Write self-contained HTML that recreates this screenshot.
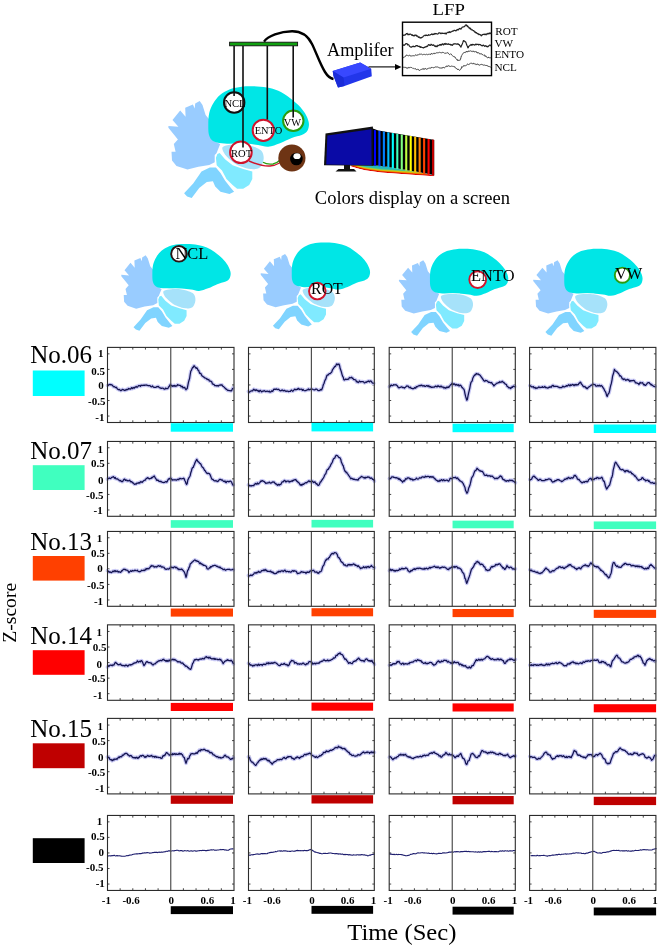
<!DOCTYPE html><html><head><meta charset="utf-8"><title>LFP color responses</title><style>
html,body{margin:0;padding:0;background:#fff;}svg{display:block;}
text{font-family:'Liberation Serif','Times New Roman',serif;fill:#000;}
.tk{font-weight:bold;font-size:11px;}
</style></head><body>
<svg width="660" height="948" viewBox="0 0 660 948">
<rect width="660" height="948" fill="#fff"/>
<defs>
<g id="brain">
<polygon points="199.7,100.9 202.5,105 205.6,115 209.3,119.5 212.9,131.4 216.5,142.3 220.2,144.1 216.5,153.2 214.7,155 214.7,162.3 209.3,165 198.4,166.8 187.5,169.5 176.5,165.9 172,160.5 171.5,151.8 175.6,151.8 173.8,144.1 177.9,139.5 168.4,127.7 168.4,125.9 178.4,126.8 172.5,120 180.2,110.5 185.6,116.8 185.2,107.7 192.9,104.5 194.7,108.6 195.2,103.6" fill="#99CCFF"/>
<path d="M208.3,125C208.33,121.38 208.37,116.92 209.2,113.3C210.03,109.68 211.5,106.35 213.3,103.3C215.1,100.25 217.22,97.35 220,95C222.78,92.65 226.38,90.58 230,89.2C233.62,87.82 237.82,87.18 241.7,86.7C245.58,86.22 249.13,86.17 253.3,86.3C257.47,86.43 262.53,86.75 266.7,87.5C270.87,88.25 274.7,89.27 278.3,90.8C281.9,92.33 284.97,94.33 288.3,96.7C291.63,99.07 295.52,102.23 298.3,105C301.08,107.77 303.28,110.52 305,113.3C306.72,116.08 308,119.33 308.6,121.7C309.2,124.07 308.95,125.78 308.6,127.5C308.25,129.22 307.65,130.75 306.5,132C305.35,133.25 304.17,134 301.7,135C299.23,136 295.32,136.62 291.7,138C288.08,139.38 283.9,141.85 280,143.3C276.1,144.75 271.97,146.42 268.3,146.7C264.63,146.98 261.72,145.52 258,145C254.28,144.48 250.17,143.8 246,143.6C241.83,143.4 237.05,143.85 233,143.8C228.95,143.75 225.03,143.77 221.7,143.3C218.37,142.83 215.12,142.38 213,141C210.88,139.62 209.78,137.67 209,135C208.22,132.33 208.27,128.62 208.3,125Z" fill="#00E6E6"/>
<polygon points="184.1,193.3 193.2,183.5 201.5,171.4 209.8,167.6 215.9,167.6 220.5,172.9 225,180.5 230.3,187.3 234.1,191.8 229.5,194.1 220.5,191.8 215.2,186.5 212.9,181.2 206.8,182 199.2,188 191.7,197.9 187.1,196.4" fill="#80D4FF" stroke="#fff" stroke-width="1.4" paint-order="stroke" stroke-linejoin="round"/>
<polygon points="219.7,152.9 225,159.2 232.6,165.3 243.2,169.1 252.3,171.4 252.3,178.9 249.2,185 243.2,188.8 237.1,188.8 232.6,185 226.5,178.9 222,170.6 216.7,165.3 215.9,157.7 217.4,153.9" fill="#80EAFF" stroke="#fff" stroke-width="1.4" paint-order="stroke" stroke-linejoin="round"/>
<path d="M223.5,146.4C225.15,145.43 228.82,144.67 232.6,144.4C236.38,144.13 242.17,144.22 246.2,144.8C250.23,145.38 254.15,146.75 256.8,147.9C259.45,149.05 260.97,149.82 262.1,151.7C263.23,153.58 263.98,156.55 263.6,159.2C263.22,161.85 261.93,165.95 259.8,167.6C257.67,169.25 253.82,169.23 250.8,169.1C247.78,168.97 244.48,167.82 241.7,166.8C238.92,165.78 236.63,164.77 234.1,163C231.57,161.23 228.4,158.33 226.5,156.2C224.6,154.07 223.2,151.83 222.7,150.2C222.2,148.57 221.85,147.37 223.5,146.4Z" fill="#A6E2FA" stroke="#fff" stroke-width="1.4" paint-order="stroke"/>
</g>
</defs>
<use href="#brain"/>
<path d="M249,161 C256,164 264,166.5 270,166 C274,165.6 277,164.5 279.5,163" fill="none" stroke="#D0142C" stroke-width="1.4"/>
<path d="M263,162.3 C266,164.2 270,164.4 273,164 C276,163.5 278,162 279.5,160.5" fill="none" stroke="#2AA010" stroke-width="1.3"/>
<circle cx="291.9" cy="158" r="13.6" fill="#6E3414"/>
<circle cx="296.4" cy="159" r="6.3" fill="#000"/>
<ellipse cx="297" cy="156.2" rx="3.6" ry="2.9" fill="#fff"/>
<circle cx="234.2" cy="102.5" r="10.2" fill="#fff" stroke="#111" stroke-width="2"/>
<circle cx="263.3" cy="130.3" r="10.6" fill="#fff" stroke="#D0142C" stroke-width="2"/>
<circle cx="293.3" cy="120.8" r="10.2" fill="#fff" stroke="#2A9D10" stroke-width="2"/>
<circle cx="240.9" cy="152.3" r="10.8" fill="#fff" stroke="#D0142C" stroke-width="2"/>
<path d="M234.1,46V96M243,46V147.5M267.3,46V119.5M293.2,46V117.5" stroke="#111" stroke-width="1.6" fill="none"/>
<text x="235" y="107" text-anchor="middle" style="font-size:10.6px">NCL</text>
<text x="268.5" y="134.2" text-anchor="middle" style="font-size:10.4px">ENTO</text>
<text x="292.5" y="125.8" text-anchor="middle" style="font-size:10.4px">VW</text>
<text x="241.6" y="156.5" text-anchor="middle" style="font-size:10.6px">ROT</text>
<rect x="229.6" y="42.2" width="68" height="3.6" fill="#10A010" stroke="#111" stroke-width="0.9"/>
<path d="M264,41.6 C268,36 280,31.5 292,31.3 C302,31.2 308,36 312,44 C316,52 320,64 325,72 C327.5,76 330,78.5 333.5,79" fill="none" stroke="#000" stroke-width="2.4"/>
<polygon points="332.7,71 360.2,62.6 371.2,68.8 371.8,76.3 344.5,86 338,87.5 333.5,76" fill="#2236EA"/>
<polygon points="332.7,71 360.2,62.6 371.2,68.8 343.5,77.6" fill="#3848FF"/>
<polygon points="332.7,71 343.5,77.6 344.5,86 338,87.5 333.5,76" fill="#1A2CD8"/>
<path d="M368.5,66.9 H396" stroke="#000" stroke-width="1.1"/>
<path d="M395,63.9 L401.5,66.9 L395,69.9Z" fill="#000"/>
<rect x="402.5" y="22.2" width="89" height="53.4" fill="#fff" stroke="#000" stroke-width="1.4"/>
<text transform="translate(448.7,15.4) scale(1.09,1)" text-anchor="middle" style="font-size:17.2px">LFP</text>
<text x="327" y="55.5" style="font-size:18.2px">Amplifer</text>
<text x="495.3" y="35" style="font-size:11.2px">ROT</text>
<text x="494.4" y="46.7" style="font-size:11.2px">VW</text>
<text x="494.4" y="58.1" style="font-size:11.2px">ENTO</text>
<text x="494.4" y="70.5" style="font-size:11.2px">NCL</text>
<path d="M402.88,35.04 L403.31,35.1 L403.75,35.37 L404.18,35.26 L404.61,35.13 L405.05,34.62 L405.48,34.78 L405.91,34.39 L406.35,33.62 L406.78,33.71 L407.21,33.37 L407.65,34.38 L408.08,34.76 L408.51,34.21 L408.95,34.08 L409.38,34.64 L409.81,34.2 L410.25,34.1 L410.68,34.14 L411.11,34.4 L411.55,34.87 L411.98,35.47 L412.41,34.82 L412.85,35.57 L413.28,35.38 L413.71,35.79 L414.15,35.88 L414.58,35.19 L415.01,35.62 L415.45,35.19 L415.88,34.98 L416.31,35.44 L416.75,36.11 L417.18,36.25 L417.61,36 L418.05,36.84 L418.48,37.34 L418.91,36.83 L419.35,37.09 L419.78,37.54 L420.21,38.14 L420.65,37.51 L421.08,37.51 L421.51,37.82 L421.95,37.31 L422.38,37.1 L422.81,36.92 L423.25,36.37 L423.68,35.77 L424.11,35.76 L424.55,35.5 L424.98,35.21 L425.41,35.68 L425.84,35.19 L426.28,35.13 L426.71,35.39 L427.14,35.48 L427.58,35.55 L428.01,35.24 L428.44,34.62 L428.88,35.09 L429.31,35.25 L429.74,35.02 L430.18,34.96 L430.61,34.6 L431.04,34.45 L431.48,34.48 L431.91,33.94 L432.34,34.37 L432.78,34.69 L433.21,33.93 L433.64,34.37 L434.08,34.42 L434.51,33.71 L434.94,33.38 L435.38,33.9 L435.81,33.58 L436.24,33.56 L436.68,33.88 L437.11,33.97 L437.54,34.07 L437.98,33.85 L438.41,33.46 L438.84,32.93 L439.28,32.85 L439.71,32.88 L440.14,33.24 L440.58,33.54 L441.01,32.98 L441.44,32.99 L441.88,33.59 L442.31,33.11 L442.74,33.4 L443.18,33.4 L443.61,33.48 L444.04,33.32 L444.48,33.38 L444.91,33.61 L445.34,33.07 L445.78,33.7 L446.21,34 L446.64,32.96 L447.08,32.72 L447.51,32.61 L447.94,32.3 L448.38,32.15 L448.81,32.6 L449.24,32.02 L449.68,31.68 L450.11,32.52 L450.54,32.02 L450.98,31.94 L451.41,31.73 L451.84,31.42 L452.28,31.35 L452.71,30.92 L453.14,31.15 L453.58,30.73 L454.01,30.37 L454.44,30.24 L454.88,30.34 L455.31,30.88 L455.74,30.55 L456.18,30.8 L456.61,30.09 L457.04,29.61 L457.48,29.9 L457.91,29.27 L458.34,29.91 L458.78,29.26 L459.21,28.81 L459.64,28.55 L460.08,28.39 L460.51,28.97 L460.94,29.09 L461.38,28.49 L461.81,27.8 L462.24,27.21 L462.68,26.99 L463.11,26.97 L463.54,27.02 L463.98,26.71 L464.41,26.58 L464.84,26.2 L465.28,25.23 L465.71,25.02 L466.14,24.85 L466.58,25.56 L467.01,25.43 L467.44,26.63 L467.88,26.17 L468.31,27.04 L468.74,27.29 L469.18,28.12 L469.61,27.81 L470.04,28.82 L470.48,28.31 L470.91,29.25 L471.34,29.72 L471.78,29.85 L472.21,29.73 L472.64,30.17 L473.08,30.58 L473.51,30.63 L473.94,30.79 L474.38,31.85 L474.81,32.03 L475.24,31.96 L475.68,32.56 L476.11,32.96 L476.54,32.7 L476.98,33.36 L477.41,33.76 L477.84,33.49 L478.28,33.73 L478.71,34.59 L479.14,34.63 L479.58,34.35 L480.01,34.59 L480.44,34.85 L480.88,35.35 L481.31,35.8 L481.74,35.09 L482.18,34.69 L482.61,34.96 L483.04,34.46 L483.48,34.4 L483.91,34.25 L484.34,34.1 L484.78,34.62 L485.21,34.07 L485.64,34.39 L486.08,34.83 L486.51,33.89 L486.94,34.23 L487.38,34.02 L487.81,33.36 L488.24,33.98 L488.68,33.8 L489.11,33.22 L489.54,33.54 L489.98,32.76 L490.41,33.39 L490.84,33.58 L491.28,32.78" fill="none" stroke="#222" stroke-width="1.2" stroke-linejoin="round"/>
<path d="M402.88,45.4 L403.31,44.8 L403.75,45.41 L404.18,45.42 L404.61,44.76 L405.05,44.67 L405.48,44 L405.91,43.68 L406.35,43.54 L406.78,43.86 L407.21,43.78 L407.65,44.94 L408.08,44.49 L408.51,44.78 L408.95,45.01 L409.38,46.16 L409.81,46.3 L410.25,46.74 L410.68,46.97 L411.11,47.27 L411.55,46.98 L411.98,46.58 L412.41,46.64 L412.85,46.43 L413.28,46.05 L413.71,46.7 L414.15,46.65 L414.58,46.53 L415.01,46.67 L415.45,46.06 L415.88,45.77 L416.31,45.66 L416.75,45.58 L417.18,46.07 L417.61,45.57 L418.05,46.09 L418.48,46.46 L418.91,46.48 L419.35,46.24 L419.78,47.1 L420.21,46.67 L420.65,47.33 L421.08,47.17 L421.51,47.11 L421.95,47.4 L422.38,47.48 L422.81,47.52 L423.25,47.95 L423.68,47.98 L424.11,47.41 L424.55,47.43 L424.98,47.07 L425.41,46.84 L425.84,47.07 L426.28,46.32 L426.71,46.62 L427.14,46.38 L427.58,46.18 L428.01,45.2 L428.44,44.88 L428.88,44.6 L429.31,44.76 L429.74,45.4 L430.18,45.39 L430.61,45.22 L431.04,44.2 L431.48,44.49 L431.91,44.88 L432.34,45.16 L432.78,45.34 L433.21,44.75 L433.64,44.74 L434.08,45.58 L434.51,45.89 L434.94,46.29 L435.38,46 L435.81,46.56 L436.24,45.96 L436.68,46.63 L437.11,46.62 L437.54,45.86 L437.98,45.21 L438.41,45.47 L438.84,45.61 L439.28,45.15 L439.71,44.56 L440.14,44.53 L440.58,45.11 L441.01,44.36 L441.44,45.07 L441.88,44.42 L442.31,44.1 L442.74,43.84 L443.18,44.73 L443.61,44.84 L444.04,44.12 L444.48,43.58 L444.91,44.02 L445.34,44.37 L445.78,43.38 L446.21,43.75 L446.64,44.24 L447.08,43.98 L447.51,44.09 L447.94,44.46 L448.38,43.97 L448.81,43.92 L449.24,44.43 L449.68,44.51 L450.11,44.58 L450.54,44.42 L450.98,45.14 L451.41,44.66 L451.84,45.03 L452.28,45.4 L452.71,44.83 L453.14,44.19 L453.58,44.13 L454.01,43.87 L454.44,43.83 L454.88,43.72 L455.31,43.89 L455.74,43.92 L456.18,43.95 L456.61,44.16 L457.04,44.18 L457.48,44.13 L457.91,43.68 L458.34,44.23 L458.78,44.64 L459.21,44.58 L459.64,45.38 L460.08,45.68 L460.51,46.51 L460.94,47.15 L461.38,45.8 L461.81,44.92 L462.24,44.01 L462.68,42.88 L463.11,41.57 L463.54,40.53 L463.98,40.78 L464.41,41.24 L464.84,41.33 L465.28,41.93 L465.71,41.94 L466.14,43.12 L466.58,44.61 L467.01,45.6 L467.44,46.3 L467.88,47.88 L468.31,47.61 L468.74,46.26 L469.18,46.03 L469.61,45.77 L470.04,45.24 L470.48,45.24 L470.91,44.49 L471.34,45.02 L471.78,45.27 L472.21,44.37 L472.64,44.81 L473.08,44.4 L473.51,44.68 L473.94,44.79 L474.38,45.12 L474.81,44.98 L475.24,44.35 L475.68,44.59 L476.11,44.04 L476.54,44.6 L476.98,44.47 L477.41,44.3 L477.84,44.27 L478.28,44.28 L478.71,45.02 L479.14,44.47 L479.58,44.51 L480.01,44.53 L480.44,44.55 L480.88,45.28 L481.31,45.38 L481.74,45.55 L482.18,45.93 L482.61,45.56 L483.04,45.02 L483.48,45.08 L483.91,45.54 L484.34,45.96 L484.78,46.38 L485.21,46.07 L485.64,45.7 L486.08,46.07 L486.51,46.63 L486.94,46.14 L487.38,46.75 L487.81,46.85 L488.24,46.4 L488.68,46.07 L489.11,45.48 L489.54,45.21 L489.98,44.97 L490.41,45.49 L490.84,45.7 L491.28,46.01" fill="none" stroke="#222" stroke-width="1.2" stroke-linejoin="round"/>
<path d="M402.88,57.69 L403.31,57.79 L403.75,57.07 L404.18,57.27 L404.61,56.97 L405.05,56.39 L405.48,56.27 L405.91,55.94 L406.35,55 L406.78,55.06 L407.21,55.32 L407.65,55.34 L408.08,55.83 L408.51,55.85 L408.95,55.49 L409.38,55.25 L409.81,55.11 L410.25,55.93 L410.68,56.08 L411.11,56.08 L411.55,55.93 L411.98,56.01 L412.41,55.75 L412.85,56.04 L413.28,55.56 L413.71,55.9 L414.15,55.94 L414.58,55.92 L415.01,55.34 L415.45,54.91 L415.88,54.99 L416.31,55.35 L416.75,55.18 L417.18,55.33 L417.61,54.92 L418.05,54.69 L418.48,55.14 L418.91,54.33 L419.35,54.06 L419.78,54.35 L420.21,54.41 L420.65,54.13 L421.08,54.22 L421.51,54.11 L421.95,54.35 L422.38,54.68 L422.81,54.7 L423.25,54.49 L423.68,54.23 L424.11,54.71 L424.55,54.27 L424.98,54.34 L425.41,54.66 L425.84,54.53 L426.28,54.15 L426.71,54.45 L427.14,54.37 L427.58,54.72 L428.01,54.48 L428.44,54.3 L428.88,54.72 L429.31,54.28 L429.74,53.95 L430.18,54.45 L430.61,54.57 L431.04,53.66 L431.48,53.23 L431.91,53.99 L432.34,54.21 L432.78,53.65 L433.21,53.29 L433.64,53.65 L434.08,54.03 L434.51,53.24 L434.94,53.25 L435.38,53.46 L435.81,52.97 L436.24,53.01 L436.68,52.68 L437.11,52.96 L437.54,52.73 L437.98,52.47 L438.41,52.73 L438.84,52.51 L439.28,52.38 L439.71,52.36 L440.14,52.65 L440.58,52.6 L441.01,53.05 L441.44,52.8 L441.88,52.5 L442.31,52.33 L442.74,52.44 L443.18,53.02 L443.61,52.58 L444.04,52.77 L444.48,53.26 L444.91,53.45 L445.34,53.09 L445.78,53.46 L446.21,53.35 L446.64,52.85 L447.08,52.56 L447.51,52.58 L447.94,53.34 L448.38,53.2 L448.81,53.87 L449.24,54.38 L449.68,54.62 L450.11,54.32 L450.54,53.83 L450.98,54.16 L451.41,54.34 L451.84,55.05 L452.28,55.48 L452.71,56.02 L453.14,56.08 L453.58,56.55 L454.01,56.46 L454.44,56.62 L454.88,57.46 L455.31,57.4 L455.74,58.33 L456.18,58.89 L456.61,59.57 L457.04,59.18 L457.48,59.56 L457.91,60.92 L458.34,60.26 L458.78,60.29 L459.21,60.39 L459.64,60.18 L460.08,60.31 L460.51,59.36 L460.94,57.54 L461.38,55.92 L461.81,55.54 L462.24,54.59 L462.68,53.91 L463.11,53.33 L463.54,52.76 L463.98,53.03 L464.41,52.51 L464.84,52.43 L465.28,52.6 L465.71,51.89 L466.14,52.15 L466.58,51.18 L467.01,51.66 L467.44,51.76 L467.88,51.99 L468.31,50.93 L468.74,51.13 L469.18,51.21 L469.61,51.24 L470.04,51.06 L470.48,50.73 L470.91,51.33 L471.34,51.45 L471.78,51.23 L472.21,51.61 L472.64,51.36 L473.08,50.82 L473.51,51.49 L473.94,51.09 L474.38,51.84 L474.81,52.04 L475.24,51.68 L475.68,51.61 L476.11,51.59 L476.54,51.81 L476.98,52.93 L477.41,52.48 L477.84,53.23 L478.28,52.69 L478.71,52.9 L479.14,53.24 L479.58,53.32 L480.01,54.19 L480.44,53.71 L480.88,53.98 L481.31,53.85 L481.74,53.82 L482.18,54.62 L482.61,54.57 L483.04,54.85 L483.48,55.3 L483.91,54.86 L484.34,54.85 L484.78,55.75 L485.21,56.53 L485.64,55.76 L486.08,56.2 L486.51,57.12 L486.94,57.36 L487.38,57.77 L487.81,57.44 L488.24,57.92 L488.68,57.06 L489.11,57.37 L489.54,57.98 L489.98,57.7 L490.41,57.75 L490.84,57.85 L491.28,57.88" fill="none" stroke="#3a3a3a" stroke-width="1" stroke-linejoin="round"/>
<path d="M402.88,67.53 L403.31,67.2 L403.75,67.48 L404.18,67.66 L404.61,67.17 L405.05,66.94 L405.48,67.57 L405.91,67.27 L406.35,67.56 L406.78,68.32 L407.21,68.51 L407.65,67.67 L408.08,67.37 L408.51,67.45 L408.95,68.19 L409.38,67.46 L409.81,67.48 L410.25,67.35 L410.68,67.33 L411.11,67.79 L411.55,67.53 L411.98,67.72 L412.41,68.16 L412.85,68.32 L413.28,68.13 L413.71,68.62 L414.15,68.61 L414.58,69.01 L415.01,68.55 L415.45,68.66 L415.88,69.04 L416.31,69.69 L416.75,69.59 L417.18,69.5 L417.61,69.31 L418.05,69.38 L418.48,69.43 L418.91,70.32 L419.35,70.39 L419.78,70.38 L420.21,69.89 L420.65,69.9 L421.08,69.37 L421.51,69.38 L421.95,68.93 L422.38,69.07 L422.81,68.87 L423.25,68.57 L423.68,69.4 L424.11,68.63 L424.55,69.19 L424.98,69.18 L425.41,68.4 L425.84,68.59 L426.28,69.2 L426.71,69.32 L427.14,68.8 L427.58,68.84 L428.01,68.73 L428.44,68.15 L428.88,68.23 L429.31,68.26 L429.74,67.98 L430.18,68.35 L430.61,67.97 L431.04,68.16 L431.48,67.36 L431.91,67.52 L432.34,67.04 L432.78,67.56 L433.21,67.93 L433.64,67.6 L434.08,67.48 L434.51,67.46 L434.94,66.94 L435.38,66.92 L435.81,67.09 L436.24,67.17 L436.68,66.93 L437.11,67.04 L437.54,66.95 L437.98,67.24 L438.41,67.52 L438.84,67.24 L439.28,67.63 L439.71,67.99 L440.14,67.78 L440.58,68.29 L441.01,67.71 L441.44,68.3 L441.88,67.66 L442.31,67.71 L442.74,68.1 L443.18,67.19 L443.61,67.5 L444.04,67.8 L444.48,67.87 L444.91,67.49 L445.34,66.87 L445.78,66.57 L446.21,66.73 L446.64,66.01 L447.08,65.65 L447.51,66.45 L447.94,66.28 L448.38,65.67 L448.81,65.86 L449.24,65.79 L449.68,66.48 L450.11,66.03 L450.54,66.44 L450.98,66.62 L451.41,66.2 L451.84,66.02 L452.28,66.32 L452.71,66.3 L453.14,66.55 L453.58,66.34 L454.01,66.86 L454.44,66.82 L454.88,66.69 L455.31,67.62 L455.74,68.26 L456.18,68.41 L456.61,68.51 L457.04,69.13 L457.48,69.61 L457.91,68.87 L458.34,69.52 L458.78,69.47 L459.21,70.14 L459.64,70.42 L460.08,69.95 L460.51,69.56 L460.94,69.15 L461.38,67.81 L461.81,66.61 L462.24,67.23 L462.68,67.07 L463.11,66.59 L463.54,65.78 L463.98,65.32 L464.41,66.07 L464.84,65.66 L465.28,65.78 L465.71,65.57 L466.14,65.36 L466.58,65.27 L467.01,64.49 L467.44,64.14 L467.88,64.16 L468.31,64.46 L468.74,64.48 L469.18,64.34 L469.61,63.99 L470.04,63.66 L470.48,63.13 L470.91,63.42 L471.34,63.4 L471.78,63.12 L472.21,63.43 L472.64,63.9 L473.08,64.09 L473.51,63.23 L473.94,63.27 L474.38,63.75 L474.81,64.06 L475.24,63.76 L475.68,64.51 L476.11,64.26 L476.54,64.63 L476.98,63.98 L477.41,64.13 L477.84,63.93 L478.28,64.78 L478.71,64.74 L479.14,65.26 L479.58,65.02 L480.01,64.64 L480.44,64.58 L480.88,64.61 L481.31,64.42 L481.74,64.28 L482.18,64.9 L482.61,64.71 L483.04,64.84 L483.48,65.2 L483.91,64.86 L484.34,65.04 L484.78,65.04 L485.21,65.11 L485.64,65.61 L486.08,65.17 L486.51,65.47 L486.94,65.29 L487.38,65.97 L487.81,65.82 L488.24,66.63 L488.68,66.38 L489.11,66.6 L489.54,66.57 L489.98,66.99 L490.41,67.05 L490.84,67.08 L491.28,66.44" fill="none" stroke="#3a3a3a" stroke-width="1" stroke-linejoin="round"/>
<defs><clipPath id="floorclip"><polygon points="350.5,165.6 373.9,165.5 376.1,165.5 380.57,166.13 385.04,166.79 389.51,167.47 393.98,168.17 398.45,168.9 402.92,169.65 407.39,170.43 411.86,171.23 416.33,172.05 420.8,172.9 425.27,173.77 429.74,174.67 434.21,175.59 433.8,176.3 405,174.2 381,172.6 365,170.3 358,168.6 350.5,166.3"/></clipPath></defs>
<g clip-path="url(#floorclip)">
<polygon points="349,160 350.5,166.3 358,168.6 365,170.3 381,172.6 405,174.2 433.8,176.3 435,160" fill="#E00000"/>
<polygon points="349,160 350.5,165.3 358,167.6 365,169.3 381,171.6 405,173.2 433.8,175.3 435,160" fill="#F06000"/>
<polygon points="349,160 350.5,164.5 358,166.8 365,168.5 381,170.8 405,172.4 433.8,174.5 435,160" fill="#E0C000"/>
<polygon points="349,160 350.5,163.7 358,166 365,167.7 381,170 405,171.6 433.8,173.7 435,160" fill="#90D050"/>
<polygon points="349,160 350.5,162.9 358,165.2 365,166.9 381,169.2 405,170.8 433.8,172.9 435,160" fill="#30C0A8"/>
<polygon points="349,160 350.5,161.9 358,164.2 365,165.9 381,168.2 405,169.8 433.8,171.9 435,160" fill="#20B8C0"/>
</g>
<polygon points="371.5,128 378.37,130.5 382.84,131.24 387.31,131.98 391.78,132.72 396.25,133.46 400.72,134.2 405.19,134.94 409.66,135.68 414.13,136.42 418.6,137.16 423.07,137.9 427.54,138.64 432.01,139.38 434.21,140.12 434.21,175.59 432.01,174.67 427.54,173.77 423.07,172.9 418.6,172.05 414.13,171.23 409.66,170.43 405.19,169.65 400.72,168.9 396.25,168.17 391.78,167.47 387.31,166.79 382.84,166.13 378.37,165.5 371.5,165.6" fill="#000"/>
<polygon points="373.9,130 376,130.2 376,165.5 373.9,165.5" fill="#0000FF"/>
<polygon points="378.37,130.74 380.47,130.94 380.47,166.13 378.37,166.13" fill="#0040FF"/>
<polygon points="382.84,131.48 384.94,131.68 384.94,166.79 382.84,166.79" fill="#0080FF"/>
<polygon points="387.31,132.22 389.41,132.42 389.41,167.47 387.31,167.47" fill="#00BFFF"/>
<polygon points="391.78,132.96 393.88,133.16 393.88,168.17 391.78,168.17" fill="#00FFFF"/>
<polygon points="396.25,133.7 398.35,133.9 398.35,168.9 396.25,168.9" fill="#40FFBF"/>
<polygon points="400.72,134.44 402.82,134.64 402.82,169.65 400.72,169.65" fill="#80FF80"/>
<polygon points="405.19,135.18 407.29,135.38 407.29,170.43 405.19,170.43" fill="#BFFF40"/>
<polygon points="409.66,135.92 411.76,136.12 411.76,171.23 409.66,171.23" fill="#FFFF00"/>
<polygon points="414.13,136.66 416.23,136.86 416.23,172.05 414.13,172.05" fill="#FFBF00"/>
<polygon points="418.6,137.4 420.7,137.6 420.7,172.9 418.6,172.9" fill="#FF8000"/>
<polygon points="423.07,138.14 425.17,138.34 425.17,173.77 423.07,173.77" fill="#FF4000"/>
<polygon points="427.54,138.88 429.64,139.08 429.64,174.67 427.54,174.67" fill="#FF0000"/>
<polygon points="432.01,139.62 434.11,139.82 434.11,175.59 432.01,175.59" fill="#BF0000"/>
<polygon points="325.5,133.6 372.9,126.6 373.4,165.8 324,165.2" fill="#111"/>
<polygon points="327.4,135.6 371.4,129.3 371.6,165.2 326.2,164.6" fill="#0A0AA6"/>
<rect x="344" y="165" width="6" height="4.3" fill="#111"/>
<polygon points="335.5,171.4 338.5,169 354,169 356.5,171.4" fill="#111"/>
<text x="314.8" y="203.9" style="font-size:18.5px">Colors display on a screen</text>
<use href="#brain" transform="translate(-9.7,176.8) scale(0.778)"/>
<circle cx="179" cy="253.8" r="7.8" fill="#fff" stroke="#2a1414" stroke-width="1.9"/>
<text x="175.5" y="258.6" style="font-size:16.4px">NCL</text>
<use href="#brain" transform="translate(129.7,175.4) scale(0.778)"/>
<circle cx="317.3" cy="291.1" r="8.3" fill="#fff" stroke="#D0142C" stroke-width="1.9"/>
<text x="311.1" y="294.3" style="font-size:15.8px">ROT</text>
<use href="#brain" transform="translate(267.9,181.7) scale(0.778)"/>
<circle cx="477.7" cy="279.6" r="8.4" fill="#fff" stroke="#D0142C" stroke-width="1.9"/>
<text x="471.1" y="281.25" style="font-size:16.4px">ENTO</text>
<use href="#brain" transform="translate(402.2,181.7) scale(0.778)"/>
<circle cx="622.4" cy="275.2" r="7.6" fill="#fff" stroke="#2A9D10" stroke-width="1.9"/>
<text x="615" y="279.1" style="font-size:16.4px">VW</text>
<path d="M120.15,347.4v2.2M120.15,422.5v-2.2M132.8,347.4v2.2M132.8,422.5v-2.2M145.45,347.4v2.2M145.45,422.5v-2.2M158.1,347.4v2.2M158.1,422.5v-2.2M183.4,347.4v2.2M183.4,422.5v-2.2M196.05,347.4v2.2M196.05,422.5v-2.2M208.7,347.4v2.2M208.7,422.5v-2.2M221.35,347.4v2.2M221.35,422.5v-2.2M107.5,416.05h2M234,416.05h-2M107.5,400.5h2M234,400.5h-2M107.5,384.95h2M234,384.95h-2M107.5,369.4h2M234,369.4h-2M107.5,353.85h2M234,353.85h-2" stroke="#333" stroke-width="0.9" fill="none"/>
<path d="M107.4,385.52 L108,385.52 L108.6,384.96 L109.2,384.47 L109.8,384.62 L110.4,384.47 L111,384.96 L111.6,384.68 L112.2,385.11 L112.8,385.74 L113.4,386.75 L114,386.76 L114.6,386.6 L115.2,387.35 L115.8,387.55 L116.4,387.27 L117,388.39 L117.6,389.15 L118.2,389.41 L118.8,389.88 L119.4,389.37 L120,390 L120.6,390.61 L121.2,390.52 L121.8,390.09 L122.4,389.34 L123,389.53 L123.6,389.82 L124.2,390.32 L124.8,390.52 L125.4,389.82 L126,390.12 L126.6,389.29 L127.2,389.79 L127.8,389.49 L128.4,388.49 L129,389.09 L129.6,388.7 L130.2,389.09 L130.8,388.87 L131.4,387.7 L132,387.94 L132.6,388.53 L133.2,387.75 L133.8,387.48 L134.4,388.08 L135,387.11 L135.6,387.16 L136.2,386.52 L136.8,387.23 L137.4,387.08 L138,386.38 L138.6,385.5 L139.2,385.5 L139.8,385.72 L140.4,386.34 L141,385.21 L141.6,385.36 L142.2,385.53 L142.8,385.24 L143.4,385.43 L144,385.01 L144.6,385.44 L145.2,385.06 L145.8,385.06 L146.4,384.98 L147,385.33 L147.6,385.31 L148.2,385.76 L148.8,385.65 L149.4,385.6 L150,385.7 L150.6,386.46 L151.2,386.81 L151.8,386.62 L152.4,385.96 L153,386.72 L153.6,387.14 L154.2,387.35 L154.8,387.28 L155.4,387.32 L156,387.37 L156.6,386.8 L157.2,386.4 L157.8,386.84 L158.4,386.46 L159,387.25 L159.6,387.72 L160.2,388.09 L160.8,387.89 L161.4,388.48 L162,388.22 L162.6,388.01 L163.2,388.28 L163.8,388.93 L164.4,389.11 L165,389.06 L165.6,388.05 L166.2,388.55 L166.8,388.58 L167.4,388.54 L168,388.36 L168.6,386.88 L169.2,386.58 L169.8,385.14 L170.4,384.53 L171,385.4 L171.6,385.38 L172.2,386.41 L172.8,385.88 L173.4,385.66 L174,386.29 L174.6,385.43 L175.2,385.81 L175.8,386.33 L176.4,385.83 L177,385.77 L177.6,384.67 L178.2,385.12 L178.8,385.18 L179.4,385.31 L180,385.34 L180.6,385.6 L181.2,386.91 L181.8,386.26 L182.4,386.29 L183,387.94 L183.6,387.52 L184.2,387.37 L184.8,387.63 L185.4,388.86 L186,389.72 L186.6,388.82 L187.2,388.6 L187.8,385.58 L188.4,382.52 L189,380.37 L189.6,378.47 L190.2,374.5 L190.8,371.06 L191.4,370.37 L192,368.78 L192.6,367.42 L193.2,367.51 L193.8,365.89 L194.4,365.86 L195,366.82 L195.6,367.68 L196.2,368.4 L196.8,367.72 L197.4,368.63 L198,370.22 L198.6,370.32 L199.2,372.05 L199.8,373.37 L200.4,373.31 L201,373.78 L201.6,375.18 L202.2,376.05 L202.8,376.33 L203.4,376.9 L204,377.18 L204.6,377.77 L205.2,378.15 L205.8,378.22 L206.4,378.49 L207,379.4 L207.6,379.07 L208.2,379.77 L208.8,379.58 L209.4,380.99 L210,381.2 L210.6,381.06 L211.2,381.52 L211.8,382.05 L212.4,383.84 L213,384.07 L213.6,384.4 L214.2,384.69 L214.8,385.67 L215.4,385.63 L216,385.69 L216.6,385.96 L217.2,385.66 L217.8,385.68 L218.4,386.1 L219,385.32 L219.6,385.15 L220.2,385.13 L220.8,384.81 L221.4,385.16 L222,384.82 L222.6,385.94 L223.2,386.4 L223.8,386.85 L224.4,387.4 L225,388.25 L225.6,388.41 L226.2,389.35 L226.8,389.28 L227.4,390.27 L228,390.54 L228.6,390.27 L229.2,390.66 L229.8,390.66 L230.4,390.72 L231,391 L231.6,390.66 L232.2,389.21 L232.8,387.96" fill="none" stroke="#c8c8f4" stroke-width="3.6" stroke-linejoin="round" stroke-linecap="round"/>
<path d="M107.4,385.52 L108,385.52 L108.6,384.96 L109.2,384.47 L109.8,384.62 L110.4,384.47 L111,384.96 L111.6,384.68 L112.2,385.11 L112.8,385.74 L113.4,386.75 L114,386.76 L114.6,386.6 L115.2,387.35 L115.8,387.55 L116.4,387.27 L117,388.39 L117.6,389.15 L118.2,389.41 L118.8,389.88 L119.4,389.37 L120,390 L120.6,390.61 L121.2,390.52 L121.8,390.09 L122.4,389.34 L123,389.53 L123.6,389.82 L124.2,390.32 L124.8,390.52 L125.4,389.82 L126,390.12 L126.6,389.29 L127.2,389.79 L127.8,389.49 L128.4,388.49 L129,389.09 L129.6,388.7 L130.2,389.09 L130.8,388.87 L131.4,387.7 L132,387.94 L132.6,388.53 L133.2,387.75 L133.8,387.48 L134.4,388.08 L135,387.11 L135.6,387.16 L136.2,386.52 L136.8,387.23 L137.4,387.08 L138,386.38 L138.6,385.5 L139.2,385.5 L139.8,385.72 L140.4,386.34 L141,385.21 L141.6,385.36 L142.2,385.53 L142.8,385.24 L143.4,385.43 L144,385.01 L144.6,385.44 L145.2,385.06 L145.8,385.06 L146.4,384.98 L147,385.33 L147.6,385.31 L148.2,385.76 L148.8,385.65 L149.4,385.6 L150,385.7 L150.6,386.46 L151.2,386.81 L151.8,386.62 L152.4,385.96 L153,386.72 L153.6,387.14 L154.2,387.35 L154.8,387.28 L155.4,387.32 L156,387.37 L156.6,386.8 L157.2,386.4 L157.8,386.84 L158.4,386.46 L159,387.25 L159.6,387.72 L160.2,388.09 L160.8,387.89 L161.4,388.48 L162,388.22 L162.6,388.01 L163.2,388.28 L163.8,388.93 L164.4,389.11 L165,389.06 L165.6,388.05 L166.2,388.55 L166.8,388.58 L167.4,388.54 L168,388.36 L168.6,386.88 L169.2,386.58 L169.8,385.14 L170.4,384.53 L171,385.4 L171.6,385.38 L172.2,386.41 L172.8,385.88 L173.4,385.66 L174,386.29 L174.6,385.43 L175.2,385.81 L175.8,386.33 L176.4,385.83 L177,385.77 L177.6,384.67 L178.2,385.12 L178.8,385.18 L179.4,385.31 L180,385.34 L180.6,385.6 L181.2,386.91 L181.8,386.26 L182.4,386.29 L183,387.94 L183.6,387.52 L184.2,387.37 L184.8,387.63 L185.4,388.86 L186,389.72 L186.6,388.82 L187.2,388.6 L187.8,385.58 L188.4,382.52 L189,380.37 L189.6,378.47 L190.2,374.5 L190.8,371.06 L191.4,370.37 L192,368.78 L192.6,367.42 L193.2,367.51 L193.8,365.89 L194.4,365.86 L195,366.82 L195.6,367.68 L196.2,368.4 L196.8,367.72 L197.4,368.63 L198,370.22 L198.6,370.32 L199.2,372.05 L199.8,373.37 L200.4,373.31 L201,373.78 L201.6,375.18 L202.2,376.05 L202.8,376.33 L203.4,376.9 L204,377.18 L204.6,377.77 L205.2,378.15 L205.8,378.22 L206.4,378.49 L207,379.4 L207.6,379.07 L208.2,379.77 L208.8,379.58 L209.4,380.99 L210,381.2 L210.6,381.06 L211.2,381.52 L211.8,382.05 L212.4,383.84 L213,384.07 L213.6,384.4 L214.2,384.69 L214.8,385.67 L215.4,385.63 L216,385.69 L216.6,385.96 L217.2,385.66 L217.8,385.68 L218.4,386.1 L219,385.32 L219.6,385.15 L220.2,385.13 L220.8,384.81 L221.4,385.16 L222,384.82 L222.6,385.94 L223.2,386.4 L223.8,386.85 L224.4,387.4 L225,388.25 L225.6,388.41 L226.2,389.35 L226.8,389.28 L227.4,390.27 L228,390.54 L228.6,390.27 L229.2,390.66 L229.8,390.66 L230.4,390.72 L231,391 L231.6,390.66 L232.2,389.21 L232.8,387.96" fill="none" stroke="#141450" stroke-width="1.25" stroke-linejoin="round"/>
<line x1="170.75" y1="347.4" x2="170.75" y2="422.5" stroke="#505050" stroke-width="1.2"/>
<rect x="107.5" y="347.4" width="126.5" height="75.1" fill="none" stroke="#2b2b2b" stroke-width="1.1"/>
<rect x="170.75" y="423.2" width="62.25" height="8.5" fill="#00FFFF"/>
<text x="103.5" y="356.75" text-anchor="end" class="tk">1</text>
<text x="105" y="375.05" text-anchor="end" class="tk">0.5</text>
<text x="103.7" y="388.55" text-anchor="end" class="tk">0</text>
<text x="105.5" y="405.45" text-anchor="end" class="tk">-0.5</text>
<text x="104.5" y="421.25" text-anchor="end" class="tk">-1</text>
<path d="M261.08,347.4v2.2M261.08,422.5v-2.2M273.66,347.4v2.2M273.66,422.5v-2.2M286.24,347.4v2.2M286.24,422.5v-2.2M298.82,347.4v2.2M298.82,422.5v-2.2M323.98,347.4v2.2M323.98,422.5v-2.2M336.56,347.4v2.2M336.56,422.5v-2.2M349.14,347.4v2.2M349.14,422.5v-2.2M361.72,347.4v2.2M361.72,422.5v-2.2M248.5,416.05h2M374.3,416.05h-2M248.5,400.5h2M374.3,400.5h-2M248.5,384.95h2M374.3,384.95h-2M248.5,369.4h2M374.3,369.4h-2M248.5,353.85h2M374.3,353.85h-2" stroke="#333" stroke-width="0.9" fill="none"/>
<path d="M248.4,391.45 L249,392.19 L249.6,392.19 L250.2,391.26 L250.8,391.11 L251.4,390.81 L252,390.83 L252.6,390.9 L253.2,389.76 L253.8,389.18 L254.4,390.24 L255,390.08 L255.6,390.59 L256.2,389.7 L256.8,390.14 L257.4,390.79 L258,390.37 L258.6,391.39 L259.2,391.76 L259.8,390.66 L260.4,390.33 L261,391.05 L261.6,391.94 L262.2,391.43 L262.8,391.02 L263.4,391.21 L264,390.72 L264.6,390.87 L265.2,391.29 L265.8,391.56 L266.4,391.29 L267,391.24 L267.6,391.23 L268.2,391.62 L268.8,391.53 L269.4,391.11 L270,392.2 L270.6,391.94 L271.2,391.77 L271.8,390.76 L272.4,391.34 L273,391.05 L273.6,389.56 L274.2,389.1 L274.8,389.31 L275.4,389.2 L276,389.39 L276.6,388.88 L277.2,389.45 L277.8,389.55 L278.4,389.21 L279,389.68 L279.6,390.46 L280.2,390.82 L280.8,390.57 L281.4,390.7 L282,389.98 L282.6,390.03 L283.2,390.92 L283.8,390.69 L284.4,390.3 L285,390.77 L285.6,391.22 L286.2,391.38 L286.8,391.04 L287.4,391.06 L288,391.21 L288.6,391.71 L289.2,391.52 L289.8,391.29 L290.4,391.27 L291,390.45 L291.6,390.05 L292.2,390.75 L292.8,391.24 L293.4,390.66 L294,389.98 L294.6,389.23 L295.2,389.3 L295.8,389.89 L296.4,389.65 L297,389.11 L297.6,389.32 L298.2,388.45 L298.8,388.68 L299.4,389.52 L300,389.36 L300.6,389.24 L301.2,389.04 L301.8,389.49 L302.4,390.37 L303,389.33 L303.6,390.19 L304.2,390.56 L304.8,390.73 L305.4,390.54 L306,390.54 L306.6,390.07 L307.2,389.92 L307.8,389.62 L308.4,388.92 L309,389.86 L309.6,389.7 L310.2,389.07 L310.8,389.29 L311.4,389.35 L312,389.22 L312.6,389.19 L313.2,389.51 L313.8,389.79 L314.4,389.92 L315,389.77 L315.6,389.12 L316.2,389.23 L316.8,389.22 L317.4,389.85 L318,390.5 L318.6,390.56 L319.2,390.51 L319.8,390.45 L320.4,389.5 L321,389.99 L321.6,389.86 L322.2,388.6 L322.8,386.69 L323.4,384.52 L324,383.47 L324.6,381.37 L325.2,379.97 L325.8,379.07 L326.4,377.01 L327,375.26 L327.6,374.93 L328.2,375.01 L328.8,374.11 L329.4,373.58 L330,373.72 L330.6,373.16 L331.2,372.53 L331.8,371.78 L332.4,369.95 L333,369.02 L333.6,368.17 L334.2,367.28 L334.8,366.35 L335.4,366.5 L336,365.3 L336.6,363.96 L337.2,364.08 L337.8,364.86 L338.4,364.2 L339,364.08 L339.6,365.67 L340.2,368.79 L340.8,370.13 L341.4,372.02 L342,374.31 L342.6,376.29 L343.2,377 L343.8,379.63 L344.4,380.05 L345,379.65 L345.6,379.07 L346.2,379.51 L346.8,379.28 L347.4,379.47 L348,379.16 L348.6,379.16 L349.2,377.88 L349.8,377.37 L350.4,377.87 L351,377.75 L351.6,377.27 L352.2,378.27 L352.8,378.15 L353.4,379.33 L354,379.58 L354.6,379.52 L355.2,379.77 L355.8,380.02 L356.4,381.82 L357,381.4 L357.6,382.17 L358.2,382.53 L358.8,381.95 L359.4,381.01 L360,381.62 L360.6,381.92 L361.2,381.66 L361.8,381.52 L362.4,381.52 L363,381.73 L363.6,381.84 L364.2,382.78 L364.8,382.87 L365.4,382.39 L366,381.84 L366.6,382.24 L367.2,381.56 L367.8,381.4 L368.4,380.9 L369,381.45 L369.6,381.91 L370.2,380.92 L370.8,381.02 L371.4,381.38 L372,382.57 L372.6,383.13 L373.2,383.23 L373.8,383.44" fill="none" stroke="#c8c8f4" stroke-width="3.6" stroke-linejoin="round" stroke-linecap="round"/>
<path d="M248.4,391.45 L249,392.19 L249.6,392.19 L250.2,391.26 L250.8,391.11 L251.4,390.81 L252,390.83 L252.6,390.9 L253.2,389.76 L253.8,389.18 L254.4,390.24 L255,390.08 L255.6,390.59 L256.2,389.7 L256.8,390.14 L257.4,390.79 L258,390.37 L258.6,391.39 L259.2,391.76 L259.8,390.66 L260.4,390.33 L261,391.05 L261.6,391.94 L262.2,391.43 L262.8,391.02 L263.4,391.21 L264,390.72 L264.6,390.87 L265.2,391.29 L265.8,391.56 L266.4,391.29 L267,391.24 L267.6,391.23 L268.2,391.62 L268.8,391.53 L269.4,391.11 L270,392.2 L270.6,391.94 L271.2,391.77 L271.8,390.76 L272.4,391.34 L273,391.05 L273.6,389.56 L274.2,389.1 L274.8,389.31 L275.4,389.2 L276,389.39 L276.6,388.88 L277.2,389.45 L277.8,389.55 L278.4,389.21 L279,389.68 L279.6,390.46 L280.2,390.82 L280.8,390.57 L281.4,390.7 L282,389.98 L282.6,390.03 L283.2,390.92 L283.8,390.69 L284.4,390.3 L285,390.77 L285.6,391.22 L286.2,391.38 L286.8,391.04 L287.4,391.06 L288,391.21 L288.6,391.71 L289.2,391.52 L289.8,391.29 L290.4,391.27 L291,390.45 L291.6,390.05 L292.2,390.75 L292.8,391.24 L293.4,390.66 L294,389.98 L294.6,389.23 L295.2,389.3 L295.8,389.89 L296.4,389.65 L297,389.11 L297.6,389.32 L298.2,388.45 L298.8,388.68 L299.4,389.52 L300,389.36 L300.6,389.24 L301.2,389.04 L301.8,389.49 L302.4,390.37 L303,389.33 L303.6,390.19 L304.2,390.56 L304.8,390.73 L305.4,390.54 L306,390.54 L306.6,390.07 L307.2,389.92 L307.8,389.62 L308.4,388.92 L309,389.86 L309.6,389.7 L310.2,389.07 L310.8,389.29 L311.4,389.35 L312,389.22 L312.6,389.19 L313.2,389.51 L313.8,389.79 L314.4,389.92 L315,389.77 L315.6,389.12 L316.2,389.23 L316.8,389.22 L317.4,389.85 L318,390.5 L318.6,390.56 L319.2,390.51 L319.8,390.45 L320.4,389.5 L321,389.99 L321.6,389.86 L322.2,388.6 L322.8,386.69 L323.4,384.52 L324,383.47 L324.6,381.37 L325.2,379.97 L325.8,379.07 L326.4,377.01 L327,375.26 L327.6,374.93 L328.2,375.01 L328.8,374.11 L329.4,373.58 L330,373.72 L330.6,373.16 L331.2,372.53 L331.8,371.78 L332.4,369.95 L333,369.02 L333.6,368.17 L334.2,367.28 L334.8,366.35 L335.4,366.5 L336,365.3 L336.6,363.96 L337.2,364.08 L337.8,364.86 L338.4,364.2 L339,364.08 L339.6,365.67 L340.2,368.79 L340.8,370.13 L341.4,372.02 L342,374.31 L342.6,376.29 L343.2,377 L343.8,379.63 L344.4,380.05 L345,379.65 L345.6,379.07 L346.2,379.51 L346.8,379.28 L347.4,379.47 L348,379.16 L348.6,379.16 L349.2,377.88 L349.8,377.37 L350.4,377.87 L351,377.75 L351.6,377.27 L352.2,378.27 L352.8,378.15 L353.4,379.33 L354,379.58 L354.6,379.52 L355.2,379.77 L355.8,380.02 L356.4,381.82 L357,381.4 L357.6,382.17 L358.2,382.53 L358.8,381.95 L359.4,381.01 L360,381.62 L360.6,381.92 L361.2,381.66 L361.8,381.52 L362.4,381.52 L363,381.73 L363.6,381.84 L364.2,382.78 L364.8,382.87 L365.4,382.39 L366,381.84 L366.6,382.24 L367.2,381.56 L367.8,381.4 L368.4,380.9 L369,381.45 L369.6,381.91 L370.2,380.92 L370.8,381.02 L371.4,381.38 L372,382.57 L372.6,383.13 L373.2,383.23 L373.8,383.44" fill="none" stroke="#141450" stroke-width="1.25" stroke-linejoin="round"/>
<line x1="311.4" y1="347.4" x2="311.4" y2="422.5" stroke="#505050" stroke-width="1.2"/>
<rect x="248.5" y="347.4" width="125.8" height="75.1" fill="none" stroke="#2b2b2b" stroke-width="1.1"/>
<rect x="311.5" y="422.9" width="61.6" height="8.5" fill="#00FFFF"/>
<path d="M401.81,347.4v2.2M401.81,422.5v-2.2M414.42,347.4v2.2M414.42,422.5v-2.2M427.03,347.4v2.2M427.03,422.5v-2.2M439.64,347.4v2.2M439.64,422.5v-2.2M464.86,347.4v2.2M464.86,422.5v-2.2M477.47,347.4v2.2M477.47,422.5v-2.2M490.08,347.4v2.2M490.08,422.5v-2.2M502.69,347.4v2.2M502.69,422.5v-2.2M389.2,416.05h2M515.3,416.05h-2M389.2,400.5h2M515.3,400.5h-2M389.2,384.95h2M515.3,384.95h-2M389.2,369.4h2M515.3,369.4h-2M389.2,353.85h2M515.3,353.85h-2" stroke="#333" stroke-width="0.9" fill="none"/>
<path d="M389.4,386.68 L390,386.82 L390.6,385.43 L391.2,384.87 L391.8,385.67 L392.4,385.67 L393,385.46 L393.6,384.73 L394.2,384.84 L394.8,384.83 L395.4,384.94 L396,384.63 L396.6,385.23 L397.2,385.7 L397.8,386.64 L398.4,387.58 L399,387.96 L399.6,387.51 L400.2,387.31 L400.8,387.11 L401.4,386.82 L402,386.81 L402.6,387.54 L403.2,387.55 L403.8,387.47 L404.4,388.04 L405,387.5 L405.6,387.2 L406.2,386.47 L406.8,385.81 L407.4,386.1 L408,386.02 L408.6,386.66 L409.2,387.73 L409.8,387.73 L410.4,387.12 L411,388.08 L411.6,388.36 L412.2,388.44 L412.8,388.78 L413.4,388.59 L414,388.43 L414.6,387.57 L415.2,388.05 L415.8,388.01 L416.4,386.61 L417,386.82 L417.6,386.65 L418.2,386.03 L418.8,385.75 L419.4,385.46 L420,385.89 L420.6,385.31 L421.2,385.59 L421.8,385.07 L422.4,385.75 L423,386.09 L423.6,385.64 L424.2,385.72 L424.8,386.36 L425.4,386.36 L426,386.07 L426.6,385.61 L427.2,385.63 L427.8,386.25 L428.4,385.74 L429,386.75 L429.6,386.23 L430.2,387.09 L430.8,386.58 L431.4,387.44 L432,387.42 L432.6,387.16 L433.2,387.08 L433.8,387.17 L434.4,387.04 L435,386.5 L435.6,386.08 L436.2,386.3 L436.8,386.93 L437.4,386.61 L438,385.62 L438.6,386.34 L439.2,386.48 L439.8,386.94 L440.4,386.17 L441,386.88 L441.6,386.27 L442.2,387.12 L442.8,387.01 L443.4,387.04 L444,388.15 L444.6,387.46 L445.2,387.85 L445.8,388.34 L446.4,387.48 L447,386.99 L447.6,387.7 L448.2,387.17 L448.8,387.36 L449.4,386.15 L450,385.71 L450.6,384.74 L451.2,384.68 L451.8,383.5 L452.4,384.53 L453,383.65 L453.6,384.52 L454.2,383.9 L454.8,384.15 L455.4,385.16 L456,384.58 L456.6,384.46 L457.2,385.26 L457.8,385.18 L458.4,384.74 L459,386.1 L459.6,385.41 L460.2,385.07 L460.8,385.46 L461.4,386.34 L462,387.53 L462.6,387.72 L463.2,388.73 L463.8,389 L464.4,390.66 L465,393.77 L465.6,396.42 L466.2,398.21 L466.8,400.21 L467.4,399.38 L468,395.97 L468.6,393.16 L469.2,390.66 L469.8,388.12 L470.4,384.75 L471,382.32 L471.6,381.65 L472.2,380.84 L472.8,378.21 L473.4,377.02 L474,375.83 L474.6,375.54 L475.2,374.37 L475.8,374.73 L476.4,373.52 L477,373.86 L477.6,374.06 L478.2,373.84 L478.8,374.75 L479.4,374.72 L480,375.17 L480.6,375.95 L481.2,376.96 L481.8,377.55 L482.4,378.69 L483,379.27 L483.6,380.51 L484.2,380.94 L484.8,381.27 L485.4,380.43 L486,380.61 L486.6,380.51 L487.2,381.05 L487.8,381.48 L488.4,382.14 L489,382.49 L489.6,382.18 L490.2,382.52 L490.8,382.92 L491.4,382.51 L492,382.92 L492.6,384.16 L493.2,384.6 L493.8,385.96 L494.4,385.45 L495,384.68 L495.6,384.15 L496.2,383.65 L496.8,383.1 L497.4,383.11 L498,382.88 L498.6,382.47 L499.2,382.59 L499.8,381.73 L500.4,382.22 L501,382.26 L501.6,381.77 L502.2,381.24 L502.8,381.71 L503.4,382.51 L504,382.5 L504.6,383.39 L505.2,384.03 L505.8,384.14 L506.4,384.58 L507,386.3 L507.6,386.6 L508.2,387.02 L508.8,387.84 L509.4,387.84 L510,387.53 L510.6,388.57 L511.2,387.98 L511.8,387 L512.4,387.41 L513,386.41 L513.6,386.13 L514.2,386.63 L514.8,386.43" fill="none" stroke="#c8c8f4" stroke-width="3.6" stroke-linejoin="round" stroke-linecap="round"/>
<path d="M389.4,386.68 L390,386.82 L390.6,385.43 L391.2,384.87 L391.8,385.67 L392.4,385.67 L393,385.46 L393.6,384.73 L394.2,384.84 L394.8,384.83 L395.4,384.94 L396,384.63 L396.6,385.23 L397.2,385.7 L397.8,386.64 L398.4,387.58 L399,387.96 L399.6,387.51 L400.2,387.31 L400.8,387.11 L401.4,386.82 L402,386.81 L402.6,387.54 L403.2,387.55 L403.8,387.47 L404.4,388.04 L405,387.5 L405.6,387.2 L406.2,386.47 L406.8,385.81 L407.4,386.1 L408,386.02 L408.6,386.66 L409.2,387.73 L409.8,387.73 L410.4,387.12 L411,388.08 L411.6,388.36 L412.2,388.44 L412.8,388.78 L413.4,388.59 L414,388.43 L414.6,387.57 L415.2,388.05 L415.8,388.01 L416.4,386.61 L417,386.82 L417.6,386.65 L418.2,386.03 L418.8,385.75 L419.4,385.46 L420,385.89 L420.6,385.31 L421.2,385.59 L421.8,385.07 L422.4,385.75 L423,386.09 L423.6,385.64 L424.2,385.72 L424.8,386.36 L425.4,386.36 L426,386.07 L426.6,385.61 L427.2,385.63 L427.8,386.25 L428.4,385.74 L429,386.75 L429.6,386.23 L430.2,387.09 L430.8,386.58 L431.4,387.44 L432,387.42 L432.6,387.16 L433.2,387.08 L433.8,387.17 L434.4,387.04 L435,386.5 L435.6,386.08 L436.2,386.3 L436.8,386.93 L437.4,386.61 L438,385.62 L438.6,386.34 L439.2,386.48 L439.8,386.94 L440.4,386.17 L441,386.88 L441.6,386.27 L442.2,387.12 L442.8,387.01 L443.4,387.04 L444,388.15 L444.6,387.46 L445.2,387.85 L445.8,388.34 L446.4,387.48 L447,386.99 L447.6,387.7 L448.2,387.17 L448.8,387.36 L449.4,386.15 L450,385.71 L450.6,384.74 L451.2,384.68 L451.8,383.5 L452.4,384.53 L453,383.65 L453.6,384.52 L454.2,383.9 L454.8,384.15 L455.4,385.16 L456,384.58 L456.6,384.46 L457.2,385.26 L457.8,385.18 L458.4,384.74 L459,386.1 L459.6,385.41 L460.2,385.07 L460.8,385.46 L461.4,386.34 L462,387.53 L462.6,387.72 L463.2,388.73 L463.8,389 L464.4,390.66 L465,393.77 L465.6,396.42 L466.2,398.21 L466.8,400.21 L467.4,399.38 L468,395.97 L468.6,393.16 L469.2,390.66 L469.8,388.12 L470.4,384.75 L471,382.32 L471.6,381.65 L472.2,380.84 L472.8,378.21 L473.4,377.02 L474,375.83 L474.6,375.54 L475.2,374.37 L475.8,374.73 L476.4,373.52 L477,373.86 L477.6,374.06 L478.2,373.84 L478.8,374.75 L479.4,374.72 L480,375.17 L480.6,375.95 L481.2,376.96 L481.8,377.55 L482.4,378.69 L483,379.27 L483.6,380.51 L484.2,380.94 L484.8,381.27 L485.4,380.43 L486,380.61 L486.6,380.51 L487.2,381.05 L487.8,381.48 L488.4,382.14 L489,382.49 L489.6,382.18 L490.2,382.52 L490.8,382.92 L491.4,382.51 L492,382.92 L492.6,384.16 L493.2,384.6 L493.8,385.96 L494.4,385.45 L495,384.68 L495.6,384.15 L496.2,383.65 L496.8,383.1 L497.4,383.11 L498,382.88 L498.6,382.47 L499.2,382.59 L499.8,381.73 L500.4,382.22 L501,382.26 L501.6,381.77 L502.2,381.24 L502.8,381.71 L503.4,382.51 L504,382.5 L504.6,383.39 L505.2,384.03 L505.8,384.14 L506.4,384.58 L507,386.3 L507.6,386.6 L508.2,387.02 L508.8,387.84 L509.4,387.84 L510,387.53 L510.6,388.57 L511.2,387.98 L511.8,387 L512.4,387.41 L513,386.41 L513.6,386.13 L514.2,386.63 L514.8,386.43" fill="none" stroke="#141450" stroke-width="1.25" stroke-linejoin="round"/>
<line x1="452.25" y1="347.4" x2="452.25" y2="422.5" stroke="#505050" stroke-width="1.2"/>
<rect x="389.2" y="347.4" width="126.1" height="75.1" fill="none" stroke="#2b2b2b" stroke-width="1.1"/>
<rect x="452.55" y="423.7" width="61.15" height="8.5" fill="#00FFFF"/>
<path d="M542.23,347.4v2.2M542.23,422.5v-2.2M554.86,347.4v2.2M554.86,422.5v-2.2M567.49,347.4v2.2M567.49,422.5v-2.2M580.12,347.4v2.2M580.12,422.5v-2.2M605.38,347.4v2.2M605.38,422.5v-2.2M618.01,347.4v2.2M618.01,422.5v-2.2M630.64,347.4v2.2M630.64,422.5v-2.2M643.27,347.4v2.2M643.27,422.5v-2.2M529.6,416.05h2M655.9,416.05h-2M529.6,400.5h2M655.9,400.5h-2M529.6,384.95h2M655.9,384.95h-2M529.6,369.4h2M655.9,369.4h-2M529.6,353.85h2M655.9,353.85h-2" stroke="#333" stroke-width="0.9" fill="none"/>
<path d="M529.8,385.61 L530.4,386.08 L531,386.14 L531.6,386.69 L532.2,387.12 L532.8,386.62 L533.4,386.54 L534,387.9 L534.6,387.61 L535.2,387.48 L535.8,388.48 L536.4,387.97 L537,388.27 L537.6,387.75 L538.2,387.72 L538.8,386.9 L539.4,387.27 L540,387.69 L540.6,387.27 L541.2,387.45 L541.8,387.45 L542.4,386.56 L543,387.33 L543.6,387.38 L544.2,386.99 L544.8,386.49 L545.4,387.59 L546,387.41 L546.6,387.73 L547.2,388.06 L547.8,387.84 L548.4,387.98 L549,387.12 L549.6,387.32 L550.2,386.73 L550.8,387.15 L551.4,387.11 L552,385.84 L552.6,385.4 L553.2,385.36 L553.8,386.56 L554.4,386.25 L555,386.51 L555.6,386.19 L556.2,386.48 L556.8,386.47 L557.4,386.49 L558,386.91 L558.6,387.1 L559.2,387.64 L559.8,387.41 L560.4,387.64 L561,387.53 L561.6,387.61 L562.2,387.07 L562.8,386.04 L563.4,386.66 L564,386.97 L564.6,386.94 L565.2,386.4 L565.8,386.38 L566.4,385.55 L567,386.11 L567.6,385.84 L568.2,385.22 L568.8,384.59 L569.4,385.49 L570,385.95 L570.6,384.71 L571.2,385.34 L571.8,384.98 L572.4,384.47 L573,384.51 L573.6,385.23 L574.2,385.64 L574.8,384.54 L575.4,385.01 L576,384.32 L576.6,385.09 L577.2,384.66 L577.8,384.85 L578.4,384.52 L579,383.2 L579.6,383.12 L580.2,382.19 L580.8,382.36 L581.4,384.03 L582,384.53 L582.6,385.49 L583.2,386.25 L583.8,386.84 L584.4,386.53 L585,386.44 L585.6,387.81 L586.2,387.6 L586.8,388.58 L587.4,388.66 L588,387.63 L588.6,387.11 L589.2,386.7 L589.8,386.39 L590.4,385.88 L591,385.33 L591.6,384.96 L592.2,385.1 L592.8,384.34 L593.4,384.12 L594,384.72 L594.6,384.47 L595.2,384.73 L595.8,386.07 L596.4,386.03 L597,386.15 L597.6,385.32 L598.2,385.64 L598.8,385.99 L599.4,385.28 L600,385.92 L600.6,386.17 L601.2,385.4 L601.8,385.98 L602.4,386.39 L603,387.75 L603.6,388.42 L604.2,389.54 L604.8,390.96 L605.4,391.64 L606,393.1 L606.6,395.35 L607.2,396.5 L607.8,394.75 L608.4,393.65 L609,393.1 L609.6,390.74 L610.2,387.7 L610.8,385.12 L611.4,383.19 L612,380.03 L612.6,376.19 L613.2,374.23 L613.8,372.35 L614.4,369.4 L615,370.25 L615.6,371.22 L616.2,371.3 L616.8,371.43 L617.4,372.64 L618,372.88 L618.6,373.6 L619.2,374.84 L619.8,376.04 L620.4,375.74 L621,376.42 L621.6,377.22 L622.2,378.71 L622.8,378.92 L623.4,379.61 L624,378.89 L624.6,379.02 L625.2,379.67 L625.8,380.36 L626.4,380.04 L627,379.64 L627.6,379.41 L628.2,380.05 L628.8,379.9 L629.4,380.9 L630,381.41 L630.6,380.67 L631.2,380.51 L631.8,380.94 L632.4,380.58 L633,380.57 L633.6,380.41 L634.2,380.55 L634.8,381.37 L635.4,382.82 L636,382.75 L636.6,382.83 L637.2,383.14 L637.8,383.42 L638.4,383.65 L639,384.56 L639.6,383.38 L640.2,382.4 L640.8,383.11 L641.4,382.99 L642,382.97 L642.6,382.69 L643.2,383.88 L643.8,384.79 L644.4,384.46 L645,385.33 L645.6,385.33 L646.2,384.72 L646.8,383.94 L647.4,383.05 L648,382.67 L648.6,382.68 L649.2,382.68 L649.8,383.71 L650.4,383.88 L651,384.94 L651.6,384.31 L652.2,385.44 L652.8,385.6 L653.4,386.15 L654,386.44 L654.6,386.68 L655.2,386.36" fill="none" stroke="#c8c8f4" stroke-width="3.6" stroke-linejoin="round" stroke-linecap="round"/>
<path d="M529.8,385.61 L530.4,386.08 L531,386.14 L531.6,386.69 L532.2,387.12 L532.8,386.62 L533.4,386.54 L534,387.9 L534.6,387.61 L535.2,387.48 L535.8,388.48 L536.4,387.97 L537,388.27 L537.6,387.75 L538.2,387.72 L538.8,386.9 L539.4,387.27 L540,387.69 L540.6,387.27 L541.2,387.45 L541.8,387.45 L542.4,386.56 L543,387.33 L543.6,387.38 L544.2,386.99 L544.8,386.49 L545.4,387.59 L546,387.41 L546.6,387.73 L547.2,388.06 L547.8,387.84 L548.4,387.98 L549,387.12 L549.6,387.32 L550.2,386.73 L550.8,387.15 L551.4,387.11 L552,385.84 L552.6,385.4 L553.2,385.36 L553.8,386.56 L554.4,386.25 L555,386.51 L555.6,386.19 L556.2,386.48 L556.8,386.47 L557.4,386.49 L558,386.91 L558.6,387.1 L559.2,387.64 L559.8,387.41 L560.4,387.64 L561,387.53 L561.6,387.61 L562.2,387.07 L562.8,386.04 L563.4,386.66 L564,386.97 L564.6,386.94 L565.2,386.4 L565.8,386.38 L566.4,385.55 L567,386.11 L567.6,385.84 L568.2,385.22 L568.8,384.59 L569.4,385.49 L570,385.95 L570.6,384.71 L571.2,385.34 L571.8,384.98 L572.4,384.47 L573,384.51 L573.6,385.23 L574.2,385.64 L574.8,384.54 L575.4,385.01 L576,384.32 L576.6,385.09 L577.2,384.66 L577.8,384.85 L578.4,384.52 L579,383.2 L579.6,383.12 L580.2,382.19 L580.8,382.36 L581.4,384.03 L582,384.53 L582.6,385.49 L583.2,386.25 L583.8,386.84 L584.4,386.53 L585,386.44 L585.6,387.81 L586.2,387.6 L586.8,388.58 L587.4,388.66 L588,387.63 L588.6,387.11 L589.2,386.7 L589.8,386.39 L590.4,385.88 L591,385.33 L591.6,384.96 L592.2,385.1 L592.8,384.34 L593.4,384.12 L594,384.72 L594.6,384.47 L595.2,384.73 L595.8,386.07 L596.4,386.03 L597,386.15 L597.6,385.32 L598.2,385.64 L598.8,385.99 L599.4,385.28 L600,385.92 L600.6,386.17 L601.2,385.4 L601.8,385.98 L602.4,386.39 L603,387.75 L603.6,388.42 L604.2,389.54 L604.8,390.96 L605.4,391.64 L606,393.1 L606.6,395.35 L607.2,396.5 L607.8,394.75 L608.4,393.65 L609,393.1 L609.6,390.74 L610.2,387.7 L610.8,385.12 L611.4,383.19 L612,380.03 L612.6,376.19 L613.2,374.23 L613.8,372.35 L614.4,369.4 L615,370.25 L615.6,371.22 L616.2,371.3 L616.8,371.43 L617.4,372.64 L618,372.88 L618.6,373.6 L619.2,374.84 L619.8,376.04 L620.4,375.74 L621,376.42 L621.6,377.22 L622.2,378.71 L622.8,378.92 L623.4,379.61 L624,378.89 L624.6,379.02 L625.2,379.67 L625.8,380.36 L626.4,380.04 L627,379.64 L627.6,379.41 L628.2,380.05 L628.8,379.9 L629.4,380.9 L630,381.41 L630.6,380.67 L631.2,380.51 L631.8,380.94 L632.4,380.58 L633,380.57 L633.6,380.41 L634.2,380.55 L634.8,381.37 L635.4,382.82 L636,382.75 L636.6,382.83 L637.2,383.14 L637.8,383.42 L638.4,383.65 L639,384.56 L639.6,383.38 L640.2,382.4 L640.8,383.11 L641.4,382.99 L642,382.97 L642.6,382.69 L643.2,383.88 L643.8,384.79 L644.4,384.46 L645,385.33 L645.6,385.33 L646.2,384.72 L646.8,383.94 L647.4,383.05 L648,382.67 L648.6,382.68 L649.2,382.68 L649.8,383.71 L650.4,383.88 L651,384.94 L651.6,384.31 L652.2,385.44 L652.8,385.6 L653.4,386.15 L654,386.44 L654.6,386.68 L655.2,386.36" fill="none" stroke="#141450" stroke-width="1.25" stroke-linejoin="round"/>
<line x1="592.75" y1="347.4" x2="592.75" y2="422.5" stroke="#505050" stroke-width="1.2"/>
<rect x="529.6" y="347.4" width="126.3" height="75.1" fill="none" stroke="#2b2b2b" stroke-width="1.1"/>
<rect x="593.75" y="424.5" width="62.35" height="8.5" fill="#00FFFF"/>
<rect x="32.8" y="370.5" width="51.8" height="25.5" fill="#00FFFF"/>
<text x="30.2" y="362.8" style="font-size:25px">No.06</text>
<path d="M120.15,441.45v2.2M120.15,516.3v-2.2M132.8,441.45v2.2M132.8,516.3v-2.2M145.45,441.45v2.2M145.45,516.3v-2.2M158.1,441.45v2.2M158.1,516.3v-2.2M183.4,441.45v2.2M183.4,516.3v-2.2M196.05,441.45v2.2M196.05,516.3v-2.2M208.7,441.45v2.2M208.7,516.3v-2.2M221.35,441.45v2.2M221.35,516.3v-2.2M107.5,509.98h2M234,509.98h-2M107.5,494.43h2M234,494.43h-2M107.5,478.88h2M234,478.88h-2M107.5,463.32h2M234,463.32h-2M107.5,447.77h2M234,447.77h-2" stroke="#333" stroke-width="0.9" fill="none"/>
<path d="M107.4,479.11 L108,478.75 L108.6,478.64 L109.2,477.85 L109.8,478.37 L110.4,478.54 L111,478.24 L111.6,477.27 L112.2,477.34 L112.8,476.96 L113.4,476.63 L114,477.51 L114.6,478.22 L115.2,477.39 L115.8,478.67 L116.4,479 L117,478.93 L117.6,478.85 L118.2,479.65 L118.8,479.86 L119.4,480.53 L120,480.94 L120.6,480.44 L121.2,481.22 L121.8,481.66 L122.4,481.68 L123,481.02 L123.6,479.81 L124.2,479.23 L124.8,479.16 L125.4,480.4 L126,479.98 L126.6,480.02 L127.2,480.93 L127.8,480.48 L128.4,480.76 L129,480.77 L129.6,480.27 L130.2,480.97 L130.8,481.92 L131.4,481.59 L132,481.96 L132.6,482.75 L133.2,482.75 L133.8,483.63 L134.4,484.33 L135,484.22 L135.6,483.9 L136.2,484.17 L136.8,483.11 L137.4,483.27 L138,482.96 L138.6,483.13 L139.2,482.41 L139.8,483 L140.4,482.01 L141,481.57 L141.6,482.17 L142.2,482.4 L142.8,481.54 L143.4,481.08 L144,480.59 L144.6,480.21 L145.2,480.25 L145.8,479.21 L146.4,478.38 L147,478.27 L147.6,477.57 L148.2,478.03 L148.8,478.61 L149.4,478.86 L150,478.6 L150.6,478.38 L151.2,478.37 L151.8,477.37 L152.4,477.73 L153,476.94 L153.6,476.42 L154.2,475.98 L154.8,476.99 L155.4,478.16 L156,478.85 L156.6,480.2 L157.2,480.48 L157.8,479.99 L158.4,480.43 L159,481.36 L159.6,481.32 L160.2,481.65 L160.8,481.16 L161.4,481.82 L162,482.16 L162.6,482.3 L163.2,482.39 L163.8,482.53 L164.4,482.41 L165,482.19 L165.6,481.56 L166.2,481.65 L166.8,482.17 L167.4,481.15 L168,479.83 L168.6,478.96 L169.2,479.15 L169.8,478.31 L170.4,478.18 L171,478.3 L171.6,478.99 L172.2,480.17 L172.8,479.94 L173.4,479.9 L174,479.91 L174.6,479.89 L175.2,479.72 L175.8,479.98 L176.4,480.23 L177,479.92 L177.6,479.31 L178.2,479.36 L178.8,479.72 L179.4,478.68 L180,478.36 L180.6,478.73 L181.2,478.86 L181.8,478.74 L182.4,478.52 L183,478.73 L183.6,478.22 L184.2,478.8 L184.8,480.45 L185.4,481.51 L186,483.54 L186.6,484.54 L187.2,483.38 L187.8,480.09 L188.4,478.86 L189,477.57 L189.6,476.87 L190.2,475.5 L190.8,472.68 L191.4,471 L192,468.54 L192.6,467.61 L193.2,467.43 L193.8,465.72 L194.4,464.51 L195,462.76 L195.6,461.46 L196.2,460.34 L196.8,459.35 L197.4,460.72 L198,461.61 L198.6,461.83 L199.2,462.79 L199.8,463.33 L200.4,463.63 L201,464.41 L201.6,465.94 L202.2,467.08 L202.8,467.51 L203.4,468.05 L204,469.25 L204.6,470.39 L205.2,470.78 L205.8,471.88 L206.4,472.75 L207,473.34 L207.6,473.58 L208.2,473.1 L208.8,473.64 L209.4,473.73 L210,474.54 L210.6,476.03 L211.2,477.61 L211.8,479.09 L212.4,479.47 L213,479.36 L213.6,480.3 L214.2,480.65 L214.8,480.96 L215.4,480.7 L216,480.91 L216.6,480.91 L217.2,481.54 L217.8,481.44 L218.4,480.98 L219,480.14 L219.6,479.3 L220.2,479.31 L220.8,479.64 L221.4,480.06 L222,479.78 L222.6,480.38 L223.2,480.94 L223.8,481.47 L224.4,481.61 L225,481.01 L225.6,482.2 L226.2,482.62 L226.8,481.41 L227.4,481.38 L228,481.28 L228.6,481.8 L229.2,481.73 L229.8,481.17 L230.4,481.1 L231,481.53 L231.6,482.09 L232.2,483.85 L232.8,485.09 L233.4,484.71" fill="none" stroke="#c8c8f4" stroke-width="3.6" stroke-linejoin="round" stroke-linecap="round"/>
<path d="M107.4,479.11 L108,478.75 L108.6,478.64 L109.2,477.85 L109.8,478.37 L110.4,478.54 L111,478.24 L111.6,477.27 L112.2,477.34 L112.8,476.96 L113.4,476.63 L114,477.51 L114.6,478.22 L115.2,477.39 L115.8,478.67 L116.4,479 L117,478.93 L117.6,478.85 L118.2,479.65 L118.8,479.86 L119.4,480.53 L120,480.94 L120.6,480.44 L121.2,481.22 L121.8,481.66 L122.4,481.68 L123,481.02 L123.6,479.81 L124.2,479.23 L124.8,479.16 L125.4,480.4 L126,479.98 L126.6,480.02 L127.2,480.93 L127.8,480.48 L128.4,480.76 L129,480.77 L129.6,480.27 L130.2,480.97 L130.8,481.92 L131.4,481.59 L132,481.96 L132.6,482.75 L133.2,482.75 L133.8,483.63 L134.4,484.33 L135,484.22 L135.6,483.9 L136.2,484.17 L136.8,483.11 L137.4,483.27 L138,482.96 L138.6,483.13 L139.2,482.41 L139.8,483 L140.4,482.01 L141,481.57 L141.6,482.17 L142.2,482.4 L142.8,481.54 L143.4,481.08 L144,480.59 L144.6,480.21 L145.2,480.25 L145.8,479.21 L146.4,478.38 L147,478.27 L147.6,477.57 L148.2,478.03 L148.8,478.61 L149.4,478.86 L150,478.6 L150.6,478.38 L151.2,478.37 L151.8,477.37 L152.4,477.73 L153,476.94 L153.6,476.42 L154.2,475.98 L154.8,476.99 L155.4,478.16 L156,478.85 L156.6,480.2 L157.2,480.48 L157.8,479.99 L158.4,480.43 L159,481.36 L159.6,481.32 L160.2,481.65 L160.8,481.16 L161.4,481.82 L162,482.16 L162.6,482.3 L163.2,482.39 L163.8,482.53 L164.4,482.41 L165,482.19 L165.6,481.56 L166.2,481.65 L166.8,482.17 L167.4,481.15 L168,479.83 L168.6,478.96 L169.2,479.15 L169.8,478.31 L170.4,478.18 L171,478.3 L171.6,478.99 L172.2,480.17 L172.8,479.94 L173.4,479.9 L174,479.91 L174.6,479.89 L175.2,479.72 L175.8,479.98 L176.4,480.23 L177,479.92 L177.6,479.31 L178.2,479.36 L178.8,479.72 L179.4,478.68 L180,478.36 L180.6,478.73 L181.2,478.86 L181.8,478.74 L182.4,478.52 L183,478.73 L183.6,478.22 L184.2,478.8 L184.8,480.45 L185.4,481.51 L186,483.54 L186.6,484.54 L187.2,483.38 L187.8,480.09 L188.4,478.86 L189,477.57 L189.6,476.87 L190.2,475.5 L190.8,472.68 L191.4,471 L192,468.54 L192.6,467.61 L193.2,467.43 L193.8,465.72 L194.4,464.51 L195,462.76 L195.6,461.46 L196.2,460.34 L196.8,459.35 L197.4,460.72 L198,461.61 L198.6,461.83 L199.2,462.79 L199.8,463.33 L200.4,463.63 L201,464.41 L201.6,465.94 L202.2,467.08 L202.8,467.51 L203.4,468.05 L204,469.25 L204.6,470.39 L205.2,470.78 L205.8,471.88 L206.4,472.75 L207,473.34 L207.6,473.58 L208.2,473.1 L208.8,473.64 L209.4,473.73 L210,474.54 L210.6,476.03 L211.2,477.61 L211.8,479.09 L212.4,479.47 L213,479.36 L213.6,480.3 L214.2,480.65 L214.8,480.96 L215.4,480.7 L216,480.91 L216.6,480.91 L217.2,481.54 L217.8,481.44 L218.4,480.98 L219,480.14 L219.6,479.3 L220.2,479.31 L220.8,479.64 L221.4,480.06 L222,479.78 L222.6,480.38 L223.2,480.94 L223.8,481.47 L224.4,481.61 L225,481.01 L225.6,482.2 L226.2,482.62 L226.8,481.41 L227.4,481.38 L228,481.28 L228.6,481.8 L229.2,481.73 L229.8,481.17 L230.4,481.1 L231,481.53 L231.6,482.09 L232.2,483.85 L232.8,485.09 L233.4,484.71" fill="none" stroke="#141450" stroke-width="1.25" stroke-linejoin="round"/>
<line x1="170.75" y1="441.45" x2="170.75" y2="516.3" stroke="#505050" stroke-width="1.2"/>
<rect x="107.5" y="441.45" width="126.5" height="74.85" fill="none" stroke="#2b2b2b" stroke-width="1.1"/>
<rect x="170.75" y="520.15" width="62.25" height="7.65" fill="#40FFBF"/>
<text x="103.1" y="452.95" text-anchor="end" class="tk">1</text>
<text x="104.8" y="466.55" text-anchor="end" class="tk">0.5</text>
<text x="103.5" y="483.85" text-anchor="end" class="tk">0</text>
<text x="103.5" y="498.75" text-anchor="end" class="tk">-0.5</text>
<text x="102.7" y="514.35" text-anchor="end" class="tk">-1</text>
<path d="M261.08,441.45v2.2M261.08,516.3v-2.2M273.66,441.45v2.2M273.66,516.3v-2.2M286.24,441.45v2.2M286.24,516.3v-2.2M298.82,441.45v2.2M298.82,516.3v-2.2M323.98,441.45v2.2M323.98,516.3v-2.2M336.56,441.45v2.2M336.56,516.3v-2.2M349.14,441.45v2.2M349.14,516.3v-2.2M361.72,441.45v2.2M361.72,516.3v-2.2M248.5,509.98h2M374.3,509.98h-2M248.5,494.43h2M374.3,494.43h-2M248.5,478.88h2M374.3,478.88h-2M248.5,463.32h2M374.3,463.32h-2M248.5,447.77h2M374.3,447.77h-2" stroke="#333" stroke-width="0.9" fill="none"/>
<path d="M248.4,484.93 L249,485.18 L249.6,485.95 L250.2,485.68 L250.8,485.78 L251.4,486.04 L252,485.58 L252.6,485.67 L253.2,485.64 L253.8,485.62 L254.4,484.31 L255,483.95 L255.6,483.35 L256.2,484.15 L256.8,484.13 L257.4,482.97 L258,483.77 L258.6,483.8 L259.2,483.13 L259.8,482.62 L260.4,481.57 L261,480.84 L261.6,481.24 L262.2,480.69 L262.8,480.91 L263.4,481.26 L264,481.27 L264.6,482.12 L265.2,482.54 L265.8,483.39 L266.4,483.14 L267,483.16 L267.6,482.88 L268.2,482.95 L268.8,482.58 L269.4,482.09 L270,482.93 L270.6,483.15 L271.2,482.94 L271.8,482.63 L272.4,482.03 L273,481.86 L273.6,482.06 L274.2,482 L274.8,483.23 L275.4,483.34 L276,484.26 L276.6,484.09 L277.2,485.07 L277.8,485.4 L278.4,484.36 L279,484.4 L279.6,485.09 L280.2,484.35 L280.8,484.46 L281.4,483.21 L282,481.89 L282.6,481.91 L283.2,481.86 L283.8,480.89 L284.4,480.36 L285,480.66 L285.6,481.8 L286.2,481.99 L286.8,481.2 L287.4,481.21 L288,481.07 L288.6,481.02 L289.2,482.09 L289.8,481.41 L290.4,481.64 L291,481.42 L291.6,480.83 L292.2,481.28 L292.8,480.4 L293.4,480.72 L294,479.91 L294.6,479.98 L295.2,479.61 L295.8,479.5 L296.4,480.76 L297,481.38 L297.6,481.31 L298.2,482.67 L298.8,482.64 L299.4,483.38 L300,484.71 L300.6,485.13 L301.2,484.49 L301.8,485.39 L302.4,484.4 L303,483.96 L303.6,484.41 L304.2,483.75 L304.8,483.34 L305.4,482.76 L306,482.52 L306.6,482.86 L307.2,482.06 L307.8,481.89 L308.4,481.16 L309,480.86 L309.6,481.72 L310.2,481.39 L310.8,481.51 L311.4,482.09 L312,481.37 L312.6,481.16 L313.2,482.29 L313.8,482.59 L314.4,481.98 L315,481.92 L315.6,483 L316.2,483.99 L316.8,483.53 L317.4,484.78 L318,485.34 L318.6,485.29 L319.2,484.84 L319.8,483.34 L320.4,481.82 L321,481.84 L321.6,480.18 L322.2,480.02 L322.8,478.63 L323.4,478.1 L324,476.74 L324.6,475.23 L325.2,474.21 L325.8,473.84 L326.4,471.66 L327,470.13 L327.6,469.4 L328.2,469.33 L328.8,468.48 L329.4,466.96 L330,466.72 L330.6,465.1 L331.2,463.95 L331.8,463.07 L332.4,461.95 L333,459.98 L333.6,458.78 L334.2,458.37 L334.8,458 L335.4,456.42 L336,455.48 L336.6,455.43 L337.2,455.63 L337.8,456.03 L338.4,456.94 L339,457.69 L339.6,457.56 L340.2,458.14 L340.8,459.48 L341.4,462.27 L342,463.39 L342.6,465.01 L343.2,465.55 L343.8,468.07 L344.4,469.81 L345,471.34 L345.6,471.29 L346.2,472.81 L346.8,472.49 L347.4,473.49 L348,474.33 L348.6,475.31 L349.2,476.1 L349.8,477.03 L350.4,478.03 L351,478.84 L351.6,478.17 L352.2,478.56 L352.8,479.14 L353.4,479.43 L354,478.96 L354.6,479.43 L355.2,479.76 L355.8,479.58 L356.4,479.77 L357,479.64 L357.6,480.01 L358.2,480.04 L358.8,478.58 L359.4,478.18 L360,477.91 L360.6,477.18 L361.2,476.69 L361.8,476.35 L362.4,476.99 L363,477.25 L363.6,477.38 L364.2,478.21 L364.8,477.5 L365.4,478.16 L366,477.17 L366.6,477.56 L367.2,477.38 L367.8,476.83 L368.4,477.25 L369,477.05 L369.6,477.48 L370.2,478.44 L370.8,478.13 L371.4,477.93 L372,478.43 L372.6,479.42 L373.2,479.48 L373.8,479.83 L374.4,481.29" fill="none" stroke="#c8c8f4" stroke-width="3.6" stroke-linejoin="round" stroke-linecap="round"/>
<path d="M248.4,484.93 L249,485.18 L249.6,485.95 L250.2,485.68 L250.8,485.78 L251.4,486.04 L252,485.58 L252.6,485.67 L253.2,485.64 L253.8,485.62 L254.4,484.31 L255,483.95 L255.6,483.35 L256.2,484.15 L256.8,484.13 L257.4,482.97 L258,483.77 L258.6,483.8 L259.2,483.13 L259.8,482.62 L260.4,481.57 L261,480.84 L261.6,481.24 L262.2,480.69 L262.8,480.91 L263.4,481.26 L264,481.27 L264.6,482.12 L265.2,482.54 L265.8,483.39 L266.4,483.14 L267,483.16 L267.6,482.88 L268.2,482.95 L268.8,482.58 L269.4,482.09 L270,482.93 L270.6,483.15 L271.2,482.94 L271.8,482.63 L272.4,482.03 L273,481.86 L273.6,482.06 L274.2,482 L274.8,483.23 L275.4,483.34 L276,484.26 L276.6,484.09 L277.2,485.07 L277.8,485.4 L278.4,484.36 L279,484.4 L279.6,485.09 L280.2,484.35 L280.8,484.46 L281.4,483.21 L282,481.89 L282.6,481.91 L283.2,481.86 L283.8,480.89 L284.4,480.36 L285,480.66 L285.6,481.8 L286.2,481.99 L286.8,481.2 L287.4,481.21 L288,481.07 L288.6,481.02 L289.2,482.09 L289.8,481.41 L290.4,481.64 L291,481.42 L291.6,480.83 L292.2,481.28 L292.8,480.4 L293.4,480.72 L294,479.91 L294.6,479.98 L295.2,479.61 L295.8,479.5 L296.4,480.76 L297,481.38 L297.6,481.31 L298.2,482.67 L298.8,482.64 L299.4,483.38 L300,484.71 L300.6,485.13 L301.2,484.49 L301.8,485.39 L302.4,484.4 L303,483.96 L303.6,484.41 L304.2,483.75 L304.8,483.34 L305.4,482.76 L306,482.52 L306.6,482.86 L307.2,482.06 L307.8,481.89 L308.4,481.16 L309,480.86 L309.6,481.72 L310.2,481.39 L310.8,481.51 L311.4,482.09 L312,481.37 L312.6,481.16 L313.2,482.29 L313.8,482.59 L314.4,481.98 L315,481.92 L315.6,483 L316.2,483.99 L316.8,483.53 L317.4,484.78 L318,485.34 L318.6,485.29 L319.2,484.84 L319.8,483.34 L320.4,481.82 L321,481.84 L321.6,480.18 L322.2,480.02 L322.8,478.63 L323.4,478.1 L324,476.74 L324.6,475.23 L325.2,474.21 L325.8,473.84 L326.4,471.66 L327,470.13 L327.6,469.4 L328.2,469.33 L328.8,468.48 L329.4,466.96 L330,466.72 L330.6,465.1 L331.2,463.95 L331.8,463.07 L332.4,461.95 L333,459.98 L333.6,458.78 L334.2,458.37 L334.8,458 L335.4,456.42 L336,455.48 L336.6,455.43 L337.2,455.63 L337.8,456.03 L338.4,456.94 L339,457.69 L339.6,457.56 L340.2,458.14 L340.8,459.48 L341.4,462.27 L342,463.39 L342.6,465.01 L343.2,465.55 L343.8,468.07 L344.4,469.81 L345,471.34 L345.6,471.29 L346.2,472.81 L346.8,472.49 L347.4,473.49 L348,474.33 L348.6,475.31 L349.2,476.1 L349.8,477.03 L350.4,478.03 L351,478.84 L351.6,478.17 L352.2,478.56 L352.8,479.14 L353.4,479.43 L354,478.96 L354.6,479.43 L355.2,479.76 L355.8,479.58 L356.4,479.77 L357,479.64 L357.6,480.01 L358.2,480.04 L358.8,478.58 L359.4,478.18 L360,477.91 L360.6,477.18 L361.2,476.69 L361.8,476.35 L362.4,476.99 L363,477.25 L363.6,477.38 L364.2,478.21 L364.8,477.5 L365.4,478.16 L366,477.17 L366.6,477.56 L367.2,477.38 L367.8,476.83 L368.4,477.25 L369,477.05 L369.6,477.48 L370.2,478.44 L370.8,478.13 L371.4,477.93 L372,478.43 L372.6,479.42 L373.2,479.48 L373.8,479.83 L374.4,481.29" fill="none" stroke="#141450" stroke-width="1.25" stroke-linejoin="round"/>
<line x1="311.4" y1="441.45" x2="311.4" y2="516.3" stroke="#505050" stroke-width="1.2"/>
<rect x="248.5" y="441.45" width="125.8" height="74.85" fill="none" stroke="#2b2b2b" stroke-width="1.1"/>
<rect x="311.5" y="519.85" width="61.6" height="7.65" fill="#40FFBF"/>
<path d="M401.81,441.45v2.2M401.81,516.3v-2.2M414.42,441.45v2.2M414.42,516.3v-2.2M427.03,441.45v2.2M427.03,516.3v-2.2M439.64,441.45v2.2M439.64,516.3v-2.2M464.86,441.45v2.2M464.86,516.3v-2.2M477.47,441.45v2.2M477.47,516.3v-2.2M490.08,441.45v2.2M490.08,516.3v-2.2M502.69,441.45v2.2M502.69,516.3v-2.2M389.2,509.98h2M515.3,509.98h-2M389.2,494.43h2M515.3,494.43h-2M389.2,478.88h2M515.3,478.88h-2M389.2,463.32h2M515.3,463.32h-2M389.2,447.77h2M515.3,447.77h-2" stroke="#333" stroke-width="0.9" fill="none"/>
<path d="M389.4,478.56 L390,478.69 L390.6,478.59 L391.2,477.6 L391.8,476.87 L392.4,477 L393,476.75 L393.6,477.37 L394.2,477.43 L394.8,477.51 L395.4,477.65 L396,478.05 L396.6,477.63 L397.2,478.11 L397.8,478.03 L398.4,479.25 L399,478.48 L399.6,479.6 L400.2,479.22 L400.8,480.4 L401.4,480.67 L402,481.19 L402.6,482.25 L403.2,481.32 L403.8,480.55 L404.4,481.08 L405,480.13 L405.6,478.68 L406.2,479.12 L406.8,478.97 L407.4,477.8 L408,478.02 L408.6,477.81 L409.2,478.16 L409.8,478.92 L410.4,478.67 L411,479.54 L411.6,479.01 L412.2,479.11 L412.8,480.19 L413.4,479.85 L414,479.62 L414.6,479.66 L415.2,479.33 L415.8,478.91 L416.4,478.06 L417,478.66 L417.6,479.09 L418.2,479.15 L418.8,478.62 L419.4,477.95 L420,477.68 L420.6,478.01 L421.2,478.02 L421.8,477.1 L422.4,476.87 L423,476.9 L423.6,477.04 L424.2,477.46 L424.8,477.06 L425.4,476.15 L426,476.97 L426.6,476.62 L427.2,476.64 L427.8,476.26 L428.4,476.49 L429,476.58 L429.6,477.25 L430.2,476.55 L430.8,477.04 L431.4,476.71 L432,477.42 L432.6,476.71 L433.2,476.94 L433.8,477.5 L434.4,478.58 L435,478.55 L435.6,479.59 L436.2,479.93 L436.8,480.38 L437.4,480.74 L438,481.46 L438.6,480.91 L439.2,481.33 L439.8,480.19 L440.4,480.83 L441,480.14 L441.6,479.58 L442.2,480.23 L442.8,480.8 L443.4,479.73 L444,479.85 L444.6,480.75 L445.2,480.52 L445.8,480.37 L446.4,480.03 L447,480 L447.6,480.6 L448.2,481.1 L448.8,481.01 L449.4,479.93 L450,478.53 L450.6,478.22 L451.2,478.6 L451.8,478.66 L452.4,478.38 L453,477.62 L453.6,477.73 L454.2,477.61 L454.8,477.72 L455.4,477.17 L456,477.97 L456.6,478.47 L457.2,477.85 L457.8,478.17 L458.4,479.53 L459,479.47 L459.6,480.77 L460.2,480.83 L460.8,481.3 L461.4,481.79 L462,481.89 L462.6,482.75 L463.2,483.62 L463.8,484.94 L464.4,486.21 L465,487.56 L465.6,490.54 L466.2,491.47 L466.8,493.18 L467.4,492.74 L468,491.14 L468.6,488.35 L469.2,486.91 L469.8,485.57 L470.4,483.38 L471,480.64 L471.6,478.01 L472.2,476.95 L472.8,476.37 L473.4,474.92 L474,473.1 L474.6,471.42 L475.2,470.65 L475.8,470.57 L476.4,469.73 L477,468.22 L477.6,468.75 L478.2,469.57 L478.8,469.99 L479.4,470.57 L480,471.05 L480.6,470.83 L481.2,471.29 L481.8,471.27 L482.4,471.37 L483,472.37 L483.6,473.2 L484.2,474.85 L484.8,475.34 L485.4,475.29 L486,475.46 L486.6,474.9 L487.2,475.45 L487.8,476.01 L488.4,475.83 L489,475.6 L489.6,475.82 L490.2,475.89 L490.8,476.59 L491.4,476.14 L492,476.02 L492.6,476.38 L493.2,477.16 L493.8,477.72 L494.4,478.01 L495,478.79 L495.6,478.45 L496.2,478.03 L496.8,478.69 L497.4,478.64 L498,477.86 L498.6,477.94 L499.2,477.09 L499.8,476.29 L500.4,475.88 L501,476.52 L501.6,476.46 L502.2,478.1 L502.8,479.28 L503.4,479.45 L504,479.88 L504.6,479.84 L505.2,481.01 L505.8,480.9 L506.4,481.25 L507,480.62 L507.6,480.71 L508.2,480.84 L508.8,481.11 L509.4,480.19 L510,480.07 L510.6,480.55 L511.2,480.72 L511.8,480.07 L512.4,480.51 L513,481.22 L513.6,481.15 L514.2,481.74 L514.8,482.09 L515.4,482.78" fill="none" stroke="#c8c8f4" stroke-width="3.6" stroke-linejoin="round" stroke-linecap="round"/>
<path d="M389.4,478.56 L390,478.69 L390.6,478.59 L391.2,477.6 L391.8,476.87 L392.4,477 L393,476.75 L393.6,477.37 L394.2,477.43 L394.8,477.51 L395.4,477.65 L396,478.05 L396.6,477.63 L397.2,478.11 L397.8,478.03 L398.4,479.25 L399,478.48 L399.6,479.6 L400.2,479.22 L400.8,480.4 L401.4,480.67 L402,481.19 L402.6,482.25 L403.2,481.32 L403.8,480.55 L404.4,481.08 L405,480.13 L405.6,478.68 L406.2,479.12 L406.8,478.97 L407.4,477.8 L408,478.02 L408.6,477.81 L409.2,478.16 L409.8,478.92 L410.4,478.67 L411,479.54 L411.6,479.01 L412.2,479.11 L412.8,480.19 L413.4,479.85 L414,479.62 L414.6,479.66 L415.2,479.33 L415.8,478.91 L416.4,478.06 L417,478.66 L417.6,479.09 L418.2,479.15 L418.8,478.62 L419.4,477.95 L420,477.68 L420.6,478.01 L421.2,478.02 L421.8,477.1 L422.4,476.87 L423,476.9 L423.6,477.04 L424.2,477.46 L424.8,477.06 L425.4,476.15 L426,476.97 L426.6,476.62 L427.2,476.64 L427.8,476.26 L428.4,476.49 L429,476.58 L429.6,477.25 L430.2,476.55 L430.8,477.04 L431.4,476.71 L432,477.42 L432.6,476.71 L433.2,476.94 L433.8,477.5 L434.4,478.58 L435,478.55 L435.6,479.59 L436.2,479.93 L436.8,480.38 L437.4,480.74 L438,481.46 L438.6,480.91 L439.2,481.33 L439.8,480.19 L440.4,480.83 L441,480.14 L441.6,479.58 L442.2,480.23 L442.8,480.8 L443.4,479.73 L444,479.85 L444.6,480.75 L445.2,480.52 L445.8,480.37 L446.4,480.03 L447,480 L447.6,480.6 L448.2,481.1 L448.8,481.01 L449.4,479.93 L450,478.53 L450.6,478.22 L451.2,478.6 L451.8,478.66 L452.4,478.38 L453,477.62 L453.6,477.73 L454.2,477.61 L454.8,477.72 L455.4,477.17 L456,477.97 L456.6,478.47 L457.2,477.85 L457.8,478.17 L458.4,479.53 L459,479.47 L459.6,480.77 L460.2,480.83 L460.8,481.3 L461.4,481.79 L462,481.89 L462.6,482.75 L463.2,483.62 L463.8,484.94 L464.4,486.21 L465,487.56 L465.6,490.54 L466.2,491.47 L466.8,493.18 L467.4,492.74 L468,491.14 L468.6,488.35 L469.2,486.91 L469.8,485.57 L470.4,483.38 L471,480.64 L471.6,478.01 L472.2,476.95 L472.8,476.37 L473.4,474.92 L474,473.1 L474.6,471.42 L475.2,470.65 L475.8,470.57 L476.4,469.73 L477,468.22 L477.6,468.75 L478.2,469.57 L478.8,469.99 L479.4,470.57 L480,471.05 L480.6,470.83 L481.2,471.29 L481.8,471.27 L482.4,471.37 L483,472.37 L483.6,473.2 L484.2,474.85 L484.8,475.34 L485.4,475.29 L486,475.46 L486.6,474.9 L487.2,475.45 L487.8,476.01 L488.4,475.83 L489,475.6 L489.6,475.82 L490.2,475.89 L490.8,476.59 L491.4,476.14 L492,476.02 L492.6,476.38 L493.2,477.16 L493.8,477.72 L494.4,478.01 L495,478.79 L495.6,478.45 L496.2,478.03 L496.8,478.69 L497.4,478.64 L498,477.86 L498.6,477.94 L499.2,477.09 L499.8,476.29 L500.4,475.88 L501,476.52 L501.6,476.46 L502.2,478.1 L502.8,479.28 L503.4,479.45 L504,479.88 L504.6,479.84 L505.2,481.01 L505.8,480.9 L506.4,481.25 L507,480.62 L507.6,480.71 L508.2,480.84 L508.8,481.11 L509.4,480.19 L510,480.07 L510.6,480.55 L511.2,480.72 L511.8,480.07 L512.4,480.51 L513,481.22 L513.6,481.15 L514.2,481.74 L514.8,482.09 L515.4,482.78" fill="none" stroke="#141450" stroke-width="1.25" stroke-linejoin="round"/>
<line x1="452.25" y1="441.45" x2="452.25" y2="516.3" stroke="#505050" stroke-width="1.2"/>
<rect x="389.2" y="441.45" width="126.1" height="74.85" fill="none" stroke="#2b2b2b" stroke-width="1.1"/>
<rect x="452.55" y="520.65" width="61.15" height="7.65" fill="#40FFBF"/>
<path d="M542.23,441.45v2.2M542.23,516.3v-2.2M554.86,441.45v2.2M554.86,516.3v-2.2M567.49,441.45v2.2M567.49,516.3v-2.2M580.12,441.45v2.2M580.12,516.3v-2.2M605.38,441.45v2.2M605.38,516.3v-2.2M618.01,441.45v2.2M618.01,516.3v-2.2M630.64,441.45v2.2M630.64,516.3v-2.2M643.27,441.45v2.2M643.27,516.3v-2.2M529.6,509.98h2M655.9,509.98h-2M529.6,494.43h2M655.9,494.43h-2M529.6,478.88h2M655.9,478.88h-2M529.6,463.32h2M655.9,463.32h-2M529.6,447.77h2M655.9,447.77h-2" stroke="#333" stroke-width="0.9" fill="none"/>
<path d="M529.8,479.64 L530.4,479.82 L531,479.52 L531.6,479.25 L532.2,477.74 L532.8,476.91 L533.4,476.23 L534,475.94 L534.6,477.07 L535.2,476.95 L535.8,477.95 L536.4,478.26 L537,478.85 L537.6,479.52 L538.2,480.41 L538.8,480.31 L539.4,479.38 L540,479.45 L540.6,479.28 L541.2,480.3 L541.8,480.57 L542.4,480.66 L543,480.72 L543.6,480.56 L544.2,480.74 L544.8,480.5 L545.4,479.53 L546,479.99 L546.6,479.52 L547.2,479.69 L547.8,479.4 L548.4,479.04 L549,478.79 L549.6,479.07 L550.2,479.27 L550.8,479.35 L551.4,480.74 L552,481.45 L552.6,482.16 L553.2,481.98 L553.8,481.57 L554.4,481.62 L555,480.61 L555.6,480.95 L556.2,480.6 L556.8,479.97 L557.4,479.68 L558,479.98 L558.6,479.62 L559.2,479.86 L559.8,480.52 L560.4,480.79 L561,480.82 L561.6,481.6 L562.2,481.44 L562.8,480.99 L563.4,480.42 L564,480.08 L564.6,479.11 L565.2,479.24 L565.8,479.41 L566.4,478.38 L567,478.35 L567.6,478.77 L568.2,477.59 L568.8,477.32 L569.4,478.22 L570,478.58 L570.6,478.41 L571.2,477.63 L571.8,477.74 L572.4,478.2 L573,477.87 L573.6,477.09 L574.2,475.45 L574.8,475.58 L575.4,475.33 L576,476.48 L576.6,476.74 L577.2,478.69 L577.8,479.19 L578.4,479.68 L579,479.44 L579.6,480.42 L580.2,481.18 L580.8,481.88 L581.4,482.09 L582,482.89 L582.6,482.42 L583.2,482.13 L583.8,481.78 L584.4,482.37 L585,481.66 L585.6,481.53 L586.2,481.21 L586.8,481.93 L587.4,481.79 L588,481.21 L588.6,479.71 L589.2,479.33 L589.8,478.77 L590.4,478.36 L591,478.29 L591.6,479.94 L592.2,479.35 L592.8,479.51 L593.4,479.37 L594,479.57 L594.6,478.61 L595.2,478.6 L595.8,478.21 L596.4,478.6 L597,477.4 L597.6,477.54 L598.2,477.83 L598.8,478.65 L599.4,478.25 L600,478.05 L600.6,478.27 L601.2,477.79 L601.8,477.22 L602.4,478.17 L603,480.02 L603.6,481.1 L604.2,481.19 L604.8,483.31 L605.4,485.99 L606,487.42 L606.6,489.08 L607.2,488.33 L607.8,487.32 L608.4,486.48 L609,485.68 L609.6,485.15 L610.2,482.8 L610.8,480.61 L611.4,477.83 L612,477.12 L612.6,474.66 L613.2,470.05 L613.8,467.8 L614.4,465.41 L615,463.01 L615.6,462.21 L616.2,462.8 L616.8,463.8 L617.4,465.05 L618,465.37 L618.6,466.92 L619.2,467.02 L619.8,468.83 L620.4,469.1 L621,469.6 L621.6,469.79 L622.2,469.45 L622.8,469.6 L623.4,470.12 L624,470.54 L624.6,471.41 L625.2,471.9 L625.8,470.63 L626.4,470.92 L627,470.42 L627.6,471.25 L628.2,470.9 L628.8,471.96 L629.4,472.17 L630,471.94 L630.6,471.92 L631.2,472.39 L631.8,473.75 L632.4,473.52 L633,474.32 L633.6,474.81 L634.2,475.24 L634.8,476.26 L635.4,475.94 L636,477.01 L636.6,477.82 L637.2,479.02 L637.8,479.29 L638.4,480.33 L639,480.17 L639.6,479.87 L640.2,479.49 L640.8,479.34 L641.4,479.1 L642,477.7 L642.6,477.58 L643.2,478.39 L643.8,479.38 L644.4,479.62 L645,479.65 L645.6,480.92 L646.2,480.58 L646.8,480.28 L647.4,480.16 L648,480.18 L648.6,481.36 L649.2,480.97 L649.8,481.86 L650.4,482.49 L651,482.96 L651.6,482.92 L652.2,482.46 L652.8,482.75 L653.4,483.32 L654,483.5 L654.6,483.04 L655.2,483.67" fill="none" stroke="#c8c8f4" stroke-width="3.6" stroke-linejoin="round" stroke-linecap="round"/>
<path d="M529.8,479.64 L530.4,479.82 L531,479.52 L531.6,479.25 L532.2,477.74 L532.8,476.91 L533.4,476.23 L534,475.94 L534.6,477.07 L535.2,476.95 L535.8,477.95 L536.4,478.26 L537,478.85 L537.6,479.52 L538.2,480.41 L538.8,480.31 L539.4,479.38 L540,479.45 L540.6,479.28 L541.2,480.3 L541.8,480.57 L542.4,480.66 L543,480.72 L543.6,480.56 L544.2,480.74 L544.8,480.5 L545.4,479.53 L546,479.99 L546.6,479.52 L547.2,479.69 L547.8,479.4 L548.4,479.04 L549,478.79 L549.6,479.07 L550.2,479.27 L550.8,479.35 L551.4,480.74 L552,481.45 L552.6,482.16 L553.2,481.98 L553.8,481.57 L554.4,481.62 L555,480.61 L555.6,480.95 L556.2,480.6 L556.8,479.97 L557.4,479.68 L558,479.98 L558.6,479.62 L559.2,479.86 L559.8,480.52 L560.4,480.79 L561,480.82 L561.6,481.6 L562.2,481.44 L562.8,480.99 L563.4,480.42 L564,480.08 L564.6,479.11 L565.2,479.24 L565.8,479.41 L566.4,478.38 L567,478.35 L567.6,478.77 L568.2,477.59 L568.8,477.32 L569.4,478.22 L570,478.58 L570.6,478.41 L571.2,477.63 L571.8,477.74 L572.4,478.2 L573,477.87 L573.6,477.09 L574.2,475.45 L574.8,475.58 L575.4,475.33 L576,476.48 L576.6,476.74 L577.2,478.69 L577.8,479.19 L578.4,479.68 L579,479.44 L579.6,480.42 L580.2,481.18 L580.8,481.88 L581.4,482.09 L582,482.89 L582.6,482.42 L583.2,482.13 L583.8,481.78 L584.4,482.37 L585,481.66 L585.6,481.53 L586.2,481.21 L586.8,481.93 L587.4,481.79 L588,481.21 L588.6,479.71 L589.2,479.33 L589.8,478.77 L590.4,478.36 L591,478.29 L591.6,479.94 L592.2,479.35 L592.8,479.51 L593.4,479.37 L594,479.57 L594.6,478.61 L595.2,478.6 L595.8,478.21 L596.4,478.6 L597,477.4 L597.6,477.54 L598.2,477.83 L598.8,478.65 L599.4,478.25 L600,478.05 L600.6,478.27 L601.2,477.79 L601.8,477.22 L602.4,478.17 L603,480.02 L603.6,481.1 L604.2,481.19 L604.8,483.31 L605.4,485.99 L606,487.42 L606.6,489.08 L607.2,488.33 L607.8,487.32 L608.4,486.48 L609,485.68 L609.6,485.15 L610.2,482.8 L610.8,480.61 L611.4,477.83 L612,477.12 L612.6,474.66 L613.2,470.05 L613.8,467.8 L614.4,465.41 L615,463.01 L615.6,462.21 L616.2,462.8 L616.8,463.8 L617.4,465.05 L618,465.37 L618.6,466.92 L619.2,467.02 L619.8,468.83 L620.4,469.1 L621,469.6 L621.6,469.79 L622.2,469.45 L622.8,469.6 L623.4,470.12 L624,470.54 L624.6,471.41 L625.2,471.9 L625.8,470.63 L626.4,470.92 L627,470.42 L627.6,471.25 L628.2,470.9 L628.8,471.96 L629.4,472.17 L630,471.94 L630.6,471.92 L631.2,472.39 L631.8,473.75 L632.4,473.52 L633,474.32 L633.6,474.81 L634.2,475.24 L634.8,476.26 L635.4,475.94 L636,477.01 L636.6,477.82 L637.2,479.02 L637.8,479.29 L638.4,480.33 L639,480.17 L639.6,479.87 L640.2,479.49 L640.8,479.34 L641.4,479.1 L642,477.7 L642.6,477.58 L643.2,478.39 L643.8,479.38 L644.4,479.62 L645,479.65 L645.6,480.92 L646.2,480.58 L646.8,480.28 L647.4,480.16 L648,480.18 L648.6,481.36 L649.2,480.97 L649.8,481.86 L650.4,482.49 L651,482.96 L651.6,482.92 L652.2,482.46 L652.8,482.75 L653.4,483.32 L654,483.5 L654.6,483.04 L655.2,483.67" fill="none" stroke="#141450" stroke-width="1.25" stroke-linejoin="round"/>
<line x1="592.75" y1="441.45" x2="592.75" y2="516.3" stroke="#505050" stroke-width="1.2"/>
<rect x="529.6" y="441.45" width="126.3" height="74.85" fill="none" stroke="#2b2b2b" stroke-width="1.1"/>
<rect x="593.75" y="521.45" width="62.35" height="7.65" fill="#40FFBF"/>
<rect x="32.8" y="465.2" width="51.8" height="24.8" fill="#40FFBF"/>
<text x="30.2" y="458.7" style="font-size:25px">No.07</text>
<path d="M120.15,531.45v2.2M120.15,606.3v-2.2M132.8,531.45v2.2M132.8,606.3v-2.2M145.45,531.45v2.2M145.45,606.3v-2.2M158.1,531.45v2.2M158.1,606.3v-2.2M183.4,531.45v2.2M183.4,606.3v-2.2M196.05,531.45v2.2M196.05,606.3v-2.2M208.7,531.45v2.2M208.7,606.3v-2.2M221.35,531.45v2.2M221.35,606.3v-2.2M107.5,599.98h2M234,599.98h-2M107.5,584.42h2M234,584.42h-2M107.5,568.88h2M234,568.88h-2M107.5,553.33h2M234,553.33h-2M107.5,537.77h2M234,537.77h-2" stroke="#333" stroke-width="0.9" fill="none"/>
<path d="M107.4,570.61 L108,570.85 L108.6,571.47 L109.2,572.28 L109.8,571.83 L110.4,572.13 L111,572.52 L111.6,572.52 L112.2,571.96 L112.8,571.06 L113.4,571.02 L114,571.8 L114.6,570.68 L115.2,570.62 L115.8,571.65 L116.4,571.34 L117,570.97 L117.6,571.11 L118.2,572.14 L118.8,571.73 L119.4,571.78 L120,572.14 L120.6,572.32 L121.2,571.72 L121.8,570.65 L122.4,570.77 L123,569.77 L123.6,569.29 L124.2,569.1 L124.8,569.67 L125.4,569.43 L126,570.25 L126.6,570.05 L127.2,570.23 L127.8,570.42 L128.4,571.72 L129,572.53 L129.6,571.68 L130.2,571.32 L130.8,570.75 L131.4,571.38 L132,570.97 L132.6,570.46 L133.2,570.94 L133.8,570.95 L134.4,570.66 L135,570.07 L135.6,570.65 L136.2,570.75 L136.8,570.63 L137.4,570.22 L138,571.26 L138.6,571.56 L139.2,571.43 L139.8,571.87 L140.4,571.42 L141,570.92 L141.6,570.27 L142.2,570.66 L142.8,570.51 L143.4,570.16 L144,570.71 L144.6,570.5 L145.2,569.19 L145.8,569.76 L146.4,568.54 L147,569.02 L147.6,568.5 L148.2,568.69 L148.8,568.8 L149.4,567.89 L150,567.62 L150.6,566.2 L151.2,566.41 L151.8,565.52 L152.4,565.87 L153,566.07 L153.6,566 L154.2,567.2 L154.8,566.77 L155.4,566.79 L156,566.42 L156.6,567.06 L157.2,566.64 L157.8,566.01 L158.4,565.69 L159,565.83 L159.6,566.42 L160.2,565.98 L160.8,565.95 L161.4,567 L162,567.25 L162.6,566.8 L163.2,567.03 L163.8,567.24 L164.4,568 L165,568.87 L165.6,569.22 L166.2,569.3 L166.8,569.07 L167.4,568.86 L168,568.9 L168.6,569.17 L169.2,568.71 L169.8,568.12 L170.4,567.22 L171,567.08 L171.6,567.58 L172.2,567.28 L172.8,567.72 L173.4,567.88 L174,566.97 L174.6,566.94 L175.2,567 L175.8,567.78 L176.4,567.39 L177,567.72 L177.6,568.92 L178.2,568.72 L178.8,569.64 L179.4,569.15 L180,569.73 L180.6,569.5 L181.2,569.01 L181.8,569.67 L182.4,569.44 L183,570.47 L183.6,571.15 L184.2,571.81 L184.8,573.15 L185.4,575.04 L186,577.41 L186.6,575.54 L187.2,572.19 L187.8,570.01 L188.4,569.76 L189,567.49 L189.6,566.76 L190.2,564.02 L190.8,563.47 L191.4,563.04 L192,562.25 L192.6,561.83 L193.2,561.29 L193.8,560.54 L194.4,560.22 L195,559.79 L195.6,560.55 L196.2,561.15 L196.8,560.61 L197.4,561.35 L198,561.33 L198.6,561.55 L199.2,562.81 L199.8,563.66 L200.4,562.79 L201,563.9 L201.6,563.75 L202.2,564.62 L202.8,564.36 L203.4,565.48 L204,565.29 L204.6,565.46 L205.2,565.65 L205.8,566.07 L206.4,566.54 L207,568.66 L207.6,568.89 L208.2,569.08 L208.8,568.68 L209.4,567.86 L210,568.02 L210.6,566.57 L211.2,566.99 L211.8,566.58 L212.4,565.96 L213,565.68 L213.6,565.86 L214.2,565.37 L214.8,565.32 L215.4,565.41 L216,565.83 L216.6,566.41 L217.2,566.18 L217.8,566.73 L218.4,567.21 L219,566.82 L219.6,567.63 L220.2,567.24 L220.8,568.07 L221.4,568.42 L222,568.34 L222.6,569.07 L223.2,569.68 L223.8,569.41 L224.4,569.18 L225,569.95 L225.6,570.29 L226.2,569.82 L226.8,569.5 L227.4,569.45 L228,569.49 L228.6,569.44 L229.2,569.23 L229.8,569.57 L230.4,569.79 L231,569.82 L231.6,569.77 L232.2,569.61 L232.8,569.4 L233.4,569.82" fill="none" stroke="#c8c8f4" stroke-width="3.6" stroke-linejoin="round" stroke-linecap="round"/>
<path d="M107.4,570.61 L108,570.85 L108.6,571.47 L109.2,572.28 L109.8,571.83 L110.4,572.13 L111,572.52 L111.6,572.52 L112.2,571.96 L112.8,571.06 L113.4,571.02 L114,571.8 L114.6,570.68 L115.2,570.62 L115.8,571.65 L116.4,571.34 L117,570.97 L117.6,571.11 L118.2,572.14 L118.8,571.73 L119.4,571.78 L120,572.14 L120.6,572.32 L121.2,571.72 L121.8,570.65 L122.4,570.77 L123,569.77 L123.6,569.29 L124.2,569.1 L124.8,569.67 L125.4,569.43 L126,570.25 L126.6,570.05 L127.2,570.23 L127.8,570.42 L128.4,571.72 L129,572.53 L129.6,571.68 L130.2,571.32 L130.8,570.75 L131.4,571.38 L132,570.97 L132.6,570.46 L133.2,570.94 L133.8,570.95 L134.4,570.66 L135,570.07 L135.6,570.65 L136.2,570.75 L136.8,570.63 L137.4,570.22 L138,571.26 L138.6,571.56 L139.2,571.43 L139.8,571.87 L140.4,571.42 L141,570.92 L141.6,570.27 L142.2,570.66 L142.8,570.51 L143.4,570.16 L144,570.71 L144.6,570.5 L145.2,569.19 L145.8,569.76 L146.4,568.54 L147,569.02 L147.6,568.5 L148.2,568.69 L148.8,568.8 L149.4,567.89 L150,567.62 L150.6,566.2 L151.2,566.41 L151.8,565.52 L152.4,565.87 L153,566.07 L153.6,566 L154.2,567.2 L154.8,566.77 L155.4,566.79 L156,566.42 L156.6,567.06 L157.2,566.64 L157.8,566.01 L158.4,565.69 L159,565.83 L159.6,566.42 L160.2,565.98 L160.8,565.95 L161.4,567 L162,567.25 L162.6,566.8 L163.2,567.03 L163.8,567.24 L164.4,568 L165,568.87 L165.6,569.22 L166.2,569.3 L166.8,569.07 L167.4,568.86 L168,568.9 L168.6,569.17 L169.2,568.71 L169.8,568.12 L170.4,567.22 L171,567.08 L171.6,567.58 L172.2,567.28 L172.8,567.72 L173.4,567.88 L174,566.97 L174.6,566.94 L175.2,567 L175.8,567.78 L176.4,567.39 L177,567.72 L177.6,568.92 L178.2,568.72 L178.8,569.64 L179.4,569.15 L180,569.73 L180.6,569.5 L181.2,569.01 L181.8,569.67 L182.4,569.44 L183,570.47 L183.6,571.15 L184.2,571.81 L184.8,573.15 L185.4,575.04 L186,577.41 L186.6,575.54 L187.2,572.19 L187.8,570.01 L188.4,569.76 L189,567.49 L189.6,566.76 L190.2,564.02 L190.8,563.47 L191.4,563.04 L192,562.25 L192.6,561.83 L193.2,561.29 L193.8,560.54 L194.4,560.22 L195,559.79 L195.6,560.55 L196.2,561.15 L196.8,560.61 L197.4,561.35 L198,561.33 L198.6,561.55 L199.2,562.81 L199.8,563.66 L200.4,562.79 L201,563.9 L201.6,563.75 L202.2,564.62 L202.8,564.36 L203.4,565.48 L204,565.29 L204.6,565.46 L205.2,565.65 L205.8,566.07 L206.4,566.54 L207,568.66 L207.6,568.89 L208.2,569.08 L208.8,568.68 L209.4,567.86 L210,568.02 L210.6,566.57 L211.2,566.99 L211.8,566.58 L212.4,565.96 L213,565.68 L213.6,565.86 L214.2,565.37 L214.8,565.32 L215.4,565.41 L216,565.83 L216.6,566.41 L217.2,566.18 L217.8,566.73 L218.4,567.21 L219,566.82 L219.6,567.63 L220.2,567.24 L220.8,568.07 L221.4,568.42 L222,568.34 L222.6,569.07 L223.2,569.68 L223.8,569.41 L224.4,569.18 L225,569.95 L225.6,570.29 L226.2,569.82 L226.8,569.5 L227.4,569.45 L228,569.49 L228.6,569.44 L229.2,569.23 L229.8,569.57 L230.4,569.79 L231,569.82 L231.6,569.77 L232.2,569.61 L232.8,569.4 L233.4,569.82" fill="none" stroke="#141450" stroke-width="1.25" stroke-linejoin="round"/>
<line x1="170.75" y1="531.45" x2="170.75" y2="606.3" stroke="#505050" stroke-width="1.2"/>
<rect x="107.5" y="531.45" width="126.5" height="74.85" fill="none" stroke="#2b2b2b" stroke-width="1.1"/>
<rect x="170.75" y="608.5" width="62.25" height="8.1" fill="#FF4000"/>
<text x="102.2" y="542.25" text-anchor="end" class="tk">1</text>
<text x="104.8" y="556.95" text-anchor="end" class="tk">0.5</text>
<text x="102.7" y="571.95" text-anchor="end" class="tk">0</text>
<text x="104.4" y="588.55" text-anchor="end" class="tk">-0.5</text>
<text x="103.1" y="604.55" text-anchor="end" class="tk">-1</text>
<path d="M261.08,531.45v2.2M261.08,606.3v-2.2M273.66,531.45v2.2M273.66,606.3v-2.2M286.24,531.45v2.2M286.24,606.3v-2.2M298.82,531.45v2.2M298.82,606.3v-2.2M323.98,531.45v2.2M323.98,606.3v-2.2M336.56,531.45v2.2M336.56,606.3v-2.2M349.14,531.45v2.2M349.14,606.3v-2.2M361.72,531.45v2.2M361.72,606.3v-2.2M248.5,599.98h2M374.3,599.98h-2M248.5,584.42h2M374.3,584.42h-2M248.5,568.88h2M374.3,568.88h-2M248.5,553.33h2M374.3,553.33h-2M248.5,537.77h2M374.3,537.77h-2" stroke="#333" stroke-width="0.9" fill="none"/>
<path d="M248.4,575.5 L249,575.99 L249.6,575.95 L250.2,575.55 L250.8,574.88 L251.4,575.41 L252,575.57 L252.6,575.01 L253.2,574.58 L253.8,573.76 L254.4,572.87 L255,572.9 L255.6,573.08 L256.2,572.3 L256.8,573.03 L257.4,572.31 L258,571.9 L258.6,571.3 L259.2,572.36 L259.8,572.18 L260.4,572.17 L261,571.67 L261.6,570.53 L262.2,570.51 L262.8,570.62 L263.4,569.91 L264,570.75 L264.6,570.05 L265.2,569.51 L265.8,570.53 L266.4,570.04 L267,571.28 L267.6,571.2 L268.2,571.48 L268.8,571.36 L269.4,571.55 L270,571.23 L270.6,570.98 L271.2,572.22 L271.8,571.81 L272.4,572.59 L273,572.1 L273.6,573.16 L274.2,573.51 L274.8,573.49 L275.4,573.55 L276,573.34 L276.6,573.26 L277.2,572.09 L277.8,571.95 L278.4,572.17 L279,571.1 L279.6,571.65 L280.2,571.77 L280.8,571.13 L281.4,570.84 L282,570.87 L282.6,570.78 L283.2,571.67 L283.8,571.06 L284.4,570.31 L285,570.15 L285.6,571.03 L286.2,571.77 L286.8,571.37 L287.4,571.31 L288,571.48 L288.6,571.93 L289.2,571.4 L289.8,571.88 L290.4,572.03 L291,572.22 L291.6,571.39 L292.2,570.84 L292.8,570.67 L293.4,571.29 L294,570.54 L294.6,571.01 L295.2,571.06 L295.8,571.14 L296.4,571.47 L297,573 L297.6,573.7 L298.2,573.31 L298.8,573.31 L299.4,573.01 L300,572.92 L300.6,572.69 L301.2,571.54 L301.8,571.87 L302.4,572.1 L303,571.87 L303.6,572.49 L304.2,572.37 L304.8,572.39 L305.4,572.38 L306,573.42 L306.6,572.48 L307.2,571.82 L307.8,572.49 L308.4,572.47 L309,571.86 L309.6,572.05 L310.2,570.91 L310.8,570.81 L311.4,570.77 L312,570.9 L312.6,570.53 L313.2,570.2 L313.8,570.47 L314.4,571.5 L315,572.16 L315.6,572.22 L316.2,572.05 L316.8,571.85 L317.4,573.03 L318,572.95 L318.6,573.33 L319.2,572.32 L319.8,571.63 L320.4,571.79 L321,571.54 L321.6,570.5 L322.2,568.28 L322.8,566.35 L323.4,565.6 L324,564.82 L324.6,562.66 L325.2,561.32 L325.8,559.9 L326.4,560.11 L327,558.78 L327.6,558.97 L328.2,559.13 L328.8,557.61 L329.4,557.39 L330,556.21 L330.6,555.19 L331.2,554.3 L331.8,553.54 L332.4,553.31 L333,553.9 L333.6,553.91 L334.2,552.79 L334.8,552.59 L335.4,552.75 L336,552.87 L336.6,553.75 L337.2,554.36 L337.8,556.51 L338.4,557.63 L339,557.56 L339.6,558.64 L340.2,559.57 L340.8,561.02 L341.4,561.8 L342,562.34 L342.6,562.65 L343.2,563.46 L343.8,564.67 L344.4,565.18 L345,564.77 L345.6,565.46 L346.2,565.92 L346.8,565.89 L347.4,565.86 L348,564.64 L348.6,564.86 L349.2,564.31 L349.8,565.15 L350.4,564.54 L351,565.08 L351.6,564.54 L352.2,564.96 L352.8,564.49 L353.4,563.88 L354,564.17 L354.6,564.31 L355.2,565.4 L355.8,565.06 L356.4,565.43 L357,565.78 L357.6,566.61 L358.2,565.72 L358.8,566.46 L359.4,566.94 L360,567.78 L360.6,568.65 L361.2,567.98 L361.8,568.15 L362.4,567.83 L363,567.64 L363.6,566.71 L364.2,567.41 L364.8,567.83 L365.4,567.09 L366,566.83 L366.6,567.8 L367.2,566.87 L367.8,566.54 L368.4,566.45 L369,567.55 L369.6,567.49 L370.2,566.6 L370.8,566.3 L371.4,565.49 L372,566.45 L372.6,566.77 L373.2,567.28 L373.8,567.49 L374.4,567.73" fill="none" stroke="#c8c8f4" stroke-width="3.6" stroke-linejoin="round" stroke-linecap="round"/>
<path d="M248.4,575.5 L249,575.99 L249.6,575.95 L250.2,575.55 L250.8,574.88 L251.4,575.41 L252,575.57 L252.6,575.01 L253.2,574.58 L253.8,573.76 L254.4,572.87 L255,572.9 L255.6,573.08 L256.2,572.3 L256.8,573.03 L257.4,572.31 L258,571.9 L258.6,571.3 L259.2,572.36 L259.8,572.18 L260.4,572.17 L261,571.67 L261.6,570.53 L262.2,570.51 L262.8,570.62 L263.4,569.91 L264,570.75 L264.6,570.05 L265.2,569.51 L265.8,570.53 L266.4,570.04 L267,571.28 L267.6,571.2 L268.2,571.48 L268.8,571.36 L269.4,571.55 L270,571.23 L270.6,570.98 L271.2,572.22 L271.8,571.81 L272.4,572.59 L273,572.1 L273.6,573.16 L274.2,573.51 L274.8,573.49 L275.4,573.55 L276,573.34 L276.6,573.26 L277.2,572.09 L277.8,571.95 L278.4,572.17 L279,571.1 L279.6,571.65 L280.2,571.77 L280.8,571.13 L281.4,570.84 L282,570.87 L282.6,570.78 L283.2,571.67 L283.8,571.06 L284.4,570.31 L285,570.15 L285.6,571.03 L286.2,571.77 L286.8,571.37 L287.4,571.31 L288,571.48 L288.6,571.93 L289.2,571.4 L289.8,571.88 L290.4,572.03 L291,572.22 L291.6,571.39 L292.2,570.84 L292.8,570.67 L293.4,571.29 L294,570.54 L294.6,571.01 L295.2,571.06 L295.8,571.14 L296.4,571.47 L297,573 L297.6,573.7 L298.2,573.31 L298.8,573.31 L299.4,573.01 L300,572.92 L300.6,572.69 L301.2,571.54 L301.8,571.87 L302.4,572.1 L303,571.87 L303.6,572.49 L304.2,572.37 L304.8,572.39 L305.4,572.38 L306,573.42 L306.6,572.48 L307.2,571.82 L307.8,572.49 L308.4,572.47 L309,571.86 L309.6,572.05 L310.2,570.91 L310.8,570.81 L311.4,570.77 L312,570.9 L312.6,570.53 L313.2,570.2 L313.8,570.47 L314.4,571.5 L315,572.16 L315.6,572.22 L316.2,572.05 L316.8,571.85 L317.4,573.03 L318,572.95 L318.6,573.33 L319.2,572.32 L319.8,571.63 L320.4,571.79 L321,571.54 L321.6,570.5 L322.2,568.28 L322.8,566.35 L323.4,565.6 L324,564.82 L324.6,562.66 L325.2,561.32 L325.8,559.9 L326.4,560.11 L327,558.78 L327.6,558.97 L328.2,559.13 L328.8,557.61 L329.4,557.39 L330,556.21 L330.6,555.19 L331.2,554.3 L331.8,553.54 L332.4,553.31 L333,553.9 L333.6,553.91 L334.2,552.79 L334.8,552.59 L335.4,552.75 L336,552.87 L336.6,553.75 L337.2,554.36 L337.8,556.51 L338.4,557.63 L339,557.56 L339.6,558.64 L340.2,559.57 L340.8,561.02 L341.4,561.8 L342,562.34 L342.6,562.65 L343.2,563.46 L343.8,564.67 L344.4,565.18 L345,564.77 L345.6,565.46 L346.2,565.92 L346.8,565.89 L347.4,565.86 L348,564.64 L348.6,564.86 L349.2,564.31 L349.8,565.15 L350.4,564.54 L351,565.08 L351.6,564.54 L352.2,564.96 L352.8,564.49 L353.4,563.88 L354,564.17 L354.6,564.31 L355.2,565.4 L355.8,565.06 L356.4,565.43 L357,565.78 L357.6,566.61 L358.2,565.72 L358.8,566.46 L359.4,566.94 L360,567.78 L360.6,568.65 L361.2,567.98 L361.8,568.15 L362.4,567.83 L363,567.64 L363.6,566.71 L364.2,567.41 L364.8,567.83 L365.4,567.09 L366,566.83 L366.6,567.8 L367.2,566.87 L367.8,566.54 L368.4,566.45 L369,567.55 L369.6,567.49 L370.2,566.6 L370.8,566.3 L371.4,565.49 L372,566.45 L372.6,566.77 L373.2,567.28 L373.8,567.49 L374.4,567.73" fill="none" stroke="#141450" stroke-width="1.25" stroke-linejoin="round"/>
<line x1="311.4" y1="531.45" x2="311.4" y2="606.3" stroke="#505050" stroke-width="1.2"/>
<rect x="248.5" y="531.45" width="125.8" height="74.85" fill="none" stroke="#2b2b2b" stroke-width="1.1"/>
<rect x="311.5" y="608.2" width="61.6" height="8.1" fill="#FF4000"/>
<path d="M401.81,531.45v2.2M401.81,606.3v-2.2M414.42,531.45v2.2M414.42,606.3v-2.2M427.03,531.45v2.2M427.03,606.3v-2.2M439.64,531.45v2.2M439.64,606.3v-2.2M464.86,531.45v2.2M464.86,606.3v-2.2M477.47,531.45v2.2M477.47,606.3v-2.2M490.08,531.45v2.2M490.08,606.3v-2.2M502.69,531.45v2.2M502.69,606.3v-2.2M389.2,599.98h2M515.3,599.98h-2M389.2,584.42h2M515.3,584.42h-2M389.2,568.88h2M515.3,568.88h-2M389.2,553.33h2M515.3,553.33h-2M389.2,537.77h2M515.3,537.77h-2" stroke="#333" stroke-width="0.9" fill="none"/>
<path d="M389.4,570.69 L390,569.74 L390.6,569.28 L391.2,570.63 L391.8,569.93 L392.4,569.65 L393,570.4 L393.6,570.25 L394.2,571.04 L394.8,570.36 L395.4,571.15 L396,570.36 L396.6,570.39 L397.2,570.76 L397.8,570.39 L398.4,570.48 L399,570.07 L399.6,568.82 L400.2,569.55 L400.8,569.31 L401.4,568.74 L402,568.23 L402.6,568.9 L403.2,568.57 L403.8,568.82 L404.4,568.51 L405,568.56 L405.6,567.9 L406.2,568 L406.8,568.59 L407.4,568.98 L408,570.83 L408.6,570.97 L409.2,571.76 L409.8,572.01 L410.4,571.48 L411,570.34 L411.6,570.8 L412.2,570.59 L412.8,569.7 L413.4,569.11 L414,569.47 L414.6,568.67 L415.2,569.52 L415.8,568.98 L416.4,568.63 L417,568.19 L417.6,568.3 L418.2,568.72 L418.8,568.07 L419.4,568.03 L420,568.42 L420.6,568.24 L421.2,568.72 L421.8,568.89 L422.4,568.85 L423,569.23 L423.6,569.06 L424.2,568.28 L424.8,569.29 L425.4,568.6 L426,568.39 L426.6,568.19 L427.2,568.83 L427.8,569.03 L428.4,568.39 L429,567.97 L429.6,567.32 L430.2,568.23 L430.8,567.39 L431.4,567.57 L432,567.25 L432.6,567.03 L433.2,566.92 L433.8,566.57 L434.4,566.16 L435,566.74 L435.6,567.41 L436.2,567.5 L436.8,566.93 L437.4,567.55 L438,566.87 L438.6,567.22 L439.2,567.95 L439.8,568.25 L440.4,567.58 L441,567.82 L441.6,567.28 L442.2,567.03 L442.8,566.95 L443.4,567.47 L444,567.24 L444.6,567.03 L445.2,567.61 L445.8,568 L446.4,568.01 L447,568.92 L447.6,569.47 L448.2,569.33 L448.8,569.56 L449.4,568.06 L450,568.04 L450.6,568.05 L451.2,567.45 L451.8,566.89 L452.4,567.47 L453,567.25 L453.6,566.88 L454.2,566.36 L454.8,567.52 L455.4,566.96 L456,566.4 L456.6,566.57 L457.2,566.92 L457.8,568.21 L458.4,567.9 L459,568.14 L459.6,568.11 L460.2,568.8 L460.8,569.1 L461.4,569.95 L462,571.33 L462.6,572.44 L463.2,573.1 L463.8,573.61 L464.4,575.91 L465,578.59 L465.6,579.03 L466.2,581.9 L466.8,583.41 L467.4,581.7 L468,580.04 L468.6,578.24 L469.2,576.79 L469.8,574.93 L470.4,572.82 L471,570.8 L471.6,568.87 L472.2,568.76 L472.8,567.39 L473.4,567.11 L474,565.82 L474.6,563.9 L475.2,563.68 L475.8,563.34 L476.4,561.85 L477,561.75 L477.6,561.41 L478.2,562.63 L478.8,562.17 L479.4,563.21 L480,564.32 L480.6,564.64 L481.2,563.95 L481.8,564.44 L482.4,564.38 L483,564.99 L483.6,566.22 L484.2,566.86 L484.8,566.97 L485.4,568.63 L486,570.08 L486.6,569.54 L487.2,570.29 L487.8,570.69 L488.4,570.32 L489,569.9 L489.6,570.05 L490.2,569.07 L490.8,567.72 L491.4,566.97 L492,566.32 L492.6,567.03 L493.2,566.5 L493.8,566.29 L494.4,566.09 L495,565.99 L495.6,564.61 L496.2,564.39 L496.8,564.96 L497.4,564.89 L498,564.2 L498.6,564.3 L499.2,563.74 L499.8,564.01 L500.4,564.47 L501,565.63 L501.6,566.17 L502.2,566.9 L502.8,568.08 L503.4,567.62 L504,568.4 L504.6,569.36 L505.2,569.15 L505.8,568.04 L506.4,567.22 L507,565.44 L507.6,566.68 L508.2,566.95 L508.8,567.49 L509.4,567.96 L510,567.25 L510.6,567.1 L511.2,567.27 L511.8,567.87 L512.4,568.83 L513,569.23 L513.6,568.74 L514.2,568.98 L514.8,569.32 L515.4,568.88" fill="none" stroke="#c8c8f4" stroke-width="3.6" stroke-linejoin="round" stroke-linecap="round"/>
<path d="M389.4,570.69 L390,569.74 L390.6,569.28 L391.2,570.63 L391.8,569.93 L392.4,569.65 L393,570.4 L393.6,570.25 L394.2,571.04 L394.8,570.36 L395.4,571.15 L396,570.36 L396.6,570.39 L397.2,570.76 L397.8,570.39 L398.4,570.48 L399,570.07 L399.6,568.82 L400.2,569.55 L400.8,569.31 L401.4,568.74 L402,568.23 L402.6,568.9 L403.2,568.57 L403.8,568.82 L404.4,568.51 L405,568.56 L405.6,567.9 L406.2,568 L406.8,568.59 L407.4,568.98 L408,570.83 L408.6,570.97 L409.2,571.76 L409.8,572.01 L410.4,571.48 L411,570.34 L411.6,570.8 L412.2,570.59 L412.8,569.7 L413.4,569.11 L414,569.47 L414.6,568.67 L415.2,569.52 L415.8,568.98 L416.4,568.63 L417,568.19 L417.6,568.3 L418.2,568.72 L418.8,568.07 L419.4,568.03 L420,568.42 L420.6,568.24 L421.2,568.72 L421.8,568.89 L422.4,568.85 L423,569.23 L423.6,569.06 L424.2,568.28 L424.8,569.29 L425.4,568.6 L426,568.39 L426.6,568.19 L427.2,568.83 L427.8,569.03 L428.4,568.39 L429,567.97 L429.6,567.32 L430.2,568.23 L430.8,567.39 L431.4,567.57 L432,567.25 L432.6,567.03 L433.2,566.92 L433.8,566.57 L434.4,566.16 L435,566.74 L435.6,567.41 L436.2,567.5 L436.8,566.93 L437.4,567.55 L438,566.87 L438.6,567.22 L439.2,567.95 L439.8,568.25 L440.4,567.58 L441,567.82 L441.6,567.28 L442.2,567.03 L442.8,566.95 L443.4,567.47 L444,567.24 L444.6,567.03 L445.2,567.61 L445.8,568 L446.4,568.01 L447,568.92 L447.6,569.47 L448.2,569.33 L448.8,569.56 L449.4,568.06 L450,568.04 L450.6,568.05 L451.2,567.45 L451.8,566.89 L452.4,567.47 L453,567.25 L453.6,566.88 L454.2,566.36 L454.8,567.52 L455.4,566.96 L456,566.4 L456.6,566.57 L457.2,566.92 L457.8,568.21 L458.4,567.9 L459,568.14 L459.6,568.11 L460.2,568.8 L460.8,569.1 L461.4,569.95 L462,571.33 L462.6,572.44 L463.2,573.1 L463.8,573.61 L464.4,575.91 L465,578.59 L465.6,579.03 L466.2,581.9 L466.8,583.41 L467.4,581.7 L468,580.04 L468.6,578.24 L469.2,576.79 L469.8,574.93 L470.4,572.82 L471,570.8 L471.6,568.87 L472.2,568.76 L472.8,567.39 L473.4,567.11 L474,565.82 L474.6,563.9 L475.2,563.68 L475.8,563.34 L476.4,561.85 L477,561.75 L477.6,561.41 L478.2,562.63 L478.8,562.17 L479.4,563.21 L480,564.32 L480.6,564.64 L481.2,563.95 L481.8,564.44 L482.4,564.38 L483,564.99 L483.6,566.22 L484.2,566.86 L484.8,566.97 L485.4,568.63 L486,570.08 L486.6,569.54 L487.2,570.29 L487.8,570.69 L488.4,570.32 L489,569.9 L489.6,570.05 L490.2,569.07 L490.8,567.72 L491.4,566.97 L492,566.32 L492.6,567.03 L493.2,566.5 L493.8,566.29 L494.4,566.09 L495,565.99 L495.6,564.61 L496.2,564.39 L496.8,564.96 L497.4,564.89 L498,564.2 L498.6,564.3 L499.2,563.74 L499.8,564.01 L500.4,564.47 L501,565.63 L501.6,566.17 L502.2,566.9 L502.8,568.08 L503.4,567.62 L504,568.4 L504.6,569.36 L505.2,569.15 L505.8,568.04 L506.4,567.22 L507,565.44 L507.6,566.68 L508.2,566.95 L508.8,567.49 L509.4,567.96 L510,567.25 L510.6,567.1 L511.2,567.27 L511.8,567.87 L512.4,568.83 L513,569.23 L513.6,568.74 L514.2,568.98 L514.8,569.32 L515.4,568.88" fill="none" stroke="#141450" stroke-width="1.25" stroke-linejoin="round"/>
<line x1="452.25" y1="531.45" x2="452.25" y2="606.3" stroke="#505050" stroke-width="1.2"/>
<rect x="389.2" y="531.45" width="126.1" height="74.85" fill="none" stroke="#2b2b2b" stroke-width="1.1"/>
<rect x="452.55" y="609" width="61.15" height="8.1" fill="#FF4000"/>
<path d="M542.23,531.45v2.2M542.23,606.3v-2.2M554.86,531.45v2.2M554.86,606.3v-2.2M567.49,531.45v2.2M567.49,606.3v-2.2M580.12,531.45v2.2M580.12,606.3v-2.2M605.38,531.45v2.2M605.38,606.3v-2.2M618.01,531.45v2.2M618.01,606.3v-2.2M630.64,531.45v2.2M630.64,606.3v-2.2M643.27,531.45v2.2M643.27,606.3v-2.2M529.6,599.98h2M655.9,599.98h-2M529.6,584.42h2M655.9,584.42h-2M529.6,568.88h2M655.9,568.88h-2M529.6,553.33h2M655.9,553.33h-2M529.6,537.77h2M655.9,537.77h-2" stroke="#333" stroke-width="0.9" fill="none"/>
<path d="M529.8,569.64 L530.4,570.22 L531,570.72 L531.6,570.08 L532.2,570.95 L532.8,571.21 L533.4,571.51 L534,571.17 L534.6,571.34 L535.2,571.99 L535.8,572.07 L536.4,572.58 L537,572.2 L537.6,572.14 L538.2,573.1 L538.8,573.06 L539.4,573.23 L540,573.66 L540.6,573.28 L541.2,572.59 L541.8,572.98 L542.4,572.35 L543,571.69 L543.6,570.85 L544.2,570.55 L544.8,569.09 L545.4,568.84 L546,567.95 L546.6,568.5 L547.2,569.28 L547.8,569.56 L548.4,569.82 L549,570.93 L549.6,571.98 L550.2,572.19 L550.8,571.84 L551.4,571.89 L552,571.08 L552.6,570.64 L553.2,570.57 L553.8,571.17 L554.4,570.36 L555,569.9 L555.6,569.38 L556.2,568.7 L556.8,568.35 L557.4,568.21 L558,568.15 L558.6,567.12 L559.2,566.79 L559.8,566.71 L560.4,566.8 L561,567.64 L561.6,567.69 L562.2,567.37 L562.8,567.12 L563.4,568.1 L564,568.37 L564.6,568.39 L565.2,567.26 L565.8,567.04 L566.4,567.21 L567,566.48 L567.6,566.49 L568.2,565.11 L568.8,565.7 L569.4,564.62 L570,564.92 L570.6,564.56 L571.2,565.74 L571.8,566.09 L572.4,566.73 L573,566.75 L573.6,567.24 L574.2,567.14 L574.8,568.17 L575.4,568.56 L576,568.41 L576.6,569.53 L577.2,569.04 L577.8,568.42 L578.4,567.9 L579,568.17 L579.6,567.74 L580.2,568.6 L580.8,568.86 L581.4,567.68 L582,566.76 L582.6,566.7 L583.2,565.75 L583.8,565.63 L584.4,565.73 L585,564.78 L585.6,564.95 L586.2,565.91 L586.8,565.73 L587.4,565.65 L588,566.52 L588.6,566.15 L589.2,565.55 L589.8,564.44 L590.4,563.17 L591,562.91 L591.6,563.71 L592.2,564.29 L592.8,564.49 L593.4,565.1 L594,565.73 L594.6,566.41 L595.2,566.45 L595.8,566.58 L596.4,567.17 L597,566.4 L597.6,567 L598.2,566.88 L598.8,567.6 L599.4,568.75 L600,568.8 L600.6,570.36 L601.2,569.99 L601.8,570.83 L602.4,571.29 L603,571.41 L603.6,572.45 L604.2,573.2 L604.8,573.89 L605.4,574.88 L606,574.36 L606.6,575.03 L607.2,576.4 L607.8,576.44 L608.4,577.95 L609,577.69 L609.6,577.15 L610.2,575.06 L610.8,574.02 L611.4,572.18 L612,567.8 L612.6,564.68 L613.2,562.84 L613.8,562.43 L614.4,562.75 L615,564.14 L615.6,565.5 L616.2,565.75 L616.8,566.61 L617.4,565.79 L618,566.78 L618.6,567.21 L619.2,566.91 L619.8,567.31 L620.4,567.36 L621,567.31 L621.6,566.43 L622.2,565.75 L622.8,565.09 L623.4,564.32 L624,564.66 L624.6,563.58 L625.2,563.26 L625.8,563.45 L626.4,564.31 L627,564.31 L627.6,564.62 L628.2,564.44 L628.8,564.51 L629.4,564.29 L630,564.5 L630.6,564.78 L631.2,565.88 L631.8,565.86 L632.4,565.35 L633,565.75 L633.6,565.35 L634.2,565.87 L634.8,565.87 L635.4,566.49 L636,565.81 L636.6,566.46 L637.2,565.81 L637.8,566.8 L638.4,566.74 L639,565.96 L639.6,566.96 L640.2,566.61 L640.8,566.68 L641.4,566.49 L642,567.68 L642.6,567.23 L643.2,568.31 L643.8,568.4 L644.4,569.03 L645,568.77 L645.6,568.14 L646.2,569 L646.8,568.74 L647.4,567.78 L648,568.59 L648.6,568.38 L649.2,566.69 L649.8,565.33 L650.4,565.33 L651,564.42 L651.6,565.4 L652.2,565.63 L652.8,566.4 L653.4,566.8 L654,567.55 L654.6,568.16 L655.2,568.22" fill="none" stroke="#c8c8f4" stroke-width="3.6" stroke-linejoin="round" stroke-linecap="round"/>
<path d="M529.8,569.64 L530.4,570.22 L531,570.72 L531.6,570.08 L532.2,570.95 L532.8,571.21 L533.4,571.51 L534,571.17 L534.6,571.34 L535.2,571.99 L535.8,572.07 L536.4,572.58 L537,572.2 L537.6,572.14 L538.2,573.1 L538.8,573.06 L539.4,573.23 L540,573.66 L540.6,573.28 L541.2,572.59 L541.8,572.98 L542.4,572.35 L543,571.69 L543.6,570.85 L544.2,570.55 L544.8,569.09 L545.4,568.84 L546,567.95 L546.6,568.5 L547.2,569.28 L547.8,569.56 L548.4,569.82 L549,570.93 L549.6,571.98 L550.2,572.19 L550.8,571.84 L551.4,571.89 L552,571.08 L552.6,570.64 L553.2,570.57 L553.8,571.17 L554.4,570.36 L555,569.9 L555.6,569.38 L556.2,568.7 L556.8,568.35 L557.4,568.21 L558,568.15 L558.6,567.12 L559.2,566.79 L559.8,566.71 L560.4,566.8 L561,567.64 L561.6,567.69 L562.2,567.37 L562.8,567.12 L563.4,568.1 L564,568.37 L564.6,568.39 L565.2,567.26 L565.8,567.04 L566.4,567.21 L567,566.48 L567.6,566.49 L568.2,565.11 L568.8,565.7 L569.4,564.62 L570,564.92 L570.6,564.56 L571.2,565.74 L571.8,566.09 L572.4,566.73 L573,566.75 L573.6,567.24 L574.2,567.14 L574.8,568.17 L575.4,568.56 L576,568.41 L576.6,569.53 L577.2,569.04 L577.8,568.42 L578.4,567.9 L579,568.17 L579.6,567.74 L580.2,568.6 L580.8,568.86 L581.4,567.68 L582,566.76 L582.6,566.7 L583.2,565.75 L583.8,565.63 L584.4,565.73 L585,564.78 L585.6,564.95 L586.2,565.91 L586.8,565.73 L587.4,565.65 L588,566.52 L588.6,566.15 L589.2,565.55 L589.8,564.44 L590.4,563.17 L591,562.91 L591.6,563.71 L592.2,564.29 L592.8,564.49 L593.4,565.1 L594,565.73 L594.6,566.41 L595.2,566.45 L595.8,566.58 L596.4,567.17 L597,566.4 L597.6,567 L598.2,566.88 L598.8,567.6 L599.4,568.75 L600,568.8 L600.6,570.36 L601.2,569.99 L601.8,570.83 L602.4,571.29 L603,571.41 L603.6,572.45 L604.2,573.2 L604.8,573.89 L605.4,574.88 L606,574.36 L606.6,575.03 L607.2,576.4 L607.8,576.44 L608.4,577.95 L609,577.69 L609.6,577.15 L610.2,575.06 L610.8,574.02 L611.4,572.18 L612,567.8 L612.6,564.68 L613.2,562.84 L613.8,562.43 L614.4,562.75 L615,564.14 L615.6,565.5 L616.2,565.75 L616.8,566.61 L617.4,565.79 L618,566.78 L618.6,567.21 L619.2,566.91 L619.8,567.31 L620.4,567.36 L621,567.31 L621.6,566.43 L622.2,565.75 L622.8,565.09 L623.4,564.32 L624,564.66 L624.6,563.58 L625.2,563.26 L625.8,563.45 L626.4,564.31 L627,564.31 L627.6,564.62 L628.2,564.44 L628.8,564.51 L629.4,564.29 L630,564.5 L630.6,564.78 L631.2,565.88 L631.8,565.86 L632.4,565.35 L633,565.75 L633.6,565.35 L634.2,565.87 L634.8,565.87 L635.4,566.49 L636,565.81 L636.6,566.46 L637.2,565.81 L637.8,566.8 L638.4,566.74 L639,565.96 L639.6,566.96 L640.2,566.61 L640.8,566.68 L641.4,566.49 L642,567.68 L642.6,567.23 L643.2,568.31 L643.8,568.4 L644.4,569.03 L645,568.77 L645.6,568.14 L646.2,569 L646.8,568.74 L647.4,567.78 L648,568.59 L648.6,568.38 L649.2,566.69 L649.8,565.33 L650.4,565.33 L651,564.42 L651.6,565.4 L652.2,565.63 L652.8,566.4 L653.4,566.8 L654,567.55 L654.6,568.16 L655.2,568.22" fill="none" stroke="#141450" stroke-width="1.25" stroke-linejoin="round"/>
<line x1="592.75" y1="531.45" x2="592.75" y2="606.3" stroke="#505050" stroke-width="1.2"/>
<rect x="529.6" y="531.45" width="126.3" height="74.85" fill="none" stroke="#2b2b2b" stroke-width="1.1"/>
<rect x="593.75" y="609.8" width="62.35" height="8.1" fill="#FF4000"/>
<rect x="32.8" y="556" width="51.8" height="24.6" fill="#FF4000"/>
<text x="30.2" y="549.7" style="font-size:25px">No.13</text>
<path d="M120.15,624.85v2.2M120.15,700.3v-2.2M132.8,624.85v2.2M132.8,700.3v-2.2M145.45,624.85v2.2M145.45,700.3v-2.2M158.1,624.85v2.2M158.1,700.3v-2.2M183.4,624.85v2.2M183.4,700.3v-2.2M196.05,624.85v2.2M196.05,700.3v-2.2M208.7,624.85v2.2M208.7,700.3v-2.2M221.35,624.85v2.2M221.35,700.3v-2.2M107.5,693.68h2M234,693.68h-2M107.5,678.12h2M234,678.12h-2M107.5,662.58h2M234,662.58h-2M107.5,647.03h2M234,647.03h-2M107.5,631.48h2M234,631.48h-2" stroke="#333" stroke-width="0.9" fill="none"/>
<path d="M107.4,667.06 L108,666.52 L108.6,665.72 L109.2,666.15 L109.8,665.41 L110.4,665.06 L111,665.06 L111.6,665.31 L112.2,665.72 L112.8,664.83 L113.4,665.08 L114,664.92 L114.6,663.53 L115.2,662.62 L115.8,662.31 L116.4,663.35 L117,663.53 L117.6,664.26 L118.2,664.8 L118.8,664.72 L119.4,664.7 L120,664.14 L120.6,663.99 L121.2,665.15 L121.8,665.37 L122.4,665.63 L123,665.47 L123.6,665.63 L124.2,665.67 L124.8,666.1 L125.4,665.08 L126,665.31 L126.6,665.14 L127.2,665.89 L127.8,666.25 L128.4,665.45 L129,664.93 L129.6,664.82 L130.2,664.7 L130.8,665.13 L131.4,664.54 L132,664.67 L132.6,663.93 L133.2,663.9 L133.8,663.14 L134.4,663.24 L135,662.74 L135.6,662.77 L136.2,662.65 L136.8,661.81 L137.4,660.85 L138,661.81 L138.6,662.12 L139.2,661.48 L139.8,661.24 L140.4,661.78 L141,660.92 L141.6,660.61 L142.2,661.4 L142.8,662.81 L143.4,664.38 L144,665.63 L144.6,664.8 L145.2,663.85 L145.8,662.69 L146.4,661.86 L147,661.6 L147.6,661.86 L148.2,662.53 L148.8,662.71 L149.4,662.74 L150,662.66 L150.6,663.08 L151.2,662.97 L151.8,664 L152.4,664.55 L153,665.02 L153.6,664.29 L154.2,663.95 L154.8,663.8 L155.4,663.77 L156,662.84 L156.6,662.01 L157.2,662.19 L157.8,661.33 L158.4,661.22 L159,660.57 L159.6,660.95 L160.2,660.47 L160.8,660.35 L161.4,660.75 L162,660.55 L162.6,659.49 L163.2,659.73 L163.8,659.27 L164.4,660.42 L165,660.43 L165.6,661.07 L166.2,660.51 L166.8,661.24 L167.4,660.53 L168,661.41 L168.6,660.83 L169.2,659.98 L169.8,660.77 L170.4,660.79 L171,659.77 L171.6,659.97 L172.2,659.82 L172.8,659.19 L173.4,659.32 L174,660.12 L174.6,659.47 L175.2,659.87 L175.8,660.31 L176.4,660.8 L177,661.07 L177.6,661.92 L178.2,661.64 L178.8,661.9 L179.4,662 L180,661.66 L180.6,662.31 L181.2,663.09 L181.8,663.18 L182.4,662.86 L183,663.35 L183.6,664.42 L184.2,664.69 L184.8,665.2 L185.4,666.28 L186,665.97 L186.6,666.2 L187.2,666.69 L187.8,667.7 L188.4,667.53 L189,668.6 L189.6,668.84 L190.2,669.34 L190.8,669.26 L191.4,667.78 L192,665.57 L192.6,663.48 L193.2,662.86 L193.8,661.23 L194.4,659.88 L195,659.7 L195.6,659.82 L196.2,659.22 L196.8,659.52 L197.4,659.91 L198,659.53 L198.6,660.06 L199.2,659.46 L199.8,659.11 L200.4,659.2 L201,658.85 L201.6,659.21 L202.2,658.74 L202.8,658.3 L203.4,658.85 L204,658.88 L204.6,658.58 L205.2,657.31 L205.8,656.98 L206.4,656.67 L207,657.62 L207.6,657.6 L208.2,657.12 L208.8,658.29 L209.4,657.46 L210,657.15 L210.6,658.4 L211.2,658.29 L211.8,658.98 L212.4,658.95 L213,658.37 L213.6,658.76 L214.2,659.34 L214.8,658.45 L215.4,659.33 L216,659.05 L216.6,659.24 L217.2,659.06 L217.8,659.72 L218.4,659.55 L219,659.53 L219.6,659.06 L220.2,659.98 L220.8,659.52 L221.4,660.59 L222,661.26 L222.6,662.56 L223.2,663.71 L223.8,662.52 L224.4,661.78 L225,661.29 L225.6,660.78 L226.2,660.76 L226.8,660.4 L227.4,659.63 L228,660.46 L228.6,660.2 L229.2,660.64 L229.8,660.64 L230.4,660.8 L231,660.24 L231.6,660.93 L232.2,661.23 L232.8,662.63 L233.4,663.96" fill="none" stroke="#c8c8f4" stroke-width="3.6" stroke-linejoin="round" stroke-linecap="round"/>
<path d="M107.4,667.06 L108,666.52 L108.6,665.72 L109.2,666.15 L109.8,665.41 L110.4,665.06 L111,665.06 L111.6,665.31 L112.2,665.72 L112.8,664.83 L113.4,665.08 L114,664.92 L114.6,663.53 L115.2,662.62 L115.8,662.31 L116.4,663.35 L117,663.53 L117.6,664.26 L118.2,664.8 L118.8,664.72 L119.4,664.7 L120,664.14 L120.6,663.99 L121.2,665.15 L121.8,665.37 L122.4,665.63 L123,665.47 L123.6,665.63 L124.2,665.67 L124.8,666.1 L125.4,665.08 L126,665.31 L126.6,665.14 L127.2,665.89 L127.8,666.25 L128.4,665.45 L129,664.93 L129.6,664.82 L130.2,664.7 L130.8,665.13 L131.4,664.54 L132,664.67 L132.6,663.93 L133.2,663.9 L133.8,663.14 L134.4,663.24 L135,662.74 L135.6,662.77 L136.2,662.65 L136.8,661.81 L137.4,660.85 L138,661.81 L138.6,662.12 L139.2,661.48 L139.8,661.24 L140.4,661.78 L141,660.92 L141.6,660.61 L142.2,661.4 L142.8,662.81 L143.4,664.38 L144,665.63 L144.6,664.8 L145.2,663.85 L145.8,662.69 L146.4,661.86 L147,661.6 L147.6,661.86 L148.2,662.53 L148.8,662.71 L149.4,662.74 L150,662.66 L150.6,663.08 L151.2,662.97 L151.8,664 L152.4,664.55 L153,665.02 L153.6,664.29 L154.2,663.95 L154.8,663.8 L155.4,663.77 L156,662.84 L156.6,662.01 L157.2,662.19 L157.8,661.33 L158.4,661.22 L159,660.57 L159.6,660.95 L160.2,660.47 L160.8,660.35 L161.4,660.75 L162,660.55 L162.6,659.49 L163.2,659.73 L163.8,659.27 L164.4,660.42 L165,660.43 L165.6,661.07 L166.2,660.51 L166.8,661.24 L167.4,660.53 L168,661.41 L168.6,660.83 L169.2,659.98 L169.8,660.77 L170.4,660.79 L171,659.77 L171.6,659.97 L172.2,659.82 L172.8,659.19 L173.4,659.32 L174,660.12 L174.6,659.47 L175.2,659.87 L175.8,660.31 L176.4,660.8 L177,661.07 L177.6,661.92 L178.2,661.64 L178.8,661.9 L179.4,662 L180,661.66 L180.6,662.31 L181.2,663.09 L181.8,663.18 L182.4,662.86 L183,663.35 L183.6,664.42 L184.2,664.69 L184.8,665.2 L185.4,666.28 L186,665.97 L186.6,666.2 L187.2,666.69 L187.8,667.7 L188.4,667.53 L189,668.6 L189.6,668.84 L190.2,669.34 L190.8,669.26 L191.4,667.78 L192,665.57 L192.6,663.48 L193.2,662.86 L193.8,661.23 L194.4,659.88 L195,659.7 L195.6,659.82 L196.2,659.22 L196.8,659.52 L197.4,659.91 L198,659.53 L198.6,660.06 L199.2,659.46 L199.8,659.11 L200.4,659.2 L201,658.85 L201.6,659.21 L202.2,658.74 L202.8,658.3 L203.4,658.85 L204,658.88 L204.6,658.58 L205.2,657.31 L205.8,656.98 L206.4,656.67 L207,657.62 L207.6,657.6 L208.2,657.12 L208.8,658.29 L209.4,657.46 L210,657.15 L210.6,658.4 L211.2,658.29 L211.8,658.98 L212.4,658.95 L213,658.37 L213.6,658.76 L214.2,659.34 L214.8,658.45 L215.4,659.33 L216,659.05 L216.6,659.24 L217.2,659.06 L217.8,659.72 L218.4,659.55 L219,659.53 L219.6,659.06 L220.2,659.98 L220.8,659.52 L221.4,660.59 L222,661.26 L222.6,662.56 L223.2,663.71 L223.8,662.52 L224.4,661.78 L225,661.29 L225.6,660.78 L226.2,660.76 L226.8,660.4 L227.4,659.63 L228,660.46 L228.6,660.2 L229.2,660.64 L229.8,660.64 L230.4,660.8 L231,660.24 L231.6,660.93 L232.2,661.23 L232.8,662.63 L233.4,663.96" fill="none" stroke="#141450" stroke-width="1.25" stroke-linejoin="round"/>
<line x1="170.75" y1="624.85" x2="170.75" y2="700.3" stroke="#505050" stroke-width="1.2"/>
<rect x="107.5" y="624.85" width="126.5" height="75.45" fill="none" stroke="#2b2b2b" stroke-width="1.1"/>
<rect x="170.75" y="702.9" width="62.25" height="8.1" fill="#FF0000"/>
<text x="102" y="635.85" text-anchor="end" class="tk">1</text>
<text x="106.5" y="651.05" text-anchor="end" class="tk">0.5</text>
<text x="102" y="667.65" text-anchor="end" class="tk">0</text>
<text x="105.5" y="682.45" text-anchor="end" class="tk">-0.5</text>
<text x="102.5" y="698.85" text-anchor="end" class="tk">-1</text>
<path d="M261.08,624.85v2.2M261.08,700.3v-2.2M273.66,624.85v2.2M273.66,700.3v-2.2M286.24,624.85v2.2M286.24,700.3v-2.2M298.82,624.85v2.2M298.82,700.3v-2.2M323.98,624.85v2.2M323.98,700.3v-2.2M336.56,624.85v2.2M336.56,700.3v-2.2M349.14,624.85v2.2M349.14,700.3v-2.2M361.72,624.85v2.2M361.72,700.3v-2.2M248.5,693.68h2M374.3,693.68h-2M248.5,678.12h2M374.3,678.12h-2M248.5,662.58h2M374.3,662.58h-2M248.5,647.03h2M374.3,647.03h-2M248.5,631.48h2M374.3,631.48h-2" stroke="#333" stroke-width="0.9" fill="none"/>
<path d="M248.4,663.27 L249,663.4 L249.6,664.13 L250.2,665.12 L250.8,664.92 L251.4,665.01 L252,665.33 L252.6,666.05 L253.2,665.27 L253.8,665.76 L254.4,665.68 L255,664.76 L255.6,664.96 L256.2,664.89 L256.8,664.83 L257.4,665.68 L258,664.63 L258.6,664.15 L259.2,665.36 L259.8,664.98 L260.4,664.54 L261,664.58 L261.6,664.65 L262.2,665.52 L262.8,664.59 L263.4,664.13 L264,664.37 L264.6,664.22 L265.2,664.61 L265.8,664.42 L266.4,663.48 L267,662.81 L267.6,663.43 L268.2,663.86 L268.8,662.6 L269.4,663.21 L270,663.63 L270.6,663.45 L271.2,662.73 L271.8,663.35 L272.4,663.47 L273,662.7 L273.6,663.11 L274.2,662.65 L274.8,662.32 L275.4,662.76 L276,663.03 L276.6,663.36 L277.2,663.98 L277.8,664.61 L278.4,665.14 L279,665.44 L279.6,665.64 L280.2,665.41 L280.8,664.53 L281.4,663.97 L282,664.39 L282.6,664.36 L283.2,664.48 L283.8,663.6 L284.4,663.41 L285,664.41 L285.6,664.5 L286.2,664.92 L286.8,664.41 L287.4,664.88 L288,665.9 L288.6,665.25 L289.2,664.91 L289.8,662.9 L290.4,661.89 L291,661.48 L291.6,660.4 L292.2,660.57 L292.8,660.9 L293.4,660.89 L294,661.35 L294.6,663.19 L295.2,662.61 L295.8,662.51 L296.4,662.77 L297,663.53 L297.6,664.11 L298.2,663.85 L298.8,663.87 L299.4,664.37 L300,663.83 L300.6,663.75 L301.2,664.08 L301.8,664.23 L302.4,663.39 L303,663.2 L303.6,663.18 L304.2,664.05 L304.8,664.31 L305.4,664.82 L306,664.69 L306.6,663.67 L307.2,663.85 L307.8,663.98 L308.4,662.82 L309,661.69 L309.6,661.69 L310.2,661.6 L310.8,661.78 L311.4,662 L312,662.54 L312.6,664.06 L313.2,663.4 L313.8,663.9 L314.4,663.42 L315,663.18 L315.6,663.99 L316.2,663.45 L316.8,663.06 L317.4,663.22 L318,663.42 L318.6,662.99 L319.2,663.08 L319.8,662.15 L320.4,661.77 L321,661.73 L321.6,661.19 L322.2,661.32 L322.8,660.92 L323.4,660.16 L324,659.75 L324.6,660.47 L325.2,660.57 L325.8,660.84 L326.4,660.63 L327,660.52 L327.6,659.98 L328.2,660.96 L328.8,660.31 L329.4,660.63 L330,660.37 L330.6,660.29 L331.2,659.81 L331.8,659.43 L332.4,659.34 L333,658.74 L333.6,657.85 L334.2,658.18 L334.8,657.81 L335.4,657.28 L336,655.4 L336.6,655.27 L337.2,655.52 L337.8,654.41 L338.4,653.59 L339,653.88 L339.6,653.08 L340.2,652.94 L340.8,654.16 L341.4,654.46 L342,654.54 L342.6,655 L343.2,656.05 L343.8,657.65 L344.4,658.26 L345,659.35 L345.6,658.88 L346.2,659.45 L346.8,660.73 L347.4,661.48 L348,662.2 L348.6,663.4 L349.2,662.93 L349.8,662.7 L350.4,662.58 L351,663.37 L351.6,663.49 L352.2,663.7 L352.8,662.54 L353.4,661.6 L354,661.33 L354.6,661.46 L355.2,660.69 L355.8,661.09 L356.4,660.37 L357,659.46 L357.6,659.34 L358.2,658.18 L358.8,658.15 L359.4,658.99 L360,659.75 L360.6,660.37 L361.2,660.33 L361.8,660.88 L362.4,660.49 L363,660.63 L363.6,660.93 L364.2,661.49 L364.8,660.59 L365.4,659.41 L366,659.21 L366.6,658.88 L367.2,659.3 L367.8,660.3 L368.4,660.8 L369,660.64 L369.6,660.74 L370.2,661.39 L370.8,660.75 L371.4,661.22 L372,660.4 L372.6,662.01 L373.2,662.79 L373.8,663.1 L374.4,664.55" fill="none" stroke="#c8c8f4" stroke-width="3.6" stroke-linejoin="round" stroke-linecap="round"/>
<path d="M248.4,663.27 L249,663.4 L249.6,664.13 L250.2,665.12 L250.8,664.92 L251.4,665.01 L252,665.33 L252.6,666.05 L253.2,665.27 L253.8,665.76 L254.4,665.68 L255,664.76 L255.6,664.96 L256.2,664.89 L256.8,664.83 L257.4,665.68 L258,664.63 L258.6,664.15 L259.2,665.36 L259.8,664.98 L260.4,664.54 L261,664.58 L261.6,664.65 L262.2,665.52 L262.8,664.59 L263.4,664.13 L264,664.37 L264.6,664.22 L265.2,664.61 L265.8,664.42 L266.4,663.48 L267,662.81 L267.6,663.43 L268.2,663.86 L268.8,662.6 L269.4,663.21 L270,663.63 L270.6,663.45 L271.2,662.73 L271.8,663.35 L272.4,663.47 L273,662.7 L273.6,663.11 L274.2,662.65 L274.8,662.32 L275.4,662.76 L276,663.03 L276.6,663.36 L277.2,663.98 L277.8,664.61 L278.4,665.14 L279,665.44 L279.6,665.64 L280.2,665.41 L280.8,664.53 L281.4,663.97 L282,664.39 L282.6,664.36 L283.2,664.48 L283.8,663.6 L284.4,663.41 L285,664.41 L285.6,664.5 L286.2,664.92 L286.8,664.41 L287.4,664.88 L288,665.9 L288.6,665.25 L289.2,664.91 L289.8,662.9 L290.4,661.89 L291,661.48 L291.6,660.4 L292.2,660.57 L292.8,660.9 L293.4,660.89 L294,661.35 L294.6,663.19 L295.2,662.61 L295.8,662.51 L296.4,662.77 L297,663.53 L297.6,664.11 L298.2,663.85 L298.8,663.87 L299.4,664.37 L300,663.83 L300.6,663.75 L301.2,664.08 L301.8,664.23 L302.4,663.39 L303,663.2 L303.6,663.18 L304.2,664.05 L304.8,664.31 L305.4,664.82 L306,664.69 L306.6,663.67 L307.2,663.85 L307.8,663.98 L308.4,662.82 L309,661.69 L309.6,661.69 L310.2,661.6 L310.8,661.78 L311.4,662 L312,662.54 L312.6,664.06 L313.2,663.4 L313.8,663.9 L314.4,663.42 L315,663.18 L315.6,663.99 L316.2,663.45 L316.8,663.06 L317.4,663.22 L318,663.42 L318.6,662.99 L319.2,663.08 L319.8,662.15 L320.4,661.77 L321,661.73 L321.6,661.19 L322.2,661.32 L322.8,660.92 L323.4,660.16 L324,659.75 L324.6,660.47 L325.2,660.57 L325.8,660.84 L326.4,660.63 L327,660.52 L327.6,659.98 L328.2,660.96 L328.8,660.31 L329.4,660.63 L330,660.37 L330.6,660.29 L331.2,659.81 L331.8,659.43 L332.4,659.34 L333,658.74 L333.6,657.85 L334.2,658.18 L334.8,657.81 L335.4,657.28 L336,655.4 L336.6,655.27 L337.2,655.52 L337.8,654.41 L338.4,653.59 L339,653.88 L339.6,653.08 L340.2,652.94 L340.8,654.16 L341.4,654.46 L342,654.54 L342.6,655 L343.2,656.05 L343.8,657.65 L344.4,658.26 L345,659.35 L345.6,658.88 L346.2,659.45 L346.8,660.73 L347.4,661.48 L348,662.2 L348.6,663.4 L349.2,662.93 L349.8,662.7 L350.4,662.58 L351,663.37 L351.6,663.49 L352.2,663.7 L352.8,662.54 L353.4,661.6 L354,661.33 L354.6,661.46 L355.2,660.69 L355.8,661.09 L356.4,660.37 L357,659.46 L357.6,659.34 L358.2,658.18 L358.8,658.15 L359.4,658.99 L360,659.75 L360.6,660.37 L361.2,660.33 L361.8,660.88 L362.4,660.49 L363,660.63 L363.6,660.93 L364.2,661.49 L364.8,660.59 L365.4,659.41 L366,659.21 L366.6,658.88 L367.2,659.3 L367.8,660.3 L368.4,660.8 L369,660.64 L369.6,660.74 L370.2,661.39 L370.8,660.75 L371.4,661.22 L372,660.4 L372.6,662.01 L373.2,662.79 L373.8,663.1 L374.4,664.55" fill="none" stroke="#141450" stroke-width="1.25" stroke-linejoin="round"/>
<line x1="311.4" y1="624.85" x2="311.4" y2="700.3" stroke="#505050" stroke-width="1.2"/>
<rect x="248.5" y="624.85" width="125.8" height="75.45" fill="none" stroke="#2b2b2b" stroke-width="1.1"/>
<rect x="311.5" y="702.6" width="61.6" height="8.1" fill="#FF0000"/>
<path d="M401.81,624.85v2.2M401.81,700.3v-2.2M414.42,624.85v2.2M414.42,700.3v-2.2M427.03,624.85v2.2M427.03,700.3v-2.2M439.64,624.85v2.2M439.64,700.3v-2.2M464.86,624.85v2.2M464.86,700.3v-2.2M477.47,624.85v2.2M477.47,700.3v-2.2M490.08,624.85v2.2M490.08,700.3v-2.2M502.69,624.85v2.2M502.69,700.3v-2.2M389.2,693.68h2M515.3,693.68h-2M389.2,678.12h2M515.3,678.12h-2M389.2,662.58h2M515.3,662.58h-2M389.2,647.03h2M515.3,647.03h-2M389.2,631.48h2M515.3,631.48h-2" stroke="#333" stroke-width="0.9" fill="none"/>
<path d="M389.4,665.37 L390,665.11 L390.6,664.89 L391.2,665.42 L391.8,664.72 L392.4,664.61 L393,663.53 L393.6,663.69 L394.2,664.09 L394.8,663.55 L395.4,663.79 L396,663.58 L396.6,662.56 L397.2,661.51 L397.8,662.18 L398.4,661.58 L399,661.38 L399.6,662.58 L400.2,663.37 L400.8,663.84 L401.4,664.37 L402,663.58 L402.6,663.23 L403.2,663.22 L403.8,664.58 L404.4,663.88 L405,663.84 L405.6,663.74 L406.2,663.84 L406.8,663.93 L407.4,664.23 L408,663.69 L408.6,663.35 L409.2,663.76 L409.8,662.42 L410.4,662.66 L411,662.48 L411.6,662.18 L412.2,662 L412.8,662.13 L413.4,661.79 L414,661.01 L414.6,660.77 L415.2,660.43 L415.8,660.42 L416.4,661.18 L417,660.5 L417.6,659.64 L418.2,659.88 L418.8,660.41 L419.4,660.24 L420,660.91 L420.6,660.6 L421.2,660.86 L421.8,662.26 L422.4,662.2 L423,662.87 L423.6,663.45 L424.2,663.37 L424.8,662.88 L425.4,662.49 L426,663.6 L426.6,663.48 L427.2,663.78 L427.8,663.06 L428.4,663.32 L429,663.11 L429.6,662.55 L430.2,662.28 L430.8,662.53 L431.4,662.55 L432,663.18 L432.6,664.29 L433.2,664.18 L433.8,665.31 L434.4,664.97 L435,664.61 L435.6,664.44 L436.2,663.72 L436.8,662.36 L437.4,661.79 L438,661.07 L438.6,660.86 L439.2,662.05 L439.8,661.8 L440.4,662.13 L441,661.82 L441.6,660.89 L442.2,661.44 L442.8,661.51 L443.4,660.88 L444,660.18 L444.6,660.36 L445.2,660.28 L445.8,660.63 L446.4,660.4 L447,661.33 L447.6,662.1 L448.2,661.27 L448.8,661.99 L449.4,662.15 L450,662.26 L450.6,663.13 L451.2,662.8 L451.8,663.45 L452.4,662.41 L453,663.32 L453.6,662.33 L454.2,661.59 L454.8,662.53 L455.4,662.53 L456,662.41 L456.6,662.75 L457.2,662.51 L457.8,662.3 L458.4,662.78 L459,664.12 L459.6,664.78 L460.2,663.97 L460.8,664.18 L461.4,664.51 L462,665.57 L462.6,664.83 L463.2,666.01 L463.8,665.68 L464.4,666.07 L465,665.73 L465.6,665.72 L466.2,667.07 L466.8,667.07 L467.4,667.77 L468,667.89 L468.6,667.81 L469.2,666.82 L469.8,667.29 L470.4,668.09 L471,667.66 L471.6,666.34 L472.2,665.46 L472.8,665.77 L473.4,665.39 L474,663.93 L474.6,662.69 L475.2,661.71 L475.8,660.34 L476.4,659.56 L477,660.57 L477.6,660.38 L478.2,659.93 L478.8,659.26 L479.4,659.76 L480,660.29 L480.6,659.62 L481.2,659.21 L481.8,659.87 L482.4,660.22 L483,659.35 L483.6,659.01 L484.2,659 L484.8,658.74 L485.4,657.84 L486,657.28 L486.6,656.61 L487.2,656.37 L487.8,656.38 L488.4,657.04 L489,657.22 L489.6,658.42 L490.2,658.21 L490.8,659.2 L491.4,659.38 L492,658.77 L492.6,658.57 L493.2,659.3 L493.8,659.58 L494.4,659.89 L495,659.44 L495.6,659.7 L496.2,659.96 L496.8,659.41 L497.4,658.79 L498,659.51 L498.6,658.97 L499.2,659.95 L499.8,659.96 L500.4,659.07 L501,659.53 L501.6,659.32 L502.2,660.33 L502.8,660.6 L503.4,660.73 L504,662.58 L504.6,663.34 L505.2,663.26 L505.8,662.58 L506.4,661.07 L507,661.4 L507.6,660.15 L508.2,659.97 L508.8,659.84 L509.4,659.64 L510,658.76 L510.6,659.64 L511.2,659.25 L511.8,658.9 L512.4,659.57 L513,659.94 L513.6,660.01 L514.2,660.45 L514.8,659.89 L515.4,659.4" fill="none" stroke="#c8c8f4" stroke-width="3.6" stroke-linejoin="round" stroke-linecap="round"/>
<path d="M389.4,665.37 L390,665.11 L390.6,664.89 L391.2,665.42 L391.8,664.72 L392.4,664.61 L393,663.53 L393.6,663.69 L394.2,664.09 L394.8,663.55 L395.4,663.79 L396,663.58 L396.6,662.56 L397.2,661.51 L397.8,662.18 L398.4,661.58 L399,661.38 L399.6,662.58 L400.2,663.37 L400.8,663.84 L401.4,664.37 L402,663.58 L402.6,663.23 L403.2,663.22 L403.8,664.58 L404.4,663.88 L405,663.84 L405.6,663.74 L406.2,663.84 L406.8,663.93 L407.4,664.23 L408,663.69 L408.6,663.35 L409.2,663.76 L409.8,662.42 L410.4,662.66 L411,662.48 L411.6,662.18 L412.2,662 L412.8,662.13 L413.4,661.79 L414,661.01 L414.6,660.77 L415.2,660.43 L415.8,660.42 L416.4,661.18 L417,660.5 L417.6,659.64 L418.2,659.88 L418.8,660.41 L419.4,660.24 L420,660.91 L420.6,660.6 L421.2,660.86 L421.8,662.26 L422.4,662.2 L423,662.87 L423.6,663.45 L424.2,663.37 L424.8,662.88 L425.4,662.49 L426,663.6 L426.6,663.48 L427.2,663.78 L427.8,663.06 L428.4,663.32 L429,663.11 L429.6,662.55 L430.2,662.28 L430.8,662.53 L431.4,662.55 L432,663.18 L432.6,664.29 L433.2,664.18 L433.8,665.31 L434.4,664.97 L435,664.61 L435.6,664.44 L436.2,663.72 L436.8,662.36 L437.4,661.79 L438,661.07 L438.6,660.86 L439.2,662.05 L439.8,661.8 L440.4,662.13 L441,661.82 L441.6,660.89 L442.2,661.44 L442.8,661.51 L443.4,660.88 L444,660.18 L444.6,660.36 L445.2,660.28 L445.8,660.63 L446.4,660.4 L447,661.33 L447.6,662.1 L448.2,661.27 L448.8,661.99 L449.4,662.15 L450,662.26 L450.6,663.13 L451.2,662.8 L451.8,663.45 L452.4,662.41 L453,663.32 L453.6,662.33 L454.2,661.59 L454.8,662.53 L455.4,662.53 L456,662.41 L456.6,662.75 L457.2,662.51 L457.8,662.3 L458.4,662.78 L459,664.12 L459.6,664.78 L460.2,663.97 L460.8,664.18 L461.4,664.51 L462,665.57 L462.6,664.83 L463.2,666.01 L463.8,665.68 L464.4,666.07 L465,665.73 L465.6,665.72 L466.2,667.07 L466.8,667.07 L467.4,667.77 L468,667.89 L468.6,667.81 L469.2,666.82 L469.8,667.29 L470.4,668.09 L471,667.66 L471.6,666.34 L472.2,665.46 L472.8,665.77 L473.4,665.39 L474,663.93 L474.6,662.69 L475.2,661.71 L475.8,660.34 L476.4,659.56 L477,660.57 L477.6,660.38 L478.2,659.93 L478.8,659.26 L479.4,659.76 L480,660.29 L480.6,659.62 L481.2,659.21 L481.8,659.87 L482.4,660.22 L483,659.35 L483.6,659.01 L484.2,659 L484.8,658.74 L485.4,657.84 L486,657.28 L486.6,656.61 L487.2,656.37 L487.8,656.38 L488.4,657.04 L489,657.22 L489.6,658.42 L490.2,658.21 L490.8,659.2 L491.4,659.38 L492,658.77 L492.6,658.57 L493.2,659.3 L493.8,659.58 L494.4,659.89 L495,659.44 L495.6,659.7 L496.2,659.96 L496.8,659.41 L497.4,658.79 L498,659.51 L498.6,658.97 L499.2,659.95 L499.8,659.96 L500.4,659.07 L501,659.53 L501.6,659.32 L502.2,660.33 L502.8,660.6 L503.4,660.73 L504,662.58 L504.6,663.34 L505.2,663.26 L505.8,662.58 L506.4,661.07 L507,661.4 L507.6,660.15 L508.2,659.97 L508.8,659.84 L509.4,659.64 L510,658.76 L510.6,659.64 L511.2,659.25 L511.8,658.9 L512.4,659.57 L513,659.94 L513.6,660.01 L514.2,660.45 L514.8,659.89 L515.4,659.4" fill="none" stroke="#141450" stroke-width="1.25" stroke-linejoin="round"/>
<line x1="452.25" y1="624.85" x2="452.25" y2="700.3" stroke="#505050" stroke-width="1.2"/>
<rect x="389.2" y="624.85" width="126.1" height="75.45" fill="none" stroke="#2b2b2b" stroke-width="1.1"/>
<rect x="452.55" y="703.4" width="61.15" height="8.1" fill="#FF0000"/>
<path d="M542.23,624.85v2.2M542.23,700.3v-2.2M554.86,624.85v2.2M554.86,700.3v-2.2M567.49,624.85v2.2M567.49,700.3v-2.2M580.12,624.85v2.2M580.12,700.3v-2.2M605.38,624.85v2.2M605.38,700.3v-2.2M618.01,624.85v2.2M618.01,700.3v-2.2M630.64,624.85v2.2M630.64,700.3v-2.2M643.27,624.85v2.2M643.27,700.3v-2.2M529.6,693.68h2M655.9,693.68h-2M529.6,678.12h2M655.9,678.12h-2M529.6,662.58h2M655.9,662.58h-2M529.6,647.03h2M655.9,647.03h-2M529.6,631.48h2M655.9,631.48h-2" stroke="#333" stroke-width="0.9" fill="none"/>
<path d="M529.8,665.11 L530.4,665.21 L531,665.49 L531.6,664.74 L532.2,665 L532.8,665.41 L533.4,665.55 L534,664.48 L534.6,664.78 L535.2,664.84 L535.8,664.72 L536.4,665.4 L537,665.01 L537.6,664.79 L538.2,665.49 L538.8,665.31 L539.4,664.77 L540,664.62 L540.6,664.86 L541.2,664.28 L541.8,664.88 L542.4,665.25 L543,664.89 L543.6,665.35 L544.2,665.61 L544.8,665.1 L545.4,665.09 L546,664.21 L546.6,663.8 L547.2,665.02 L547.8,664.38 L548.4,664 L549,664.85 L549.6,664.87 L550.2,663.89 L550.8,663.8 L551.4,663.6 L552,663.54 L552.6,663.1 L553.2,663.7 L553.8,663.52 L554.4,663.52 L555,663.13 L555.6,662.8 L556.2,662.48 L556.8,663.55 L557.4,663.66 L558,663.36 L558.6,662.56 L559.2,662.36 L559.8,662.45 L560.4,662.98 L561,663.02 L561.6,663.61 L562.2,663.96 L562.8,664.31 L563.4,665.34 L564,665.58 L564.6,665.82 L565.2,665.71 L565.8,665.68 L566.4,665.8 L567,664.86 L567.6,663.93 L568.2,664.02 L568.8,663.78 L569.4,664.2 L570,663.13 L570.6,663.65 L571.2,662.28 L571.8,662.36 L572.4,662.07 L573,661.68 L573.6,662.67 L574.2,662.97 L574.8,662.53 L575.4,663.13 L576,663.73 L576.6,663.22 L577.2,663.12 L577.8,663.71 L578.4,663.98 L579,663.55 L579.6,663.21 L580.2,663.12 L580.8,662.66 L581.4,663.37 L582,663.65 L582.6,662.9 L583.2,661.81 L583.8,661.88 L584.4,662.43 L585,661.85 L585.6,661.21 L586.2,660.95 L586.8,661.46 L587.4,661.33 L588,660.63 L588.6,660.79 L589.2,661 L589.8,661.3 L590.4,661.08 L591,660.28 L591.6,660.44 L592.2,660.57 L592.8,660.47 L593.4,660.3 L594,660.04 L594.6,659.89 L595.2,660.4 L595.8,660.29 L596.4,660.43 L597,659.76 L597.6,659.75 L598.2,660.53 L598.8,661.8 L599.4,662.64 L600,662.58 L600.6,662.09 L601.2,662.71 L601.8,661.26 L602.4,661.77 L603,661.57 L603.6,661.62 L604.2,662.61 L604.8,662.88 L605.4,662.34 L606,663.87 L606.6,663.85 L607.2,664.72 L607.8,665.13 L608.4,664.63 L609,664.69 L609.6,665.01 L610.2,666.49 L610.8,666.73 L611.4,664.43 L612,661.93 L612.6,660.34 L613.2,660.1 L613.8,659.38 L614.4,658.43 L615,657.41 L615.6,656.16 L616.2,655.87 L616.8,655.19 L617.4,655.47 L618,657.35 L618.6,657.99 L619.2,657.99 L619.8,658.25 L620.4,659.36 L621,660.43 L621.6,661.5 L622.2,661.95 L622.8,661.94 L623.4,662.12 L624,662.69 L624.6,663.01 L625.2,663.04 L625.8,663.13 L626.4,662.38 L627,662.79 L627.6,662.31 L628.2,661.91 L628.8,661.77 L629.4,660.76 L630,659.75 L630.6,659.25 L631.2,659.35 L631.8,659.15 L632.4,658.55 L633,658.03 L633.6,658.27 L634.2,656.82 L634.8,656.79 L635.4,656.63 L636,656.28 L636.6,656.65 L637.2,655.87 L637.8,655.23 L638.4,655.29 L639,656.73 L639.6,656.47 L640.2,656.18 L640.8,657.46 L641.4,658.01 L642,659.86 L642.6,660.83 L643.2,662.96 L643.8,663.21 L644.4,663.8 L645,665.24 L645.6,663.84 L646.2,662.34 L646.8,660.31 L647.4,660.47 L648,659.27 L648.6,659.49 L649.2,658.76 L649.8,658.43 L650.4,659.45 L651,659.31 L651.6,660.02 L652.2,659.63 L652.8,660.25 L653.4,660.82 L654,660.79 L654.6,660.4 L655.2,661.06" fill="none" stroke="#c8c8f4" stroke-width="3.6" stroke-linejoin="round" stroke-linecap="round"/>
<path d="M529.8,665.11 L530.4,665.21 L531,665.49 L531.6,664.74 L532.2,665 L532.8,665.41 L533.4,665.55 L534,664.48 L534.6,664.78 L535.2,664.84 L535.8,664.72 L536.4,665.4 L537,665.01 L537.6,664.79 L538.2,665.49 L538.8,665.31 L539.4,664.77 L540,664.62 L540.6,664.86 L541.2,664.28 L541.8,664.88 L542.4,665.25 L543,664.89 L543.6,665.35 L544.2,665.61 L544.8,665.1 L545.4,665.09 L546,664.21 L546.6,663.8 L547.2,665.02 L547.8,664.38 L548.4,664 L549,664.85 L549.6,664.87 L550.2,663.89 L550.8,663.8 L551.4,663.6 L552,663.54 L552.6,663.1 L553.2,663.7 L553.8,663.52 L554.4,663.52 L555,663.13 L555.6,662.8 L556.2,662.48 L556.8,663.55 L557.4,663.66 L558,663.36 L558.6,662.56 L559.2,662.36 L559.8,662.45 L560.4,662.98 L561,663.02 L561.6,663.61 L562.2,663.96 L562.8,664.31 L563.4,665.34 L564,665.58 L564.6,665.82 L565.2,665.71 L565.8,665.68 L566.4,665.8 L567,664.86 L567.6,663.93 L568.2,664.02 L568.8,663.78 L569.4,664.2 L570,663.13 L570.6,663.65 L571.2,662.28 L571.8,662.36 L572.4,662.07 L573,661.68 L573.6,662.67 L574.2,662.97 L574.8,662.53 L575.4,663.13 L576,663.73 L576.6,663.22 L577.2,663.12 L577.8,663.71 L578.4,663.98 L579,663.55 L579.6,663.21 L580.2,663.12 L580.8,662.66 L581.4,663.37 L582,663.65 L582.6,662.9 L583.2,661.81 L583.8,661.88 L584.4,662.43 L585,661.85 L585.6,661.21 L586.2,660.95 L586.8,661.46 L587.4,661.33 L588,660.63 L588.6,660.79 L589.2,661 L589.8,661.3 L590.4,661.08 L591,660.28 L591.6,660.44 L592.2,660.57 L592.8,660.47 L593.4,660.3 L594,660.04 L594.6,659.89 L595.2,660.4 L595.8,660.29 L596.4,660.43 L597,659.76 L597.6,659.75 L598.2,660.53 L598.8,661.8 L599.4,662.64 L600,662.58 L600.6,662.09 L601.2,662.71 L601.8,661.26 L602.4,661.77 L603,661.57 L603.6,661.62 L604.2,662.61 L604.8,662.88 L605.4,662.34 L606,663.87 L606.6,663.85 L607.2,664.72 L607.8,665.13 L608.4,664.63 L609,664.69 L609.6,665.01 L610.2,666.49 L610.8,666.73 L611.4,664.43 L612,661.93 L612.6,660.34 L613.2,660.1 L613.8,659.38 L614.4,658.43 L615,657.41 L615.6,656.16 L616.2,655.87 L616.8,655.19 L617.4,655.47 L618,657.35 L618.6,657.99 L619.2,657.99 L619.8,658.25 L620.4,659.36 L621,660.43 L621.6,661.5 L622.2,661.95 L622.8,661.94 L623.4,662.12 L624,662.69 L624.6,663.01 L625.2,663.04 L625.8,663.13 L626.4,662.38 L627,662.79 L627.6,662.31 L628.2,661.91 L628.8,661.77 L629.4,660.76 L630,659.75 L630.6,659.25 L631.2,659.35 L631.8,659.15 L632.4,658.55 L633,658.03 L633.6,658.27 L634.2,656.82 L634.8,656.79 L635.4,656.63 L636,656.28 L636.6,656.65 L637.2,655.87 L637.8,655.23 L638.4,655.29 L639,656.73 L639.6,656.47 L640.2,656.18 L640.8,657.46 L641.4,658.01 L642,659.86 L642.6,660.83 L643.2,662.96 L643.8,663.21 L644.4,663.8 L645,665.24 L645.6,663.84 L646.2,662.34 L646.8,660.31 L647.4,660.47 L648,659.27 L648.6,659.49 L649.2,658.76 L649.8,658.43 L650.4,659.45 L651,659.31 L651.6,660.02 L652.2,659.63 L652.8,660.25 L653.4,660.82 L654,660.79 L654.6,660.4 L655.2,661.06" fill="none" stroke="#141450" stroke-width="1.25" stroke-linejoin="round"/>
<line x1="592.75" y1="624.85" x2="592.75" y2="700.3" stroke="#505050" stroke-width="1.2"/>
<rect x="529.6" y="624.85" width="126.3" height="75.45" fill="none" stroke="#2b2b2b" stroke-width="1.1"/>
<rect x="593.75" y="704.2" width="62.35" height="8.1" fill="#FF0000"/>
<rect x="32.8" y="650.2" width="51.8" height="24.6" fill="#FF0000"/>
<text x="30.2" y="643.7" style="font-size:25px">No.14</text>
<path d="M120.15,718.4v2.2M120.15,793.9v-2.2M132.8,718.4v2.2M132.8,793.9v-2.2M145.45,718.4v2.2M145.45,793.9v-2.2M158.1,718.4v2.2M158.1,793.9v-2.2M183.4,718.4v2.2M183.4,793.9v-2.2M196.05,718.4v2.2M196.05,793.9v-2.2M208.7,718.4v2.2M208.7,793.9v-2.2M221.35,718.4v2.2M221.35,793.9v-2.2M107.5,787.25h2M234,787.25h-2M107.5,771.7h2M234,771.7h-2M107.5,756.15h2M234,756.15h-2M107.5,740.6h2M234,740.6h-2M107.5,725.05h2M234,725.05h-2" stroke="#333" stroke-width="0.9" fill="none"/>
<path d="M107.4,756.94 L108,757.84 L108.6,757.2 L109.2,757.73 L109.8,759.31 L110.4,759.78 L111,759.43 L111.6,759.85 L112.2,760.8 L112.8,760.26 L113.4,759.28 L114,760.05 L114.6,759.01 L115.2,759.27 L115.8,759.24 L116.4,758.89 L117,759.3 L117.6,758.01 L118.2,757.94 L118.8,756.95 L119.4,757.71 L120,756.64 L120.6,756.63 L121.2,756.82 L121.8,756.64 L122.4,755.04 L123,755.31 L123.6,755.05 L124.2,753.94 L124.8,754.04 L125.4,753.41 L126,753.26 L126.6,753.4 L127.2,753.85 L127.8,754.95 L128.4,754.9 L129,755.75 L129.6,756.09 L130.2,755.43 L130.8,755.82 L131.4,755.72 L132,756.76 L132.6,757.43 L133.2,757.84 L133.8,757.38 L134.4,757.95 L135,757.33 L135.6,758.16 L136.2,757.82 L136.8,757.12 L137.4,758.15 L138,758.45 L138.6,757.35 L139.2,757.51 L139.8,756.25 L140.4,755.91 L141,755.72 L141.6,756.22 L142.2,755.48 L142.8,755.35 L143.4,755.65 L144,756.26 L144.6,757.2 L145.2,757.4 L145.8,756.41 L146.4,756.88 L147,756.08 L147.6,755.4 L148.2,755.72 L148.8,756.36 L149.4,756.49 L150,755.78 L150.6,756.22 L151.2,755.58 L151.8,755.44 L152.4,756.74 L153,756.9 L153.6,756.33 L154.2,756.48 L154.8,757.25 L155.4,756.47 L156,756.45 L156.6,757.44 L157.2,757.01 L157.8,757.22 L158.4,757.4 L159,757.61 L159.6,757.5 L160.2,757.42 L160.8,758.26 L161.4,758.3 L162,758.25 L162.6,756.49 L163.2,755.66 L163.8,756.06 L164.4,755.13 L165,755.38 L165.6,753.95 L166.2,752.7 L166.8,752.71 L167.4,753.11 L168,754 L168.6,754.01 L169.2,755.26 L169.8,755.13 L170.4,754.42 L171,754.37 L171.6,754.47 L172.2,754.85 L172.8,753.56 L173.4,754.5 L174,754.38 L174.6,753.57 L175.2,753.82 L175.8,754.49 L176.4,753.85 L177,754.35 L177.6,754.43 L178.2,754.44 L178.8,753.56 L179.4,753.2 L180,754.44 L180.6,753.65 L181.2,753.51 L181.8,754.54 L182.4,754.61 L183,756.21 L183.6,757.16 L184.2,757.28 L184.8,759.36 L185.4,761.5 L186,763.29 L186.6,761.6 L187.2,759.65 L187.8,758.35 L188.4,758.89 L189,758.39 L189.6,756.23 L190.2,755.41 L190.8,753.9 L191.4,753.96 L192,753.56 L192.6,753.5 L193.2,753.84 L193.8,753.82 L194.4,753.92 L195,753.82 L195.6,753.25 L196.2,752.64 L196.8,753.37 L197.4,753.12 L198,751.83 L198.6,751.28 L199.2,750.18 L199.8,750.64 L200.4,750.98 L201,749.5 L201.6,749.66 L202.2,749.91 L202.8,749.86 L203.4,749.75 L204,749.05 L204.6,749.71 L205.2,749.88 L205.8,750.53 L206.4,750.59 L207,750.5 L207.6,751.17 L208.2,750.92 L208.8,751.12 L209.4,752.17 L210,752.93 L210.6,752.42 L211.2,752.28 L211.8,753.05 L212.4,753.19 L213,754.9 L213.6,754.9 L214.2,754.77 L214.8,755.62 L215.4,756.08 L216,756.28 L216.6,756.82 L217.2,756.51 L217.8,756.77 L218.4,757.69 L219,757.26 L219.6,757.61 L220.2,757.39 L220.8,758.03 L221.4,757.86 L222,757.87 L222.6,757.39 L223.2,757.35 L223.8,756.55 L224.4,755.59 L225,755.14 L225.6,755.55 L226.2,756.66 L226.8,756.89 L227.4,756.83 L228,756.94 L228.6,757.48 L229.2,757.98 L229.8,758.51 L230.4,759.43 L231,759.44 L231.6,758.69 L232.2,759 L232.8,758.04 L233.4,757.82" fill="none" stroke="#c8c8f4" stroke-width="3.6" stroke-linejoin="round" stroke-linecap="round"/>
<path d="M107.4,756.94 L108,757.84 L108.6,757.2 L109.2,757.73 L109.8,759.31 L110.4,759.78 L111,759.43 L111.6,759.85 L112.2,760.8 L112.8,760.26 L113.4,759.28 L114,760.05 L114.6,759.01 L115.2,759.27 L115.8,759.24 L116.4,758.89 L117,759.3 L117.6,758.01 L118.2,757.94 L118.8,756.95 L119.4,757.71 L120,756.64 L120.6,756.63 L121.2,756.82 L121.8,756.64 L122.4,755.04 L123,755.31 L123.6,755.05 L124.2,753.94 L124.8,754.04 L125.4,753.41 L126,753.26 L126.6,753.4 L127.2,753.85 L127.8,754.95 L128.4,754.9 L129,755.75 L129.6,756.09 L130.2,755.43 L130.8,755.82 L131.4,755.72 L132,756.76 L132.6,757.43 L133.2,757.84 L133.8,757.38 L134.4,757.95 L135,757.33 L135.6,758.16 L136.2,757.82 L136.8,757.12 L137.4,758.15 L138,758.45 L138.6,757.35 L139.2,757.51 L139.8,756.25 L140.4,755.91 L141,755.72 L141.6,756.22 L142.2,755.48 L142.8,755.35 L143.4,755.65 L144,756.26 L144.6,757.2 L145.2,757.4 L145.8,756.41 L146.4,756.88 L147,756.08 L147.6,755.4 L148.2,755.72 L148.8,756.36 L149.4,756.49 L150,755.78 L150.6,756.22 L151.2,755.58 L151.8,755.44 L152.4,756.74 L153,756.9 L153.6,756.33 L154.2,756.48 L154.8,757.25 L155.4,756.47 L156,756.45 L156.6,757.44 L157.2,757.01 L157.8,757.22 L158.4,757.4 L159,757.61 L159.6,757.5 L160.2,757.42 L160.8,758.26 L161.4,758.3 L162,758.25 L162.6,756.49 L163.2,755.66 L163.8,756.06 L164.4,755.13 L165,755.38 L165.6,753.95 L166.2,752.7 L166.8,752.71 L167.4,753.11 L168,754 L168.6,754.01 L169.2,755.26 L169.8,755.13 L170.4,754.42 L171,754.37 L171.6,754.47 L172.2,754.85 L172.8,753.56 L173.4,754.5 L174,754.38 L174.6,753.57 L175.2,753.82 L175.8,754.49 L176.4,753.85 L177,754.35 L177.6,754.43 L178.2,754.44 L178.8,753.56 L179.4,753.2 L180,754.44 L180.6,753.65 L181.2,753.51 L181.8,754.54 L182.4,754.61 L183,756.21 L183.6,757.16 L184.2,757.28 L184.8,759.36 L185.4,761.5 L186,763.29 L186.6,761.6 L187.2,759.65 L187.8,758.35 L188.4,758.89 L189,758.39 L189.6,756.23 L190.2,755.41 L190.8,753.9 L191.4,753.96 L192,753.56 L192.6,753.5 L193.2,753.84 L193.8,753.82 L194.4,753.92 L195,753.82 L195.6,753.25 L196.2,752.64 L196.8,753.37 L197.4,753.12 L198,751.83 L198.6,751.28 L199.2,750.18 L199.8,750.64 L200.4,750.98 L201,749.5 L201.6,749.66 L202.2,749.91 L202.8,749.86 L203.4,749.75 L204,749.05 L204.6,749.71 L205.2,749.88 L205.8,750.53 L206.4,750.59 L207,750.5 L207.6,751.17 L208.2,750.92 L208.8,751.12 L209.4,752.17 L210,752.93 L210.6,752.42 L211.2,752.28 L211.8,753.05 L212.4,753.19 L213,754.9 L213.6,754.9 L214.2,754.77 L214.8,755.62 L215.4,756.08 L216,756.28 L216.6,756.82 L217.2,756.51 L217.8,756.77 L218.4,757.69 L219,757.26 L219.6,757.61 L220.2,757.39 L220.8,758.03 L221.4,757.86 L222,757.87 L222.6,757.39 L223.2,757.35 L223.8,756.55 L224.4,755.59 L225,755.14 L225.6,755.55 L226.2,756.66 L226.8,756.89 L227.4,756.83 L228,756.94 L228.6,757.48 L229.2,757.98 L229.8,758.51 L230.4,759.43 L231,759.44 L231.6,758.69 L232.2,759 L232.8,758.04 L233.4,757.82" fill="none" stroke="#141450" stroke-width="1.25" stroke-linejoin="round"/>
<line x1="170.75" y1="718.4" x2="170.75" y2="793.9" stroke="#505050" stroke-width="1.2"/>
<rect x="107.5" y="718.4" width="126.5" height="75.5" fill="none" stroke="#2b2b2b" stroke-width="1.1"/>
<rect x="170.75" y="795.5" width="62.25" height="8.3" fill="#BF0000"/>
<text x="103.1" y="729.75" text-anchor="end" class="tk">1</text>
<text x="105.7" y="744.65" text-anchor="end" class="tk">0.5</text>
<text x="103.5" y="760.85" text-anchor="end" class="tk">0</text>
<text x="105.3" y="776.45" text-anchor="end" class="tk">-0.5</text>
<text x="104.4" y="791.55" text-anchor="end" class="tk">-1</text>
<path d="M261.08,718.4v2.2M261.08,793.9v-2.2M273.66,718.4v2.2M273.66,793.9v-2.2M286.24,718.4v2.2M286.24,793.9v-2.2M298.82,718.4v2.2M298.82,793.9v-2.2M323.98,718.4v2.2M323.98,793.9v-2.2M336.56,718.4v2.2M336.56,793.9v-2.2M349.14,718.4v2.2M349.14,793.9v-2.2M361.72,718.4v2.2M361.72,793.9v-2.2M248.5,787.25h2M374.3,787.25h-2M248.5,771.7h2M374.3,771.7h-2M248.5,756.15h2M374.3,756.15h-2M248.5,740.6h2M374.3,740.6h-2M248.5,725.05h2M374.3,725.05h-2" stroke="#333" stroke-width="0.9" fill="none"/>
<path d="M248.4,756.82 L249,757.12 L249.6,757.79 L250.2,759.89 L250.8,760.79 L251.4,761.79 L252,762.21 L252.6,762.21 L253.2,763.07 L253.8,763.53 L254.4,764.38 L255,764.82 L255.6,765.47 L256.2,765 L256.8,763.79 L257.4,762.75 L258,762.59 L258.6,761.09 L259.2,760.81 L259.8,760.35 L260.4,759.31 L261,759.9 L261.6,758.78 L262.2,759.43 L262.8,759.43 L263.4,758.36 L264,758.67 L264.6,759.01 L265.2,758.4 L265.8,759.21 L266.4,758.88 L267,760.12 L267.6,760.34 L268.2,760.97 L268.8,760.17 L269.4,760.72 L270,761.84 L270.6,762.65 L271.2,762.65 L271.8,763.94 L272.4,764.11 L273,763.02 L273.6,762.08 L274.2,762.19 L274.8,761.54 L275.4,761.47 L276,761.06 L276.6,760.71 L277.2,759.86 L277.8,759.54 L278.4,759.7 L279,759.97 L279.6,759.43 L280.2,759.58 L280.8,759.23 L281.4,759.59 L282,759.31 L282.6,758.62 L283.2,758 L283.8,757.57 L284.4,757.29 L285,758.35 L285.6,758.68 L286.2,758.54 L286.8,757.33 L287.4,757.49 L288,756.48 L288.6,757.02 L289.2,756.67 L289.8,756.56 L290.4,756.53 L291,756.59 L291.6,757.64 L292.2,758.57 L292.8,758.16 L293.4,758.57 L294,759.31 L294.6,759.08 L295.2,758.25 L295.8,757.67 L296.4,757.97 L297,756.9 L297.6,756.79 L298.2,757.74 L298.8,757.64 L299.4,758.32 L300,757.33 L300.6,757.52 L301.2,756.46 L301.8,756.67 L302.4,756.52 L303,756.35 L303.6,755.39 L304.2,754.85 L304.8,754.34 L305.4,754.31 L306,754.97 L306.6,754.19 L307.2,754.02 L307.8,754.27 L308.4,753.56 L309,753.43 L309.6,753.12 L310.2,753.73 L310.8,753.41 L311.4,754.9 L312,755.14 L312.6,755.69 L313.2,755.88 L313.8,756.01 L314.4,756.82 L315,757.14 L315.6,757.32 L316.2,756.35 L316.8,756.94 L317.4,757.56 L318,757.14 L318.6,756.62 L319.2,756.44 L319.8,755.46 L320.4,755.76 L321,755.79 L321.6,754.63 L322.2,754.66 L322.8,753.97 L323.4,752.57 L324,752.21 L324.6,752.6 L325.2,752.6 L325.8,751.58 L326.4,750.85 L327,751.55 L327.6,751.35 L328.2,751.57 L328.8,751.61 L329.4,750.62 L330,750.61 L330.6,750.05 L331.2,750.5 L331.8,750.44 L332.4,749.63 L333,749.52 L333.6,749.37 L334.2,748.51 L334.8,747.9 L335.4,747.95 L336,747.27 L336.6,747.5 L337.2,747.97 L337.8,747.68 L338.4,746.21 L339,746.74 L339.6,747.14 L340.2,747.61 L340.8,747.11 L341.4,748.3 L342,748.01 L342.6,748.81 L343.2,748.47 L343.8,748.52 L344.4,748.33 L345,749.35 L345.6,749.15 L346.2,750.57 L346.8,751.06 L347.4,751.09 L348,752.07 L348.6,752.51 L349.2,752.43 L349.8,754.13 L350.4,754.3 L351,754.2 L351.6,755.22 L352.2,755.63 L352.8,755.4 L353.4,755.14 L354,755.67 L354.6,756.02 L355.2,756.29 L355.8,755.95 L356.4,755.82 L357,755.88 L357.6,754.98 L358.2,754.55 L358.8,754.8 L359.4,755.12 L360,754.98 L360.6,754.64 L361.2,753.59 L361.8,753.45 L362.4,752.48 L363,752.47 L363.6,751.86 L364.2,752.67 L364.8,753.09 L365.4,752.65 L366,752.57 L366.6,752.11 L367.2,752.7 L367.8,751.97 L368.4,752.27 L369,752.45 L369.6,753.36 L370.2,752.63 L370.8,752.25 L371.4,751.91 L372,752.8 L372.6,752.22 L373.2,752.79 L373.8,752.03 L374.4,752.5" fill="none" stroke="#c8c8f4" stroke-width="3.6" stroke-linejoin="round" stroke-linecap="round"/>
<path d="M248.4,756.82 L249,757.12 L249.6,757.79 L250.2,759.89 L250.8,760.79 L251.4,761.79 L252,762.21 L252.6,762.21 L253.2,763.07 L253.8,763.53 L254.4,764.38 L255,764.82 L255.6,765.47 L256.2,765 L256.8,763.79 L257.4,762.75 L258,762.59 L258.6,761.09 L259.2,760.81 L259.8,760.35 L260.4,759.31 L261,759.9 L261.6,758.78 L262.2,759.43 L262.8,759.43 L263.4,758.36 L264,758.67 L264.6,759.01 L265.2,758.4 L265.8,759.21 L266.4,758.88 L267,760.12 L267.6,760.34 L268.2,760.97 L268.8,760.17 L269.4,760.72 L270,761.84 L270.6,762.65 L271.2,762.65 L271.8,763.94 L272.4,764.11 L273,763.02 L273.6,762.08 L274.2,762.19 L274.8,761.54 L275.4,761.47 L276,761.06 L276.6,760.71 L277.2,759.86 L277.8,759.54 L278.4,759.7 L279,759.97 L279.6,759.43 L280.2,759.58 L280.8,759.23 L281.4,759.59 L282,759.31 L282.6,758.62 L283.2,758 L283.8,757.57 L284.4,757.29 L285,758.35 L285.6,758.68 L286.2,758.54 L286.8,757.33 L287.4,757.49 L288,756.48 L288.6,757.02 L289.2,756.67 L289.8,756.56 L290.4,756.53 L291,756.59 L291.6,757.64 L292.2,758.57 L292.8,758.16 L293.4,758.57 L294,759.31 L294.6,759.08 L295.2,758.25 L295.8,757.67 L296.4,757.97 L297,756.9 L297.6,756.79 L298.2,757.74 L298.8,757.64 L299.4,758.32 L300,757.33 L300.6,757.52 L301.2,756.46 L301.8,756.67 L302.4,756.52 L303,756.35 L303.6,755.39 L304.2,754.85 L304.8,754.34 L305.4,754.31 L306,754.97 L306.6,754.19 L307.2,754.02 L307.8,754.27 L308.4,753.56 L309,753.43 L309.6,753.12 L310.2,753.73 L310.8,753.41 L311.4,754.9 L312,755.14 L312.6,755.69 L313.2,755.88 L313.8,756.01 L314.4,756.82 L315,757.14 L315.6,757.32 L316.2,756.35 L316.8,756.94 L317.4,757.56 L318,757.14 L318.6,756.62 L319.2,756.44 L319.8,755.46 L320.4,755.76 L321,755.79 L321.6,754.63 L322.2,754.66 L322.8,753.97 L323.4,752.57 L324,752.21 L324.6,752.6 L325.2,752.6 L325.8,751.58 L326.4,750.85 L327,751.55 L327.6,751.35 L328.2,751.57 L328.8,751.61 L329.4,750.62 L330,750.61 L330.6,750.05 L331.2,750.5 L331.8,750.44 L332.4,749.63 L333,749.52 L333.6,749.37 L334.2,748.51 L334.8,747.9 L335.4,747.95 L336,747.27 L336.6,747.5 L337.2,747.97 L337.8,747.68 L338.4,746.21 L339,746.74 L339.6,747.14 L340.2,747.61 L340.8,747.11 L341.4,748.3 L342,748.01 L342.6,748.81 L343.2,748.47 L343.8,748.52 L344.4,748.33 L345,749.35 L345.6,749.15 L346.2,750.57 L346.8,751.06 L347.4,751.09 L348,752.07 L348.6,752.51 L349.2,752.43 L349.8,754.13 L350.4,754.3 L351,754.2 L351.6,755.22 L352.2,755.63 L352.8,755.4 L353.4,755.14 L354,755.67 L354.6,756.02 L355.2,756.29 L355.8,755.95 L356.4,755.82 L357,755.88 L357.6,754.98 L358.2,754.55 L358.8,754.8 L359.4,755.12 L360,754.98 L360.6,754.64 L361.2,753.59 L361.8,753.45 L362.4,752.48 L363,752.47 L363.6,751.86 L364.2,752.67 L364.8,753.09 L365.4,752.65 L366,752.57 L366.6,752.11 L367.2,752.7 L367.8,751.97 L368.4,752.27 L369,752.45 L369.6,753.36 L370.2,752.63 L370.8,752.25 L371.4,751.91 L372,752.8 L372.6,752.22 L373.2,752.79 L373.8,752.03 L374.4,752.5" fill="none" stroke="#141450" stroke-width="1.25" stroke-linejoin="round"/>
<line x1="311.4" y1="718.4" x2="311.4" y2="793.9" stroke="#505050" stroke-width="1.2"/>
<rect x="248.5" y="718.4" width="125.8" height="75.5" fill="none" stroke="#2b2b2b" stroke-width="1.1"/>
<rect x="311.5" y="795.2" width="61.6" height="8.3" fill="#BF0000"/>
<path d="M401.81,718.4v2.2M401.81,793.9v-2.2M414.42,718.4v2.2M414.42,793.9v-2.2M427.03,718.4v2.2M427.03,793.9v-2.2M439.64,718.4v2.2M439.64,793.9v-2.2M464.86,718.4v2.2M464.86,793.9v-2.2M477.47,718.4v2.2M477.47,793.9v-2.2M490.08,718.4v2.2M490.08,793.9v-2.2M502.69,718.4v2.2M502.69,793.9v-2.2M389.2,787.25h2M515.3,787.25h-2M389.2,771.7h2M515.3,771.7h-2M389.2,756.15h2M515.3,756.15h-2M389.2,740.6h2M515.3,740.6h-2M389.2,725.05h2M515.3,725.05h-2" stroke="#333" stroke-width="0.9" fill="none"/>
<path d="M389.4,757.21 L390,756.59 L390.6,757.02 L391.2,757.39 L391.8,758.56 L392.4,759.08 L393,759.7 L393.6,758.54 L394.2,758.53 L394.8,757.83 L395.4,757.79 L396,758.16 L396.6,757.22 L397.2,756.71 L397.8,756.71 L398.4,756.07 L399,754.95 L399.6,754.83 L400.2,755.07 L400.8,754.07 L401.4,754.95 L402,755.14 L402.6,754.71 L403.2,754.32 L403.8,755.42 L404.4,754.9 L405,754.36 L405.6,754.34 L406.2,755.64 L406.8,755.93 L407.4,756.55 L408,756.82 L408.6,756.74 L409.2,757.43 L409.8,756.9 L410.4,757.13 L411,757.8 L411.6,757.91 L412.2,758.49 L412.8,758.41 L413.4,758.69 L414,757.87 L414.6,757.7 L415.2,757.61 L415.8,757.13 L416.4,757.05 L417,756.68 L417.6,756.7 L418.2,757.14 L418.8,756.82 L419.4,756.67 L420,756.26 L420.6,756.08 L421.2,756.88 L421.8,756.58 L422.4,756.29 L423,755.42 L423.6,755.87 L424.2,755.14 L424.8,755.13 L425.4,755.94 L426,755.58 L426.6,755.2 L427.2,755.15 L427.8,755.27 L428.4,755.13 L429,754.22 L429.6,753.45 L430.2,753.4 L430.8,753.08 L431.4,752.64 L432,753.34 L432.6,753.27 L433.2,752.24 L433.8,752.28 L434.4,752.13 L435,753.29 L435.6,753.45 L436.2,753.58 L436.8,753.82 L437.4,754.45 L438,754.4 L438.6,755.11 L439.2,756.09 L439.8,755.96 L440.4,755.88 L441,757.22 L441.6,757.1 L442.2,756.35 L442.8,755.54 L443.4,754.87 L444,754.88 L444.6,754.64 L445.2,753.61 L445.8,752.47 L446.4,752.74 L447,754.1 L447.6,754.11 L448.2,754.82 L448.8,754.95 L449.4,753.83 L450,754.6 L450.6,754.88 L451.2,754.84 L451.8,754.67 L452.4,755.46 L453,755.26 L453.6,755.96 L454.2,756.48 L454.8,757.55 L455.4,757.69 L456,756.63 L456.6,756.43 L457.2,755.72 L457.8,756.49 L458.4,756.46 L459,755.1 L459.6,754.64 L460.2,754.08 L460.8,753.38 L461.4,755.12 L462,756.41 L462.6,757.95 L463.2,758.4 L463.8,758.34 L464.4,759.65 L465,760.53 L465.6,762.96 L466.2,764.26 L466.8,764.54 L467.4,762.8 L468,760.9 L468.6,760.8 L469.2,760.51 L469.8,758.14 L470.4,756.66 L471,754.35 L471.6,753.77 L472.2,753.57 L472.8,753.35 L473.4,754.32 L474,755.01 L474.6,755.19 L475.2,756.79 L475.8,757.25 L476.4,757.44 L477,757.68 L477.6,757.53 L478.2,756.25 L478.8,755.7 L479.4,756.16 L480,754.98 L480.6,753.35 L481.2,752.13 L481.8,750.64 L482.4,750.54 L483,751.01 L483.6,751.84 L484.2,751.84 L484.8,751.97 L485.4,751.78 L486,752.58 L486.6,752.31 L487.2,753.28 L487.8,753.6 L488.4,752.56 L489,752.47 L489.6,752.96 L490.2,752.34 L490.8,751.87 L491.4,752.78 L492,752.45 L492.6,752.11 L493.2,752.54 L493.8,753.13 L494.4,752.85 L495,753.01 L495.6,753.84 L496.2,754.14 L496.8,754.15 L497.4,754.45 L498,754.36 L498.6,754.7 L499.2,753.41 L499.8,753.37 L500.4,753.42 L501,754.5 L501.6,754.27 L502.2,754.41 L502.8,755.13 L503.4,755.54 L504,755.59 L504.6,755.25 L505.2,755.86 L505.8,755.07 L506.4,755.2 L507,754.67 L507.6,754.09 L508.2,755.6 L508.8,756.23 L509.4,756.98 L510,757.46 L510.6,757.7 L511.2,756.78 L511.8,756.79 L512.4,756.28 L513,756.27 L513.6,755.65 L514.2,755.81 L514.8,756.69 L515.4,755.87" fill="none" stroke="#c8c8f4" stroke-width="3.6" stroke-linejoin="round" stroke-linecap="round"/>
<path d="M389.4,757.21 L390,756.59 L390.6,757.02 L391.2,757.39 L391.8,758.56 L392.4,759.08 L393,759.7 L393.6,758.54 L394.2,758.53 L394.8,757.83 L395.4,757.79 L396,758.16 L396.6,757.22 L397.2,756.71 L397.8,756.71 L398.4,756.07 L399,754.95 L399.6,754.83 L400.2,755.07 L400.8,754.07 L401.4,754.95 L402,755.14 L402.6,754.71 L403.2,754.32 L403.8,755.42 L404.4,754.9 L405,754.36 L405.6,754.34 L406.2,755.64 L406.8,755.93 L407.4,756.55 L408,756.82 L408.6,756.74 L409.2,757.43 L409.8,756.9 L410.4,757.13 L411,757.8 L411.6,757.91 L412.2,758.49 L412.8,758.41 L413.4,758.69 L414,757.87 L414.6,757.7 L415.2,757.61 L415.8,757.13 L416.4,757.05 L417,756.68 L417.6,756.7 L418.2,757.14 L418.8,756.82 L419.4,756.67 L420,756.26 L420.6,756.08 L421.2,756.88 L421.8,756.58 L422.4,756.29 L423,755.42 L423.6,755.87 L424.2,755.14 L424.8,755.13 L425.4,755.94 L426,755.58 L426.6,755.2 L427.2,755.15 L427.8,755.27 L428.4,755.13 L429,754.22 L429.6,753.45 L430.2,753.4 L430.8,753.08 L431.4,752.64 L432,753.34 L432.6,753.27 L433.2,752.24 L433.8,752.28 L434.4,752.13 L435,753.29 L435.6,753.45 L436.2,753.58 L436.8,753.82 L437.4,754.45 L438,754.4 L438.6,755.11 L439.2,756.09 L439.8,755.96 L440.4,755.88 L441,757.22 L441.6,757.1 L442.2,756.35 L442.8,755.54 L443.4,754.87 L444,754.88 L444.6,754.64 L445.2,753.61 L445.8,752.47 L446.4,752.74 L447,754.1 L447.6,754.11 L448.2,754.82 L448.8,754.95 L449.4,753.83 L450,754.6 L450.6,754.88 L451.2,754.84 L451.8,754.67 L452.4,755.46 L453,755.26 L453.6,755.96 L454.2,756.48 L454.8,757.55 L455.4,757.69 L456,756.63 L456.6,756.43 L457.2,755.72 L457.8,756.49 L458.4,756.46 L459,755.1 L459.6,754.64 L460.2,754.08 L460.8,753.38 L461.4,755.12 L462,756.41 L462.6,757.95 L463.2,758.4 L463.8,758.34 L464.4,759.65 L465,760.53 L465.6,762.96 L466.2,764.26 L466.8,764.54 L467.4,762.8 L468,760.9 L468.6,760.8 L469.2,760.51 L469.8,758.14 L470.4,756.66 L471,754.35 L471.6,753.77 L472.2,753.57 L472.8,753.35 L473.4,754.32 L474,755.01 L474.6,755.19 L475.2,756.79 L475.8,757.25 L476.4,757.44 L477,757.68 L477.6,757.53 L478.2,756.25 L478.8,755.7 L479.4,756.16 L480,754.98 L480.6,753.35 L481.2,752.13 L481.8,750.64 L482.4,750.54 L483,751.01 L483.6,751.84 L484.2,751.84 L484.8,751.97 L485.4,751.78 L486,752.58 L486.6,752.31 L487.2,753.28 L487.8,753.6 L488.4,752.56 L489,752.47 L489.6,752.96 L490.2,752.34 L490.8,751.87 L491.4,752.78 L492,752.45 L492.6,752.11 L493.2,752.54 L493.8,753.13 L494.4,752.85 L495,753.01 L495.6,753.84 L496.2,754.14 L496.8,754.15 L497.4,754.45 L498,754.36 L498.6,754.7 L499.2,753.41 L499.8,753.37 L500.4,753.42 L501,754.5 L501.6,754.27 L502.2,754.41 L502.8,755.13 L503.4,755.54 L504,755.59 L504.6,755.25 L505.2,755.86 L505.8,755.07 L506.4,755.2 L507,754.67 L507.6,754.09 L508.2,755.6 L508.8,756.23 L509.4,756.98 L510,757.46 L510.6,757.7 L511.2,756.78 L511.8,756.79 L512.4,756.28 L513,756.27 L513.6,755.65 L514.2,755.81 L514.8,756.69 L515.4,755.87" fill="none" stroke="#141450" stroke-width="1.25" stroke-linejoin="round"/>
<line x1="452.25" y1="718.4" x2="452.25" y2="793.9" stroke="#505050" stroke-width="1.2"/>
<rect x="389.2" y="718.4" width="126.1" height="75.5" fill="none" stroke="#2b2b2b" stroke-width="1.1"/>
<rect x="452.55" y="796" width="61.15" height="8.3" fill="#BF0000"/>
<path d="M542.23,718.4v2.2M542.23,793.9v-2.2M554.86,718.4v2.2M554.86,793.9v-2.2M567.49,718.4v2.2M567.49,793.9v-2.2M580.12,718.4v2.2M580.12,793.9v-2.2M605.38,718.4v2.2M605.38,793.9v-2.2M618.01,718.4v2.2M618.01,793.9v-2.2M630.64,718.4v2.2M630.64,793.9v-2.2M643.27,718.4v2.2M643.27,793.9v-2.2M529.6,787.25h2M655.9,787.25h-2M529.6,771.7h2M655.9,771.7h-2M529.6,756.15h2M655.9,756.15h-2M529.6,740.6h2M655.9,740.6h-2M529.6,725.05h2M655.9,725.05h-2" stroke="#333" stroke-width="0.9" fill="none"/>
<path d="M529.8,756.31 L530.4,757.05 L531,756.48 L531.6,756.76 L532.2,757.17 L532.8,757.5 L533.4,757.23 L534,757.43 L534.6,757.04 L535.2,757.78 L535.8,758.18 L536.4,759.21 L537,759.22 L537.6,759.36 L538.2,758.81 L538.8,758.1 L539.4,758.74 L540,758.81 L540.6,758.09 L541.2,757.25 L541.8,756.98 L542.4,756.18 L543,755.58 L543.6,754.42 L544.2,753.34 L544.8,752.71 L545.4,752.39 L546,752.07 L546.6,752.23 L547.2,753.87 L547.8,754.52 L548.4,754.11 L549,754.95 L549.6,755.1 L550.2,755.05 L550.8,756.76 L551.4,757.54 L552,758.82 L552.6,759.24 L553.2,758.49 L553.8,758.59 L554.4,758.51 L555,758.25 L555.6,756.95 L556.2,756.49 L556.8,756.4 L557.4,755.61 L558,756.39 L558.6,756.56 L559.2,755.52 L559.8,755.97 L560.4,755.79 L561,755.46 L561.6,755.97 L562.2,756.71 L562.8,756.43 L563.4,755.76 L564,756.2 L564.6,756.88 L565.2,757.48 L565.8,757.42 L566.4,756.45 L567,757.53 L567.6,757.4 L568.2,756.65 L568.8,756.53 L569.4,756.5 L570,757.42 L570.6,757.02 L571.2,757.67 L571.8,756.04 L572.4,755.24 L573,753.87 L573.6,751.91 L574.2,750.46 L574.8,750.86 L575.4,751.56 L576,751.28 L576.6,752.82 L577.2,754.36 L577.8,755.14 L578.4,755.39 L579,754.79 L579.6,755.35 L580.2,755.42 L580.8,756.29 L581.4,756.39 L582,756.71 L582.6,757.08 L583.2,756.85 L583.8,757.61 L584.4,757.22 L585,757.39 L585.6,758.07 L586.2,757.1 L586.8,756.71 L587.4,755.95 L588,754.83 L588.6,754.65 L589.2,755.07 L589.8,754.6 L590.4,754.66 L591,754.64 L591.6,754.82 L592.2,756.02 L592.8,756.35 L593.4,756.77 L594,756.35 L594.6,756.51 L595.2,755.33 L595.8,754.75 L596.4,754.5 L597,754.61 L597.6,755.5 L598.2,754.54 L598.8,754.43 L599.4,753.67 L600,753.24 L600.6,753.8 L601.2,754.23 L601.8,754.91 L602.4,756.47 L603,757.6 L603.6,758.59 L604.2,758.68 L604.8,759.1 L605.4,760.12 L606,762.43 L606.6,763.01 L607.2,763.08 L607.8,763.9 L608.4,763.25 L609,763.7 L609.6,763.18 L610.2,762.98 L610.8,760.69 L611.4,758.94 L612,757.58 L612.6,756.23 L613.2,754.14 L613.8,753.17 L614.4,753.15 L615,752.34 L615.6,751.64 L616.2,751.58 L616.8,752.12 L617.4,751.37 L618,751.06 L618.6,749.45 L619.2,749.27 L619.8,748.04 L620.4,747.95 L621,749 L621.6,749.28 L622.2,749.87 L622.8,749.69 L623.4,750.25 L624,750.05 L624.6,750.43 L625.2,750.66 L625.8,751.54 L626.4,751.84 L627,752.15 L627.6,753.24 L628.2,753.73 L628.8,754.35 L629.4,754.19 L630,754.18 L630.6,753.63 L631.2,754.52 L631.8,754.39 L632.4,754.62 L633,754.38 L633.6,753.18 L634.2,752.61 L634.8,753.29 L635.4,753.04 L636,753.15 L636.6,753.64 L637.2,753.26 L637.8,754.72 L638.4,755.02 L639,755.49 L639.6,755.09 L640.2,754.45 L640.8,754.44 L641.4,754.27 L642,753.86 L642.6,753.71 L643.2,753.94 L643.8,754.44 L644.4,755.14 L645,757.05 L645.6,757.51 L646.2,757.71 L646.8,758.12 L647.4,757.96 L648,757.36 L648.6,756.83 L649.2,757.47 L649.8,757.38 L650.4,758.22 L651,758.88 L651.6,760.39 L652.2,759.68 L652.8,759.24 L653.4,758.28 L654,756.49 L654.6,755.43 L655.2,755.68" fill="none" stroke="#c8c8f4" stroke-width="3.6" stroke-linejoin="round" stroke-linecap="round"/>
<path d="M529.8,756.31 L530.4,757.05 L531,756.48 L531.6,756.76 L532.2,757.17 L532.8,757.5 L533.4,757.23 L534,757.43 L534.6,757.04 L535.2,757.78 L535.8,758.18 L536.4,759.21 L537,759.22 L537.6,759.36 L538.2,758.81 L538.8,758.1 L539.4,758.74 L540,758.81 L540.6,758.09 L541.2,757.25 L541.8,756.98 L542.4,756.18 L543,755.58 L543.6,754.42 L544.2,753.34 L544.8,752.71 L545.4,752.39 L546,752.07 L546.6,752.23 L547.2,753.87 L547.8,754.52 L548.4,754.11 L549,754.95 L549.6,755.1 L550.2,755.05 L550.8,756.76 L551.4,757.54 L552,758.82 L552.6,759.24 L553.2,758.49 L553.8,758.59 L554.4,758.51 L555,758.25 L555.6,756.95 L556.2,756.49 L556.8,756.4 L557.4,755.61 L558,756.39 L558.6,756.56 L559.2,755.52 L559.8,755.97 L560.4,755.79 L561,755.46 L561.6,755.97 L562.2,756.71 L562.8,756.43 L563.4,755.76 L564,756.2 L564.6,756.88 L565.2,757.48 L565.8,757.42 L566.4,756.45 L567,757.53 L567.6,757.4 L568.2,756.65 L568.8,756.53 L569.4,756.5 L570,757.42 L570.6,757.02 L571.2,757.67 L571.8,756.04 L572.4,755.24 L573,753.87 L573.6,751.91 L574.2,750.46 L574.8,750.86 L575.4,751.56 L576,751.28 L576.6,752.82 L577.2,754.36 L577.8,755.14 L578.4,755.39 L579,754.79 L579.6,755.35 L580.2,755.42 L580.8,756.29 L581.4,756.39 L582,756.71 L582.6,757.08 L583.2,756.85 L583.8,757.61 L584.4,757.22 L585,757.39 L585.6,758.07 L586.2,757.1 L586.8,756.71 L587.4,755.95 L588,754.83 L588.6,754.65 L589.2,755.07 L589.8,754.6 L590.4,754.66 L591,754.64 L591.6,754.82 L592.2,756.02 L592.8,756.35 L593.4,756.77 L594,756.35 L594.6,756.51 L595.2,755.33 L595.8,754.75 L596.4,754.5 L597,754.61 L597.6,755.5 L598.2,754.54 L598.8,754.43 L599.4,753.67 L600,753.24 L600.6,753.8 L601.2,754.23 L601.8,754.91 L602.4,756.47 L603,757.6 L603.6,758.59 L604.2,758.68 L604.8,759.1 L605.4,760.12 L606,762.43 L606.6,763.01 L607.2,763.08 L607.8,763.9 L608.4,763.25 L609,763.7 L609.6,763.18 L610.2,762.98 L610.8,760.69 L611.4,758.94 L612,757.58 L612.6,756.23 L613.2,754.14 L613.8,753.17 L614.4,753.15 L615,752.34 L615.6,751.64 L616.2,751.58 L616.8,752.12 L617.4,751.37 L618,751.06 L618.6,749.45 L619.2,749.27 L619.8,748.04 L620.4,747.95 L621,749 L621.6,749.28 L622.2,749.87 L622.8,749.69 L623.4,750.25 L624,750.05 L624.6,750.43 L625.2,750.66 L625.8,751.54 L626.4,751.84 L627,752.15 L627.6,753.24 L628.2,753.73 L628.8,754.35 L629.4,754.19 L630,754.18 L630.6,753.63 L631.2,754.52 L631.8,754.39 L632.4,754.62 L633,754.38 L633.6,753.18 L634.2,752.61 L634.8,753.29 L635.4,753.04 L636,753.15 L636.6,753.64 L637.2,753.26 L637.8,754.72 L638.4,755.02 L639,755.49 L639.6,755.09 L640.2,754.45 L640.8,754.44 L641.4,754.27 L642,753.86 L642.6,753.71 L643.2,753.94 L643.8,754.44 L644.4,755.14 L645,757.05 L645.6,757.51 L646.2,757.71 L646.8,758.12 L647.4,757.96 L648,757.36 L648.6,756.83 L649.2,757.47 L649.8,757.38 L650.4,758.22 L651,758.88 L651.6,760.39 L652.2,759.68 L652.8,759.24 L653.4,758.28 L654,756.49 L654.6,755.43 L655.2,755.68" fill="none" stroke="#141450" stroke-width="1.25" stroke-linejoin="round"/>
<line x1="592.75" y1="718.4" x2="592.75" y2="793.9" stroke="#505050" stroke-width="1.2"/>
<rect x="529.6" y="718.4" width="126.3" height="75.5" fill="none" stroke="#2b2b2b" stroke-width="1.1"/>
<rect x="593.75" y="796.8" width="62.35" height="8.3" fill="#BF0000"/>
<rect x="32.8" y="743.3" width="51.8" height="24.9" fill="#BF0000"/>
<text x="30.2" y="736.9" style="font-size:25px">No.15</text>
<path d="M120.15,815.45v2.2M120.15,890.45v-2.2M132.8,815.45v2.2M132.8,890.45v-2.2M145.45,815.45v2.2M145.45,890.45v-2.2M158.1,815.45v2.2M158.1,890.45v-2.2M183.4,815.45v2.2M183.4,890.45v-2.2M196.05,815.45v2.2M196.05,890.45v-2.2M208.7,815.45v2.2M208.7,890.45v-2.2M221.35,815.45v2.2M221.35,890.45v-2.2M107.5,884.05h2M234,884.05h-2M107.5,868.5h2M234,868.5h-2M107.5,852.95h2M234,852.95h-2M107.5,837.4h2M234,837.4h-2M107.5,821.85h2M234,821.85h-2" stroke="#333" stroke-width="0.9" fill="none"/>
<path d="M107.4,856 L108.1,855.84 L108.8,855.98 L109.5,855.77 L110.2,855.8 L110.9,856.08 L111.6,855.61 L112.3,855.56 L113,855.73 L113.7,855.42 L114.4,855.33 L115.1,855.7 L115.8,855.94 L116.5,855.64 L117.2,855.48 L117.9,855.92 L118.6,855.7 L119.3,855.82 L120,855.88 L120.7,855.95 L121.4,856.16 L122.1,856.28 L122.8,856.18 L123.5,856.24 L124.2,856.26 L124.9,856.18 L125.6,855.96 L126.3,855.68 L127,855.51 L127.7,855.75 L128.4,855.6 L129.1,855.1 L129.8,855.33 L130.5,854.98 L131.2,855.07 L131.9,854.86 L132.6,854.56 L133.3,854.29 L134,854.27 L134.7,854.03 L135.4,853.95 L136.1,853.88 L136.8,853.86 L137.5,853.87 L138.2,853.72 L138.9,853.83 L139.6,853.55 L140.3,853.64 L141,853.58 L141.7,853.52 L142.4,853.05 L143.1,853.11 L143.8,853.07 L144.5,852.78 L145.2,852.83 L145.9,852.93 L146.6,852.64 L147.3,852.53 L148,852.81 L148.7,852.78 L149.4,853.09 L150.1,853.1 L150.8,853.06 L151.5,853.01 L152.2,852.63 L152.9,852.78 L153.6,852.44 L154.3,852.33 L155,852.42 L155.7,852.35 L156.4,852.17 L157.1,852.36 L157.8,852.65 L158.5,852.18 L159.2,852.06 L159.9,852.39 L160.6,852.23 L161.3,852.1 L162,852 L162.7,852.19 L163.4,852.01 L164.1,851.85 L164.8,851.7 L165.5,851.81 L166.2,851.31 L166.9,851.31 L167.6,851.35 L168.3,850.91 L169,850.89 L169.7,850.86 L170.4,851.02 L171.1,850.99 L171.8,850.95 L172.5,850.79 L173.2,850.79 L173.9,851.06 L174.6,850.64 L175.3,850.45 L176,850.41 L176.7,850.3 L177.4,850.3 L178.1,850.39 L178.8,850.67 L179.5,850.91 L180.2,850.44 L180.9,850.59 L181.6,850.51 L182.3,850.89 L183,851.11 L183.7,851.03 L184.4,850.62 L185.1,850.78 L185.8,850.82 L186.5,850.92 L187.2,850.78 L187.9,850.63 L188.6,850.93 L189.3,851.18 L190,850.96 L190.7,850.91 L191.4,850.7 L192.1,850.91 L192.8,851.16 L193.5,851.04 L194.2,850.79 L194.9,850.7 L195.6,851.1 L196.3,851.16 L197,850.91 L197.7,850.95 L198.4,850.69 L199.1,850.83 L199.8,850.51 L200.5,850.52 L201.2,850.59 L201.9,850.56 L202.6,850.41 L203.3,850.55 L204,850.32 L204.7,850.53 L205.4,850.63 L206.1,850.5 L206.8,850.67 L207.5,850.28 L208.2,850.56 L208.9,850.08 L209.6,850.2 L210.3,849.99 L211,849.85 L211.7,849.88 L212.4,849.93 L213.1,849.7 L213.8,849.78 L214.5,850.18 L215.2,850.23 L215.9,850.14 L216.6,850.26 L217.3,849.97 L218,849.99 L218.7,850.04 L219.4,849.81 L220.1,849.68 L220.8,849.42 L221.5,849.82 L222.2,849.63 L222.9,849.52 L223.6,849.54 L224.3,849.92 L225,849.79 L225.7,850.01 L226.4,850.08 L227.1,850.29 L227.8,850.22 L228.5,850.2 L229.2,849.67 L229.9,849.29 L230.6,849.06 L231.3,848.99 L232,848.83 L232.7,848.75 L233.4,849.02" fill="none" stroke="#1e1e6e" stroke-width="1.1" stroke-linejoin="round"/>
<line x1="170.75" y1="815.45" x2="170.75" y2="890.45" stroke="#505050" stroke-width="1.2"/>
<rect x="107.5" y="815.45" width="126.5" height="75" fill="none" stroke="#2b2b2b" stroke-width="1.1"/>
<rect x="170.75" y="906.2" width="62.25" height="7.9" fill="#000000"/>
<text x="102.2" y="824.95" text-anchor="end" class="tk">1</text>
<text x="104.8" y="839.85" text-anchor="end" class="tk">0.5</text>
<text x="104" y="856.15" text-anchor="end" class="tk">0</text>
<text x="103.5" y="871.05" text-anchor="end" class="tk">-0.5</text>
<text x="104.8" y="886.85" text-anchor="end" class="tk">-1</text>
<text x="106.4" y="904.4" text-anchor="middle" class="tk">-1</text>
<text x="131.1" y="904.4" text-anchor="middle" class="tk">-0.6</text>
<text x="171.35" y="904.4" text-anchor="middle" class="tk">0</text>
<text x="207.3" y="904.4" text-anchor="middle" class="tk">0.6</text>
<text x="233.1" y="904.4" text-anchor="middle" class="tk">1</text>
<path d="M261.08,815.45v2.2M261.08,890.45v-2.2M273.66,815.45v2.2M273.66,890.45v-2.2M286.24,815.45v2.2M286.24,890.45v-2.2M298.82,815.45v2.2M298.82,890.45v-2.2M323.98,815.45v2.2M323.98,890.45v-2.2M336.56,815.45v2.2M336.56,890.45v-2.2M349.14,815.45v2.2M349.14,890.45v-2.2M361.72,815.45v2.2M361.72,890.45v-2.2M248.5,884.05h2M374.3,884.05h-2M248.5,868.5h2M374.3,868.5h-2M248.5,852.95h2M374.3,852.95h-2M248.5,837.4h2M374.3,837.4h-2M248.5,821.85h2M374.3,821.85h-2" stroke="#333" stroke-width="0.9" fill="none"/>
<path d="M248.4,855.25 L249.1,855.27 L249.8,854.99 L250.5,855.2 L251.2,854.81 L251.9,854.76 L252.6,854.86 L253.3,854.47 L254,854.59 L254.7,854.41 L255.4,854.18 L256.1,854.11 L256.8,854.07 L257.5,853.91 L258.2,854.21 L258.9,853.94 L259.6,854.18 L260.3,854.15 L261,853.63 L261.7,853.56 L262.4,853.64 L263.1,853.86 L263.8,853.53 L264.5,853.66 L265.2,853.55 L265.9,853.75 L266.6,853.81 L267.3,853.6 L268,853.04 L268.7,853.03 L269.4,852.67 L270.1,852.64 L270.8,852.29 L271.5,852.34 L272.2,852.37 L272.9,852.26 L273.6,852.16 L274.3,852.06 L275,851.82 L275.7,851.41 L276.4,851.68 L277.1,851.39 L277.8,850.96 L278.5,851 L279.2,850.96 L279.9,850.79 L280.6,851.2 L281.3,850.84 L282,851.19 L282.7,851.09 L283.4,850.84 L284.1,850.86 L284.8,850.92 L285.5,850.74 L286.2,851.07 L286.9,851.11 L287.6,851.33 L288.3,851.31 L289,851.28 L289.7,851.4 L290.4,851.39 L291.1,851.2 L291.8,851.05 L292.5,850.97 L293.2,851.1 L293.9,851.18 L294.6,851.13 L295.3,851.1 L296,850.58 L296.7,850.61 L297.4,850.4 L298.1,850.61 L298.8,850.66 L299.5,850.66 L300.2,850.83 L300.9,850.52 L301.6,850.71 L302.3,850.69 L303,850.46 L303.7,850.84 L304.4,850.42 L305.1,850.51 L305.8,850.59 L306.5,850.59 L307.2,850.72 L307.9,850.39 L308.6,850.35 L309.3,849.87 L310,849.73 L310.7,849.42 L311.4,849.76 L312.1,850.1 L312.8,850.8 L313.5,851 L314.2,851.56 L314.9,852.21 L315.6,851.88 L316.3,852.24 L317,852.49 L317.7,852.74 L318.4,852.87 L319.1,853.01 L319.8,853.46 L320.5,853.31 L321.2,853.6 L321.9,853.73 L322.6,853.76 L323.3,853.58 L324,853.21 L324.7,853.49 L325.4,853.25 L326.1,853.42 L326.8,853.56 L327.5,853.44 L328.2,853.14 L328.9,853.28 L329.6,853.03 L330.3,852.92 L331,853.09 L331.7,853.25 L332.4,853.4 L333.1,853.44 L333.8,853.44 L334.5,853.72 L335.2,853.63 L335.9,853.83 L336.6,853.59 L337.3,853.63 L338,854.11 L338.7,853.9 L339.4,853.98 L340.1,853.82 L340.8,854.24 L341.5,854.17 L342.2,854.02 L342.9,854.14 L343.6,854.62 L344.3,854.72 L345,854.33 L345.7,854.78 L346.4,854.42 L347.1,854.56 L347.8,854.66 L348.5,854.87 L349.2,854.59 L349.9,854.93 L350.6,854.75 L351.3,854.99 L352,855.22 L352.7,855.11 L353.4,854.74 L354.1,855.01 L354.8,854.94 L355.5,855.07 L356.2,855.12 L356.9,854.71 L357.6,854.81 L358.3,854.86 L359,855.02 L359.7,854.86 L360.4,854.79 L361.1,854.83 L361.8,854.47 L362.5,854.82 L363.2,854.86 L363.9,854.99 L364.6,854.85 L365.3,855.12 L366,855.24 L366.7,855.23 L367.4,855.73 L368.1,855.86 L368.8,855.55 L369.5,855.09 L370.2,855.34 L370.9,854.77 L371.6,854.66 L372.3,854.52 L373,854.53 L373.7,854.32 L374.4,854.15" fill="none" stroke="#1e1e6e" stroke-width="1.1" stroke-linejoin="round"/>
<line x1="311.4" y1="815.45" x2="311.4" y2="890.45" stroke="#505050" stroke-width="1.2"/>
<rect x="248.5" y="815.45" width="125.8" height="75" fill="none" stroke="#2b2b2b" stroke-width="1.1"/>
<rect x="311.5" y="905.9" width="61.6" height="7.9" fill="#000000"/>
<text x="247.4" y="904.4" text-anchor="middle" class="tk">-1</text>
<text x="271.96" y="904.4" text-anchor="middle" class="tk">-0.6</text>
<text x="312" y="904.4" text-anchor="middle" class="tk">0</text>
<text x="347.74" y="904.4" text-anchor="middle" class="tk">0.6</text>
<text x="373.4" y="904.4" text-anchor="middle" class="tk">1</text>
<path d="M401.81,815.45v2.2M401.81,890.45v-2.2M414.42,815.45v2.2M414.42,890.45v-2.2M427.03,815.45v2.2M427.03,890.45v-2.2M439.64,815.45v2.2M439.64,890.45v-2.2M464.86,815.45v2.2M464.86,890.45v-2.2M477.47,815.45v2.2M477.47,890.45v-2.2M490.08,815.45v2.2M490.08,890.45v-2.2M502.69,815.45v2.2M502.69,890.45v-2.2M389.2,884.05h2M515.3,884.05h-2M389.2,868.5h2M515.3,868.5h-2M389.2,852.95h2M515.3,852.95h-2M389.2,837.4h2M515.3,837.4h-2M389.2,821.85h2M515.3,821.85h-2" stroke="#333" stroke-width="0.9" fill="none"/>
<path d="M389.4,854.29 L390.1,853.87 L390.8,854.16 L391.5,854.15 L392.2,854.47 L392.9,854.31 L393.6,854.61 L394.3,854.3 L395,854.73 L395.7,854.57 L396.4,854.39 L397.1,854.45 L397.8,854.66 L398.5,854.41 L399.2,854.57 L399.9,854.44 L400.6,854.48 L401.3,854.6 L402,854.72 L402.7,854.84 L403.4,855.23 L404.1,855.19 L404.8,855.47 L405.5,855.63 L406.2,855.71 L406.9,855.79 L407.6,855.49 L408.3,855.34 L409,855.28 L409.7,854.92 L410.4,854.41 L411.1,854.33 L411.8,854.21 L412.5,853.88 L413.2,853.67 L413.9,853.6 L414.6,853.8 L415.3,853.84 L416,853.66 L416.7,853.36 L417.4,852.94 L418.1,852.71 L418.8,852.97 L419.5,853 L420.2,852.97 L420.9,852.79 L421.6,852.7 L422.3,852.7 L423,852.67 L423.7,852.95 L424.4,852.87 L425.1,852.99 L425.8,852.95 L426.5,853.01 L427.2,853.16 L427.9,853.25 L428.6,852.93 L429.3,853.34 L430,853.44 L430.7,853.5 L431.4,853.33 L432.1,853.61 L432.8,853.65 L433.5,853.36 L434.2,853.55 L434.9,853.75 L435.6,853.78 L436.3,853.9 L437,853.73 L437.7,853.72 L438.4,853.32 L439.1,853.5 L439.8,853.21 L440.5,853.41 L441.2,853.54 L441.9,853.23 L442.6,852.9 L443.3,852.73 L444,852.93 L444.7,852.76 L445.4,853.02 L446.1,852.98 L446.8,852.82 L447.5,852.79 L448.2,852.39 L448.9,852.34 L449.6,852 L450.3,852.11 L451,852.25 L451.7,851.87 L452.4,852.05 L453.1,852.29 L453.8,851.95 L454.5,851.74 L455.2,851.66 L455.9,851.96 L456.6,851.59 L457.3,851.85 L458,851.61 L458.7,851.8 L459.4,851.92 L460.1,851.93 L460.8,851.53 L461.5,851.6 L462.2,851.49 L462.9,851.79 L463.6,851.54 L464.3,851.38 L465,851.47 L465.7,851.31 L466.4,851.33 L467.1,851.63 L467.8,851.51 L468.5,851.38 L469.2,851.78 L469.9,851.52 L470.6,851.75 L471.3,851.77 L472,851.72 L472.7,851.78 L473.4,851.79 L474.1,851.98 L474.8,851.99 L475.5,851.76 L476.2,851.94 L476.9,851.94 L477.6,852.21 L478.3,851.84 L479,851.92 L479.7,852.23 L480.4,851.78 L481.1,851.99 L481.8,852.14 L482.5,851.99 L483.2,851.58 L483.9,851.84 L484.6,851.59 L485.3,851.64 L486,851.81 L486.7,851.56 L487.4,851.43 L488.1,851.31 L488.8,851.4 L489.5,851.29 L490.2,851.61 L490.9,851.8 L491.6,851.4 L492.3,851.55 L493,851.76 L493.7,851.82 L494.4,851.54 L495.1,851.59 L495.8,851.67 L496.5,851.57 L497.2,851.78 L497.9,851.76 L498.6,851.74 L499.3,851.19 L500,850.89 L500.7,851.09 L501.4,851.12 L502.1,850.91 L502.8,850.81 L503.5,851.1 L504.2,851.21 L504.9,850.78 L505.6,850.7 L506.3,851.03 L507,850.96 L507.7,850.78 L508.4,851.19 L509.1,850.97 L509.8,850.73 L510.5,850.85 L511.2,850.88 L511.9,850.96 L512.6,850.99 L513.3,850.51 L514,850.5 L514.7,850.7 L515.4,850.48" fill="none" stroke="#1e1e6e" stroke-width="1.1" stroke-linejoin="round"/>
<line x1="452.25" y1="815.45" x2="452.25" y2="890.45" stroke="#505050" stroke-width="1.2"/>
<rect x="389.2" y="815.45" width="126.1" height="75" fill="none" stroke="#2b2b2b" stroke-width="1.1"/>
<rect x="452.55" y="906.7" width="61.15" height="7.9" fill="#000000"/>
<text x="388.1" y="904.4" text-anchor="middle" class="tk">-1</text>
<text x="412.72" y="904.4" text-anchor="middle" class="tk">-0.6</text>
<text x="452.85" y="904.4" text-anchor="middle" class="tk">0</text>
<text x="488.68" y="904.4" text-anchor="middle" class="tk">0.6</text>
<text x="514.4" y="904.4" text-anchor="middle" class="tk">1</text>
<path d="M542.23,815.45v2.2M542.23,890.45v-2.2M554.86,815.45v2.2M554.86,890.45v-2.2M567.49,815.45v2.2M567.49,890.45v-2.2M580.12,815.45v2.2M580.12,890.45v-2.2M605.38,815.45v2.2M605.38,890.45v-2.2M618.01,815.45v2.2M618.01,890.45v-2.2M630.64,815.45v2.2M630.64,890.45v-2.2M643.27,815.45v2.2M643.27,890.45v-2.2M529.6,884.05h2M655.9,884.05h-2M529.6,868.5h2M655.9,868.5h-2M529.6,852.95h2M655.9,852.95h-2M529.6,837.4h2M655.9,837.4h-2M529.6,821.85h2M655.9,821.85h-2" stroke="#333" stroke-width="0.9" fill="none"/>
<path d="M530.6,855.47 L531.3,855.67 L532,855.5 L532.7,855.61 L533.4,855.8 L534.1,855.63 L534.8,855.72 L535.5,855.76 L536.2,855.87 L536.9,855.42 L537.6,855.34 L538.3,855.81 L539,855.82 L539.7,855.53 L540.4,855.72 L541.1,855.44 L541.8,855.46 L542.5,855.52 L543.2,855.42 L543.9,855.36 L544.6,855.59 L545.3,855.8 L546,855.71 L546.7,855.92 L547.4,856.23 L548.1,855.8 L548.8,855.8 L549.5,855.61 L550.2,855.74 L550.9,855.48 L551.6,855.26 L552.3,854.95 L553,855.11 L553.7,855.16 L554.4,854.96 L555.1,855.08 L555.8,854.73 L556.5,854.63 L557.2,854.93 L557.9,854.57 L558.6,854.37 L559.3,854.22 L560,854.53 L560.7,854.69 L561.4,854.24 L562.1,854.3 L562.8,854.23 L563.5,854.12 L564.2,853.98 L564.9,853.99 L565.6,853.81 L566.3,854.19 L567,853.88 L567.7,853.94 L568.4,853.98 L569.1,853.96 L569.8,853.8 L570.5,853.71 L571.2,853.87 L571.9,853.41 L572.6,853.21 L573.3,853.14 L574,853.33 L574.7,853.16 L575.4,853.04 L576.1,852.78 L576.8,852.69 L577.5,853 L578.2,852.89 L578.9,853.03 L579.6,852.98 L580.3,853.05 L581,853.05 L581.7,853.53 L582.4,853.56 L583.1,853.53 L583.8,853.39 L584.5,853.73 L585.2,853.66 L585.9,853.27 L586.6,853.05 L587.3,853.3 L588,852.87 L588.7,852.63 L589.4,852.2 L590.1,852.37 L590.8,851.91 L591.5,851.82 L592.2,851.78 L592.9,851.58 L593.6,851.35 L594.3,851.42 L595,851.92 L595.7,852.05 L596.4,852.48 L597.1,852.89 L597.8,853.01 L598.5,852.96 L599.2,852.96 L599.9,852.75 L600.6,853.11 L601.3,853.26 L602,852.89 L602.7,852.51 L603.4,852.56 L604.1,852.41 L604.8,852.52 L605.5,852.42 L606.2,852.12 L606.9,852.04 L607.6,851.91 L608.3,851.87 L609,851.71 L609.7,851.53 L610.4,851.06 L611.1,851.12 L611.8,850.59 L612.5,850.45 L613.2,850.56 L613.9,850.3 L614.6,850.56 L615.3,850.48 L616,850.46 L616.7,850.3 L617.4,850.42 L618.1,850.58 L618.8,850.32 L619.5,850.7 L620.2,850.93 L620.9,850.73 L621.6,850.69 L622.3,850.86 L623,850.85 L623.7,850.88 L624.4,850.8 L625.1,850.83 L625.8,850.78 L626.5,850.63 L627.2,851.01 L627.9,851.09 L628.6,850.74 L629.3,851.07 L630,851.29 L630.7,850.99 L631.4,851.17 L632.1,850.78 L632.8,850.87 L633.5,850.97 L634.2,850.74 L634.9,850.56 L635.6,850.39 L636.3,850.56 L637,850.46 L637.7,850.48 L638.4,850.52 L639.1,850.25 L639.8,850.18 L640.5,849.87 L641.2,850.06 L641.9,850.09 L642.6,849.78 L643.3,849.56 L644,849.69 L644.7,849.6 L645.4,849.8 L646.1,849.87 L646.8,849.75 L647.5,849.73 L648.2,849.86 L648.9,849.95 L649.6,849.94 L650.3,850 L651,849.93 L651.7,849.98 L652.4,849.75 L653.1,849.31 L653.8,849.3 L654.5,848.97 L655.2,848.74 L655.9,848.72 L656.6,848.82" fill="none" stroke="#1e1e6e" stroke-width="1.1" stroke-linejoin="round"/>
<line x1="592.75" y1="815.45" x2="592.75" y2="890.45" stroke="#505050" stroke-width="1.2"/>
<rect x="529.6" y="815.45" width="126.3" height="75" fill="none" stroke="#2b2b2b" stroke-width="1.1"/>
<rect x="593.75" y="907.5" width="62.35" height="7.9" fill="#000000"/>
<text x="528.5" y="904.4" text-anchor="middle" class="tk">-1</text>
<text x="553.16" y="904.4" text-anchor="middle" class="tk">-0.6</text>
<text x="593.35" y="904.4" text-anchor="middle" class="tk">0</text>
<text x="629.24" y="904.4" text-anchor="middle" class="tk">0.6</text>
<text x="655" y="904.4" text-anchor="middle" class="tk">1</text>
<rect x="32.8" y="838.2" width="51.8" height="24.8" fill="#000000"/>
<text transform="translate(16.4,612.8) rotate(-90)" text-anchor="middle" style="font-size:19.6px">Z-score</text>
<text transform="translate(401.8,939.7) scale(1.085,1)" text-anchor="middle" style="font-size:22.7px">Time (Sec)</text>
</svg></body></html>
